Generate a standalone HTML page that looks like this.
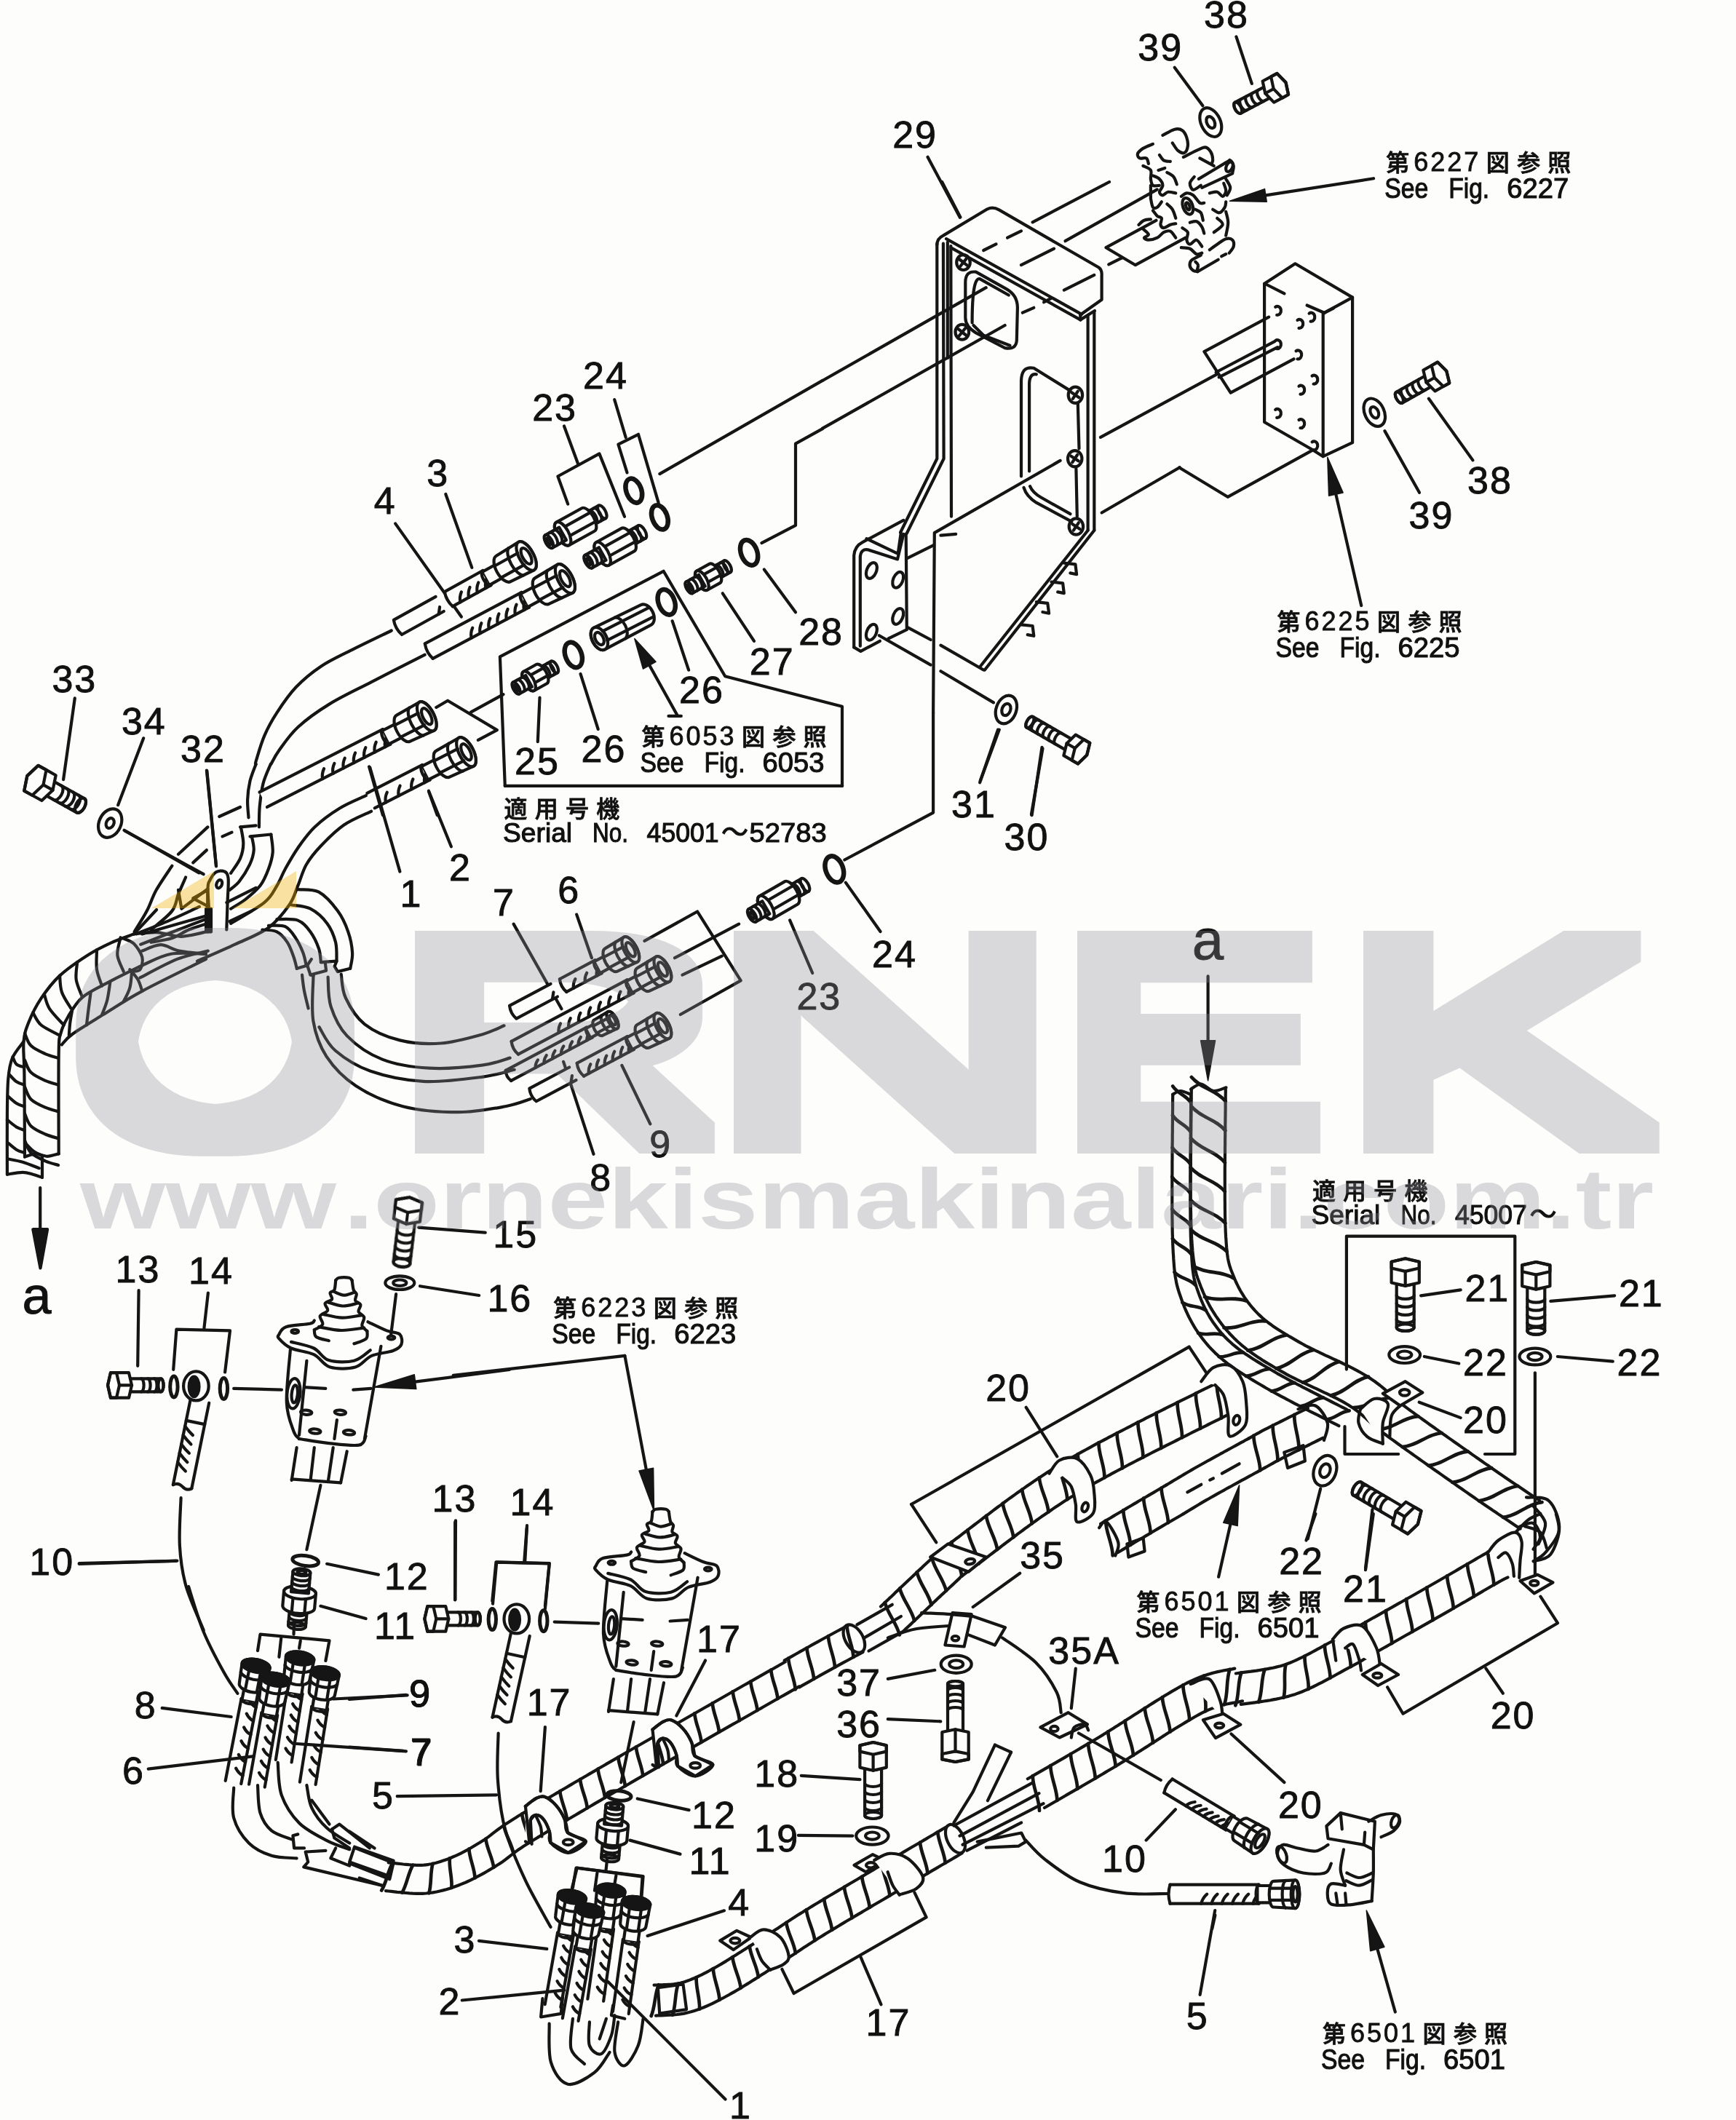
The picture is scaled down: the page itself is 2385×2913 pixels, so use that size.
<!DOCTYPE html>
<html><head><meta charset="utf-8"><title>Parts diagram</title>
<style>
html,body{margin:0;padding:0;background:#fdfdfb;}
svg{display:block}
.d path,.d ellipse,.d line,.d circle,.d rect{fill:none;stroke:#151515;stroke-width:4.2;stroke-linecap:round;stroke-linejoin:round}
.d .w{fill:#fdfdfb}
.d .k{fill:#151515}
text{font-family:"Liberation Sans",sans-serif}
.n{font-size:52px;fill:#111;letter-spacing:2px;stroke:#111;stroke-width:.9px}
.s{font-size:31px;fill:#111;font-family:"Liberation Sans","Noto Sans CJK JP",sans-serif;stroke:#111;stroke-width:1.1px}
.j{font-size:27px;fill:#111;font-family:"Liberation Sans","Noto Sans CJK JP",sans-serif;font-weight:500;stroke:#111;stroke-width:.8px}
.wm{font-weight:bold;fill:#8b8992;fill-opacity:.315}
</style></head><body>
<svg width="2385" height="2913" viewBox="0 0 2385 2913">
<rect width="2385" height="2913" fill="#fdfdfb"/>
<g opacity=".999">
<!-- 10_junction.py -->
<g class="d">
<path d="M283.9 1058.6 L296.9 1189.7"/>
<path d="M171.6 1141.6 L279.6 1201.2"/>
<path d="M285.4 1280.4 C285.4 1270.8 284.9 1234.6 285.4 1222.8 C285.8 1211.1 286.3 1213.9 288.2 1209.9 C290.2 1205.8 293.5 1200.4 296.9 1198.3 C300.2 1196.3 305.6 1196 308.4 1197.5 C311.2 1198.9 312.9 1200.3 313.6 1207 C314.3 1213.6 313.1 1225.5 312.7 1237.2 C312.3 1249 311.5 1270.8 311.3 1277.5" style="fill:#fdfdfb;"/>
<path d="M283.1 1248.7 L290 1248.7 L290 1280.4 L283.1 1280.4 Z" style="fill:#151515;"/>
<ellipse cx="301.2" cy="1214.7" rx="3.7" ry="5.8" transform="rotate(20 301.2 1214.7)"/>
<path d="M245 1222.8 L249.4 1248.7 L285.4 1221.4"/>
<path d="M265.2 1234.3 L285.4 1222.8 L286.8 1245.9 Z"/>
<path d="M330 1136.4 L351.6 1134.4"/>
<path d="M330.9 1136.4 C331.5 1140.2 334.5 1152.2 334.3 1159.4 C334.2 1166.6 332.9 1172.9 330 1179.6 C327.1 1186.3 319.2 1196.4 317.1 1199.8"/>
<path d="M343.5 1149.4 L372.4 1146.5"/>
<path d="M345.9 1149.4 C346.3 1152.5 349.2 1161.6 348.7 1168.1 C348.3 1174.6 346.3 1181 343 1188.2 C339.6 1195.4 333.1 1205.5 328.6 1211.3 C324 1217.1 317.8 1220.9 315.6 1222.8"/>
<path d="M372.4 1146.5 C372.7 1150.6 375.2 1163 374.7 1171 C374.1 1178.9 371.8 1186.3 368.9 1194 C366 1201.7 362.7 1210.1 357.4 1217.1 C352.1 1224 343.9 1230.5 337.2 1235.8 C330.5 1241.1 320.4 1246.6 317.1 1248.7"/>
<path d="M351.6 1050 C350.3 1053.8 345.5 1064.9 343.5 1073 C341.6 1081.2 340.4 1090.6 340.1 1099 C339.8 1107.4 341.3 1119.4 341.5 1123.4"/>
<path d="M371.8 1050 C370.1 1054.3 364.2 1066.3 361.7 1075.9 C359.2 1085.5 357.8 1097.5 356.8 1107.6 C355.8 1117.7 356.1 1131.6 355.9 1136.4"/>
<path d="M502.8 1093.2 C496.8 1096.1 478.6 1103.3 466.8 1110.5 C455.1 1117.7 441.9 1127.3 432.3 1136.4 C422.7 1145.5 415.9 1155.6 409.2 1165.2 C402.5 1174.8 396.7 1185.4 391.9 1194 C387.1 1202.6 385.2 1209.4 380.4 1217.1 C375.6 1224.7 373.7 1231.5 363.1 1240.1 C352.6 1248.7 324.7 1264.1 317.1 1268.9"/>
<path d="M510 1114.8 C503.8 1117.9 484.1 1125.6 472.6 1133.5 C461.1 1141.4 449.5 1153.2 440.9 1162.3 C432.3 1171.4 426 1179.1 420.7 1188.2 C415.5 1197.4 413.1 1207.9 409.2 1217.1 C405.4 1226.2 404.4 1233.4 397.7 1243 C391 1252.6 381.4 1265.5 368.9 1274.7 C356.4 1283.8 339.1 1290 322.8 1297.7 C306.5 1305.4 279.6 1316.9 271 1320.7"/>
<path d="M301.2 1122 L330 1109"/>
<path d="M305.5 1149.4 L318.5 1143.6"/>
<path d="M245 1173.8 L285.4 1136.4"/>
<path d="M265.2 1185.4 L283.9 1168.1"/>
<path d="M236.4 1189.7 C232.8 1195.2 220.6 1212.5 214.8 1222.8 C209 1233.1 206.9 1242 201.8 1251.6 C196.8 1261.2 187.4 1275.6 184.6 1280.4"/>
<path d="M255.1 1205.5 C253.4 1209.4 248.2 1220.9 245 1228.6 C241.9 1236.3 242.6 1243.5 236.4 1251.6 C230.2 1259.8 212.4 1273.2 207.6 1277.5"/>
<path d="M311.3 1240.1 L351.6 1219.9"/>
<path d="M315.6 1266 L345.9 1251.6"/>
<path d="M285.4 1268.9 C281 1270.3 267.6 1274.2 259.4 1277.5 C251.3 1280.9 245 1286.2 236.4 1289.1 C227.8 1291.9 212.4 1293.9 207.6 1294.8"/>
<path d="M273.8 1245.9 C267.6 1248.7 250.8 1256.9 236.4 1263.1 C222 1269.4 195.6 1279.9 187.4 1283.3"/>
<path d="M282.5 1263.1 C276.2 1265.5 259.9 1271.8 245 1277.5 C230.2 1283.3 201.8 1294.3 193.2 1297.7"/>
<path d="M409.2 1222.2 C414 1222.8 428.9 1220.8 438 1225.7 C447.1 1230.6 457.2 1242.5 463.9 1251.6 C470.7 1260.7 475 1270.8 478.3 1280.4 C481.7 1290 483.6 1300.8 484.1 1309.2 C484.6 1317.6 481.7 1327.2 481.2 1330.8"/>
<path d="M400.6 1243.5 C404.9 1244.4 418.3 1244.5 426.5 1248.7 C434.7 1253 443.8 1261.2 449.5 1268.9 C455.3 1276.6 458.9 1286.2 461.1 1294.8 C463.2 1303.5 462.3 1316.4 462.5 1320.7"/>
<path d="M380.4 1263.1 C385.2 1263.4 401.5 1261.7 409.2 1264.6 C416.9 1267.5 421.7 1273.9 426.5 1280.4 C431.3 1286.9 435.6 1296.5 438 1303.5 C440.4 1310.4 440.4 1319.1 440.9 1322.2"/>
<path d="M368.9 1271.8 C372.7 1272 385.7 1270.3 391.9 1273.2 C398.2 1276.1 402.3 1283.1 406.3 1289.1 C410.4 1295.1 414 1303 416.4 1309.2 C418.8 1315.5 420 1323.6 420.7 1326.5"/>
<path d="M360.3 1277.5 C363.6 1278 374.7 1277.5 380.4 1280.4 C386.2 1283.3 391 1289.1 394.8 1294.8 C398.7 1300.6 401.3 1309 403.5 1315 C405.6 1321 407.1 1328.2 407.8 1330.8"/>
<path d="M407.8 1330.8 L422.2 1326.5 L426.5 1339.5 L448.1 1333.7 L446.7 1322.2 L440.9 1322.2"/>
<path d="M422.2 1326.5 L427.9 1317.9"/>
<path d="M440.9 1322.2 L462.5 1320.7 L459.6 1327.9 L463.9 1335.1 L481.2 1330.8"/>
<path d="M426.5 1339.5 L430.8 1340.9"/>
<path d="M415 1339.5 C415.5 1343.1 416.4 1353.4 417.9 1361.1 C419.3 1368.7 422.7 1381.5 423.6 1385.5"/>
</g>
<!-- 11_bundle_left.py -->
<g class="d">
<path d="M184 1283.4 C178.8 1285.4 163.2 1290.6 152.8 1295.3 C142.5 1300 133.5 1304.2 121.7 1311.7 C109.9 1319.2 92.9 1330.6 82.1 1340.6 C71.2 1350.6 63.7 1361.1 56.6 1371.7 C49.5 1382.3 43.6 1394.3 39.6 1404.2 C35.6 1414.2 33.6 1419.1 32.5 1431.1 C31.5 1443.2 33.2 1450 33.4 1476.4 C33.6 1502.8 33.9 1570.8 34 1589.6"/>
<path d="M195.3 1326.4 C187.7 1330.2 163.7 1341.7 150 1349.1 C136.3 1356.4 122.6 1362.3 113.2 1370.3 C103.8 1378.3 98.3 1388.9 93.4 1397.2 C88.4 1405.4 85.6 1411.3 83.5 1419.8 C81.4 1428.3 81.1 1420.5 80.7 1448.1 C80.2 1475.7 80.7 1562.5 80.7 1585.4"/>
<path d="M283 1317.9 C268.4 1325.2 218.9 1349.1 195.3 1361.8 C171.7 1374.5 157.5 1384.4 141.5 1394.3 C125.5 1404.2 108.5 1414.4 99.1 1421.2 C89.6 1428.1 87.3 1433 84.9 1435.4"/>
<path d="M32.5 1431.1 C30 1434.9 20.5 1445.3 17 1453.8 C13.4 1462.3 12.5 1468.9 11.3 1482.1 C10.1 1495.3 10.1 1511.1 9.9 1533 C9.7 1555 9.9 1600.2 9.9 1613.7"/>
<path d="M34 1589.6 C35.4 1589.2 39.6 1587.5 42.5 1586.8 C45.3 1586.1 47.2 1585 50.9 1585.4 C54.7 1585.7 60.1 1588.8 65.1 1588.8 C70 1588.8 78.1 1585.9 80.7 1585.4"/>
<path d="M9.9 1613.7 C13.4 1613.2 25.2 1610.8 31.1 1610.8 C37 1610.8 40.8 1612.5 45.3 1613.7 C49.8 1614.9 55.9 1617.2 58 1617.9"/>
<path d="M58 1617.9 L58 1588.2"/>
<path d="M34 1419.8 C35.4 1422.6 37.7 1432.1 42.5 1436.8 C47.2 1441.5 56 1445.3 62.3 1448.1 C68.5 1450.9 77.1 1452.8 80.1 1453.8"/>
<path d="M34 1456.6 C35.4 1459.4 37.7 1468.9 42.5 1473.6 C47.2 1478.3 56 1482.1 62.3 1484.9 C68.5 1487.7 77.1 1489.6 80.1 1490.6"/>
<path d="M34 1493.4 C35.4 1496.2 37.7 1505.7 42.5 1510.4 C47.2 1515.1 56 1518.9 62.3 1521.7 C68.5 1524.5 77.1 1526.4 80.1 1527.4"/>
<path d="M34 1530.2 C35.4 1533 37.7 1542.5 42.5 1547.2 C47.2 1551.9 56 1555.7 62.3 1558.5 C68.5 1561.3 77.1 1563.2 80.1 1564.2"/>
<path d="M34 1567 C35.4 1569.8 37.7 1579.2 42.5 1584 C47.2 1588.7 56 1592.5 62.3 1595.3 C68.5 1598.1 77.1 1600 80.1 1600.9"/>
<path d="M17.5 1452.4 C18.4 1454 20 1459.9 22.6 1462.3 C25.3 1464.6 31.6 1465.8 33.4 1466.5"/>
<path d="M12.7 1476.4 C14.4 1478.1 19.2 1484 22.6 1486.3 C26.1 1488.7 31.6 1489.9 33.4 1490.6"/>
<path d="M10.8 1506.1 C12.7 1507.8 18.9 1513.7 22.6 1516 C26.4 1518.4 31.6 1519.6 33.4 1520.3"/>
<path d="M9.9 1538.7 C12 1540.3 18.7 1546.2 22.6 1548.6 C26.6 1550.9 31.6 1552.1 33.4 1552.8"/>
<path d="M10.2 1569.8 C12.3 1571.5 18.8 1577.4 22.6 1579.7 C26.5 1582.1 31.6 1583.3 33.4 1584"/>
<path d="M11.3 1592.5 C14.6 1593.2 24.1 1594.6 31.1 1596.7 C38.2 1598.8 50 1603.8 53.8 1605.2"/>
<path d="M34 1569.8 C35.8 1571.7 41.3 1578.1 45.3 1581.1 C49.3 1584.2 55.9 1587 58 1588.2"/>
<path d="M165.6 1288.2 C164.9 1292.2 160.6 1304.5 161.3 1312.3 C162 1320 168.4 1331.1 169.8 1334.9"/>
<path d="M133 1305.2 C133 1309.7 131.8 1323.8 133 1332.1 C134.2 1340.3 138.9 1350.9 140.1 1354.7"/>
<path d="M106.1 1322.2 C105.9 1326.2 103.5 1338.2 104.7 1346.2 C105.9 1354.2 111.8 1366.3 113.2 1370.3"/>
<path d="M82.1 1340.6 C82.5 1344.3 82.3 1355.7 84.9 1363.2 C87.5 1370.8 95.5 1382.1 97.6 1385.8"/>
<path d="M60.8 1366 C62 1369.3 63.4 1378.8 67.9 1385.8 C72.4 1392.9 84.4 1404.7 87.7 1408.5"/>
<path d="M45.3 1391.5 C47.2 1394.3 50.5 1403.3 56.6 1408.5 C62.7 1413.7 77.8 1420.3 82.1 1422.6"/>
<path d="M181.1 1334.9 C180.7 1338.7 180.2 1350.7 178.3 1357.5 C176.4 1364.4 171.2 1372.9 169.8 1375.9"/>
<path d="M151.4 1349.1 C150.7 1353.3 149.1 1367 147.2 1374.5 C145.3 1382.1 141.3 1391 140.1 1394.3"/>
<path d="M124.5 1364.6 C124.1 1368.2 122.6 1378.5 121.7 1385.8 C120.8 1393.2 119.3 1404.7 118.9 1408.5"/>
<path d="M99.1 1388.7 C98.6 1391.5 96.9 1400 96.2 1405.7 C95.5 1411.3 95 1419.8 94.8 1422.6"/>
<path d="M169.8 1289.6 C172.2 1290.8 179.7 1292.5 184 1296.7 C188.2 1300.9 193.9 1309.2 195.3 1315.1 C196.7 1321 194.8 1328.8 192.5 1332.1 C190.1 1335.4 183 1334.4 181.1 1334.9"/>
<path d="M178.3 1332.1 C180.2 1334.4 186.8 1341.3 189.6 1346.2 C192.5 1351.2 194.3 1359.2 195.3 1361.8"/>
<path d="M184 1283.4 C189.2 1283 204.2 1280.6 215.1 1281.1 C225.9 1281.7 237.3 1287 249.1 1286.8 C260.8 1286.6 279.7 1280.9 285.8 1279.7"/>
<path d="M195.3 1306.6 C199.5 1305.2 212.3 1298.1 220.8 1298.1 C229.2 1298.1 235.8 1304.5 246.2 1306.6 C256.6 1308.7 276.9 1310.1 283 1310.8"/>
<path d="M195.3 1326.4 C201.9 1323.8 220.3 1313.4 234.9 1310.8 C249.5 1308.3 275 1310.8 283 1310.8"/>
<path d="M192.5 1343.4 C200.9 1339.2 227.8 1324.1 243.4 1317.9 C259 1311.8 278.8 1308.5 285.8 1306.6"/>
<path d="M184 1283.4 L215.1 1250"/>
<path d="M195.3 1283.4 L283 1258.5"/>
<path d="M55.2 1632.1 L55.2 1691.5"/>
<path d="M45.3 1689.2 L65.1 1689.2 L55.5 1742.5 Z" style="fill:#151515;"/>
<text class="n" x="30.6" y="1805.3" style="font-size:72px">a</text>
</g>
<!-- 12_topleft.py -->
<g class="d">
<text class="n" x="71.4" y="950.6">33</text>
<text class="n" x="166.9" y="1009.4">34</text>
<text class="n" x="248" y="1046.9">32</text>
<path d="M102.8 959.4 L87.1 1071.1"/>
<path d="M197.2 1014.3 L162.1 1106.2"/>
<path d="M284.3 1059 L297.1 1190.4"/>
<g transform="translate(48.4 1072.3) rotate(29)"><path class="w" d="M15 -11 L71 -11 A6.1 11 0 0 1 71 11 L15 11 Z"/><ellipse cx="71" cy="0" rx="6.1" ry="11"/><path d="M62 -11 A6.1 11 0 0 1 62 11M53 -11 A6.1 11 0 0 1 53 11M44 -11 A6.1 11 0 0 1 44 11M35 -11 A6.1 11 0 0 1 35 11"/><ellipse class="w" cx="17" cy="0" rx="8.3" ry="15.2"/><path class="w" d="M-6.3 19.9 L6.3 19.9 L21.3 19.9 L27.6 0 L21.3 -19.9 L6.3 -19.9 L-6.3 -19.9 L-12.7 0 Z"/><path d="M12.7 0 L6.3 19.9 L-6.3 19.9 L-12.7 0 L-6.3 -19.9 L6.3 -19.9 Z"/><path d="M12.7 0 L27.6 0"/></g>
<ellipse class="w" cx="151.2" cy="1131.1" rx="15" ry="20.6" transform="rotate(25 151.2 1131.1)"/>
<ellipse cx="151.2" cy="1131.1" rx="5.2" ry="7.2" transform="rotate(25 151.2 1131.1)"/>
<path d="M170.6 1140.8 L273.4 1199.4"/>
</g>
<!-- 13_hoses1234.py -->
<g class="d">
<text class="n" x="586.3" y="667.5">3</text>
<text class="n" x="513.8" y="706.4">4</text>
<path d="M612.3 679 L648.3 779.9"/>
<path d="M543.1 719.4 L633.9 847.5"/>
<g transform="translate(723.1 764) rotate(-29)"><path class="w" d="M-122 -11.5 L-62 -11.5 L-62 11.5 L-122 11.5"/><path d="M-122 -11.5 Q-126 0 -122 11.5"/><path d="M-110 11.5 q2 -6.9 8 -11.5M-96.7 11.5 q2 -6.9 8 -11.5M-83.3 11.5 q2 -6.9 8 -11.5M-70 11.5 q2 -6.9 8 -11.5"/><path class="w" d="M-62 -10.3 L-32 -10.3 L-32 10.3 L-62 10.3"/><path d="M-62 -11.5 A5.2 11.5 0 0 0 -62 11.5"/><path class="w" d="M-136 -11.5 L-202 -11.5 Q-206 0 -202 11.5 L-136 11.5"/><path d="M-144 11.5 l6 -8"/></g>
<g transform="translate(723.1 764) rotate(-29)"><path class="w" d="M-36 -20.2 L0 -22 A9.9 22 0 0 1 0 22 L-36 20.2 A9.9 20.2 0 0 1 -36 -20.2 Z"/><ellipse class="w" cx="0" cy="0" rx="9.9" ry="22"/><ellipse cx="0" cy="0" rx="5.4" ry="12.1"/><path d="M-43.9 -9.2 L-8.4 -9.2 M-43.9 9.2 L-8.4 9.2"/><path d="M-16.2 -21.3 A9.9 22 0 0 0 -16.2 21.3"/></g>
<path d="M537.7 866.5 C528.3 871.1 497.6 885.7 481.5 893.9 C465.4 902.1 453.7 907.1 441.2 915.5 C428.7 923.9 416.7 933.7 406.6 944.3 C396.5 954.9 387.9 967.8 380.7 978.9 C373.5 989.9 368.2 999.5 363.4 1010.6 C358.6 1021.6 353.9 1038.5 351.9 1045.1 C349.9 1051.7 351.6 1049.2 351.6 1050"/>
<g transform="translate(776.4 795.1) rotate(-28)"><path class="w" d="M-212 -11.5 L-62 -11.5 L-62 11.5 L-212 11.5"/><path d="M-212 -11.5 Q-216 0 -212 11.5"/><path d="M-152 11.5 q2 -6.9 8 -11.5M-138.3 11.5 q2 -6.9 8 -11.5M-124.7 11.5 q2 -6.9 8 -11.5M-111 11.5 q2 -6.9 8 -11.5M-97.3 11.5 q2 -6.9 8 -11.5M-83.7 11.5 q2 -6.9 8 -11.5M-70 11.5 q2 -6.9 8 -11.5"/><path class="w" d="M-62 -10.3 L-32 -10.3 L-32 10.3 L-62 10.3"/><path d="M-62 -11.5 A5.2 11.5 0 0 0 -62 11.5"/></g>
<g transform="translate(776.4 795.1) rotate(-28)"><path class="w" d="M-36 -20.2 L0 -22 A9.9 22 0 0 1 0 22 L-36 20.2 A9.9 20.2 0 0 1 -36 -20.2 Z"/><ellipse class="w" cx="0" cy="0" rx="9.9" ry="22"/><ellipse cx="0" cy="0" rx="5.4" ry="12.1"/><path d="M-43.9 -9.2 L-8.4 -9.2 M-43.9 9.2 L-8.4 9.2"/><path d="M-16.2 -21.3 A9.9 22 0 0 0 -16.2 21.3"/></g>
<path d="M583.7 899.7 C571.5 905.9 532.1 925.8 510.3 937.1 C488.5 948.4 469.5 957 452.7 967.4 C435.9 977.7 421 988.5 409.5 999 C398 1009.6 389.8 1022.2 383.6 1030.7 C377.4 1039.2 374.2 1046.8 372.3 1050"/>
<g transform="translate(586.3 984.3) rotate(-27)"><path class="w" d="M-252 -11.5 L-62 -11.5 L-62 11.5 L-252 11.5"/><path d="M-166.5 11.5 q2 -6.9 8 -11.5M-150.4 11.5 q2 -6.9 8 -11.5M-134.3 11.5 q2 -6.9 8 -11.5M-118.2 11.5 q2 -6.9 8 -11.5M-102.2 11.5 q2 -6.9 8 -11.5M-86.1 11.5 q2 -6.9 8 -11.5M-70 11.5 q2 -6.9 8 -11.5"/><path class="w" d="M-62 -10.3 L-32 -10.3 L-32 10.3 L-62 10.3"/><path d="M-62 -11.5 A5.2 11.5 0 0 0 -62 11.5"/></g>
<g transform="translate(586.3 984.3) rotate(-27)"><path class="w" d="M-36 -20.2 L0 -22 A9.9 22 0 0 1 0 22 L-36 20.2 A9.9 20.2 0 0 1 -36 -20.2 Z"/><ellipse class="w" cx="0" cy="0" rx="9.9" ry="22"/><ellipse cx="0" cy="0" rx="5.4" ry="12.1"/><path d="M-43.9 -9.2 L-8.4 -9.2 M-43.9 9.2 L-8.4 9.2"/><path d="M-16.2 -21.3 A9.9 22 0 0 0 -16.2 21.3"/></g>
<g transform="translate(640.5 1033.3) rotate(-27)"><path class="w" d="M-147 -11.5 L-62 -11.5 L-62 11.5 L-147 11.5"/><path d="M-130 11.5 q2 -6.9 8 -11.5M-110 11.5 q2 -6.9 8 -11.5M-90 11.5 q2 -6.9 8 -11.5M-70 11.5 q2 -6.9 8 -11.5"/><path class="w" d="M-62 -10.3 L-32 -10.3 L-32 10.3 L-62 10.3"/><path d="M-62 -11.5 A5.2 11.5 0 0 0 -62 11.5"/></g>
<g transform="translate(640.5 1033.3) rotate(-27)"><path class="w" d="M-36 -20.2 L0 -22 A9.9 22 0 0 1 0 22 L-36 20.2 A9.9 20.2 0 0 1 -36 -20.2 Z"/><ellipse class="w" cx="0" cy="0" rx="9.9" ry="22"/><ellipse cx="0" cy="0" rx="5.4" ry="12.1"/><path d="M-43.9 -9.2 L-8.4 -9.2 M-43.9 9.2 L-8.4 9.2"/><path d="M-16.2 -21.3 A9.9 22 0 0 0 -16.2 21.3"/></g>
<path d="M507.1 1053.5 L525.9 1120"/>
<path d="M589.2 1088 L600.7 1120"/>
<path d="M599.3 972 L615.1 962.7 L682.8 1003.1 L656.9 1016.9"/>
<path d="M646.8 978.6 L691.5 954.1"/>
</g>
<!-- 14_fittings.py -->
<g class="d">
<text class="n" x="801" y="533.6">24</text>
<text class="n" x="731.2" y="577.8">23</text>
<path d="M844.2 549.1 L859.7 601"/>
<path d="M861.5 649.4 L849.4 610.6 L877 596.8 L904.7 690.8"/>
<path d="M775 585.4 L794.1 637.3"/>
<path d="M780.2 692.6 L766.4 654.5 L823.4 623.4 L858 709.8"/>
<ellipse cx="870.8" cy="674.2" rx="10.4" ry="17.3" transform="rotate(-20 870.8 674.2)" style="stroke-width:6.5"/>
<ellipse cx="906.4" cy="710.9" rx="10.4" ry="17.3" transform="rotate(-20 906.4 710.9)" style="stroke-width:6.5"/>
<g transform="translate(790.6 723.7) rotate(-29)"><path class="w" d="M20 -10 L42 -10 L42 10 L20 10 Z"/><ellipse class="w" cx="42" cy="0" rx="4.5" ry="10"/><path d="M27 -10 A4.5 10 0 0 1 27 10M34 -10 A4.5 10 0 0 1 34 10"/><path class="w" d="M-20 -18 L20 -18 A8.1 18 0 0 1 20 18 L-20 18 A8.1 18 0 0 1 -20 -18 Z"/><path d="M-12.7 -7.2 L27.3 -7.2 M-12.7 7.2 L27.3 7.2"/><ellipse class="w" cx="-20" cy="0" rx="8.1" ry="18"/><path class="w" d="M-42 -10 L-20 -10 L-20 10 L-42 10 Z"/><ellipse class="w" cx="-42" cy="0" rx="4.5" ry="10"/><path d="M-35 -10 A4.5 10 0 0 1 -35 10M-28 -10 A4.5 10 0 0 1 -28 10"/><ellipse cx="-42" cy="0" rx="2.2" ry="5"/></g>
<g transform="translate(845.2 751.3) rotate(-29)"><path class="w" d="M20 -10 L42 -10 L42 10 L20 10 Z"/><ellipse class="w" cx="42" cy="0" rx="4.5" ry="10"/><path d="M27 -10 A4.5 10 0 0 1 27 10M34 -10 A4.5 10 0 0 1 34 10"/><path class="w" d="M-20 -18 L20 -18 A8.1 18 0 0 1 20 18 L-20 18 A8.1 18 0 0 1 -20 -18 Z"/><path d="M-12.7 -7.2 L27.3 -7.2 M-12.7 7.2 L27.3 7.2"/><ellipse class="w" cx="-20" cy="0" rx="8.1" ry="18"/><path class="w" d="M-42 -10 L-20 -10 L-20 10 L-42 10 Z"/><ellipse class="w" cx="-42" cy="0" rx="4.5" ry="10"/><path d="M-35 -10 A4.5 10 0 0 1 -35 10M-28 -10 A4.5 10 0 0 1 -28 10"/><ellipse cx="-42" cy="0" rx="2.2" ry="5"/></g>
<path d="M906.4 651.1 L1130 522.9"/>
<path d="M1130 589.2 L1093 609.6 L1093 721.9 L1046.4 746.1"/>
<ellipse cx="1029.1" cy="759.3" rx="11.1" ry="18" transform="rotate(-20 1029.1 759.3)" style="stroke-width:6.5"/>
<g transform="translate(973.1 792.8) rotate(-29)"><path class="w" d="M10 -9 L30 -9 L30 9 L10 9 Z"/><ellipse class="w" cx="30" cy="0" rx="4" ry="9"/><path d="M17 -9 A4 9 0 0 1 17 9M24 -9 A4 9 0 0 1 24 9"/><path class="w" d="M-10 -15 L10 -15 A6.8 15 0 0 1 10 15 L-10 15 A6.8 15 0 0 1 -10 -15 Z"/><path d="M-3.9 -6 L16.1 -6 M-3.9 6 L16.1 6"/><ellipse class="w" cx="-10" cy="0" rx="6.8" ry="15"/><path class="w" d="M-30 -9 L-10 -9 L-10 9 L-30 9 Z"/><ellipse class="w" cx="-30" cy="0" rx="4" ry="9"/><path d="M-23 -9 A4 9 0 0 1 -23 9M-16 -9 A4 9 0 0 1 -16 9"/><ellipse cx="-30" cy="0" rx="2" ry="4.5"/></g>
<path d="M992.8 815.3 L1036 880.9"/>
<text class="n" x="1029.8" y="926.9">27</text>
<path d="M1049.8 782.4 L1093 841.2"/>
<text class="n" x="1097.2" y="886.1">28</text>
<path d="M693.8 1080 L686.9 902.4 L911.6 784.8 L996.2 929.3 L1157 970.8 L1157 1080"/>
<g transform="translate(823.4 877.5) rotate(153)"><path class="w" d="M-72 -15.4 L0 -16.7 A10 16.7 0 0 1 0 16.7 L-72 15.4 A10 15.4 0 0 1 -72 -15.4 Z"/><ellipse class="w" cx="0" cy="0" rx="10" ry="16.7"/><ellipse cx="0" cy="0" rx="5.5" ry="9.2"/><path d="M-80 -7 L-8.5 -7 M-80 7 L-8.5 7"/><path d="M-32.4 -16.2 A10 16.7 0 0 0 -32.4 16.2"/></g>
<ellipse cx="915.7" cy="827.4" rx="11.1" ry="18" transform="rotate(-20 915.7 827.4)" style="stroke-width:6.5"/>
<ellipse cx="787.8" cy="899.9" rx="11.1" ry="18" transform="rotate(-20 787.8 899.9)" style="stroke-width:6.5"/>
<g transform="translate(735.3 931) rotate(-29)"><path class="w" d="M10 -9 L30 -9 L30 9 L10 9 Z"/><ellipse class="w" cx="30" cy="0" rx="4" ry="9"/><path d="M17 -9 A4 9 0 0 1 17 9M24 -9 A4 9 0 0 1 24 9"/><path class="w" d="M-10 -15 L10 -15 A6.8 15 0 0 1 10 15 L-10 15 A6.8 15 0 0 1 -10 -15 Z"/><path d="M-3.9 -6 L16.1 -6 M-3.9 6 L16.1 6"/><ellipse class="w" cx="-10" cy="0" rx="6.8" ry="15"/><path class="w" d="M-30 -9 L-10 -9 L-10 9 L-30 9 Z"/><ellipse class="w" cx="-30" cy="0" rx="4" ry="9"/><path d="M-23 -9 A4 9 0 0 1 -23 9M-16 -9 A4 9 0 0 1 -16 9"/><ellipse cx="-30" cy="0" rx="2" ry="4.5"/></g>
<path d="M930.6 982.9 L892.3 914.2"/>
<path class="k" d="M901 909.3 L871.8 877.5 L883.5 919 Z" style="stroke-width:1.5"/>
<path d="M918.5 983.9 L935.8 983.9"/>
<path d="M923.7 853.3 L946.1 920.7"/>
<text class="n" x="933" y="965.6">26</text>
<path d="M797.5 925.9 L821.7 1001.9"/>
<text class="n" x="798.5" y="1046.8">26</text>
<path d="M741.5 958.7 L738.8 1019.2"/>
<text class="n" x="707" y="1064.1">25</text>
<text class="j" y="1024" style="font-size:32px"><tspan x="881.5">第</tspan><tspan x="919.5" style="font-size:36px" textLength="89" lengthAdjust="spacing">6053</tspan><tspan x="1019">図</tspan><tspan x="1061.5">参</tspan><tspan x="1103.5">照</tspan></text>
<text class="s" y="1061" style="font-size:38px"><tspan x="879.5" textLength="60" lengthAdjust="spacingAndGlyphs">See</tspan> <tspan x="967.5" textLength="56" lengthAdjust="spacingAndGlyphs">Fig.</tspan> <tspan x="1047.5" textLength="85" lengthAdjust="spacingAndGlyphs">6053</tspan></text>
</g>
<!-- 15_panel.py -->
<g class="d">
<path d="M1294.2 250 L1319.4 298.4"/>
<path d="M1287.3 336.4 Q1287.6 327.4 1295.9 323.6 L1356.4 287.3 Q1364 283.5 1372.6 288.4 L1509.5 367.5 Q1514.3 371 1513.6 378.6 L1513.6 411.8 L1484.3 432.5"/>
<path d="M1300 328.1 L1486 431.8"/>
<path d="M1307 340.6 L1484.3 439.4"/>
<path d="M1484.3 432.5 L1484.3 439.4"/>
<path d="M1484.3 439.4 L1504 427"/>
<path d="M1287.3 334.7 L1287.3 630.2 L1237.1 731.5"/>
<path d="M1295.9 334.7 L1296.6 630.2 L1245.8 732.8"/>
<path d="M1306.3 338.1 L1307 709.7"/>
<path d="M1301.8 332.9 L1301.8 491.9"/>
<path d="M1494.6 433.2 L1494.6 728.7"/>
<path d="M1503.3 428 L1503.3 728.7"/>
<path d="M1503.3 728.7 L1352.9 920.5"/>
<path d="M1494.6 728.7 L1347.1 915.3"/>
<path d="M1461.8 773.6 L1477.4 775.3 L1479.1 789.2 L1470.4 787.4"/>
<path d="M1444.5 799.5 L1460.1 801.3 L1461.8 815.1 L1453.2 813.4"/>
<path d="M1423.8 827.2 L1439.3 828.9 L1441.1 842.7 L1432.4 841"/>
<path d="M1403 858.3 L1418.6 860 L1420.3 873.8 L1411.7 872.1"/>
<path d="M1351.2 920.5 L1292.4 886.6"/>
<path d="M1278.6 879 L1247.5 862.4"/>
<path d="M1207.8 873.2 L1278.6 913.6"/>
<path d="M1292.4 922.2 L1365 965.4"/>
<path d="M1173.2 889.4 L1173.2 763.2 Q1174.2 750.5 1185.3 744.9 L1241.3 714.9"/>
<path d="M1181.8 887.7 L1181.8 765 Q1182.9 753.9 1192.2 755.3 L1233 768.4 L1241.3 733.9"/>
<path d="M1190.5 740.1 L1233.7 760.8 L1237.8 732.1"/>
<path d="M1173.2 889.4 L1182.5 894.9 L1208.8 880.8"/>
<path d="M1244.7 733.9 L1245.8 865.2 L1220.6 877.3"/>
<path d="M1245.8 767.4 L1282.1 749.4"/>
<ellipse cx="1197.4" cy="784" rx="6.6" ry="11.4" transform="rotate(22 1197.4 784)"/>
<ellipse cx="1197.4" cy="868.7" rx="6.6" ry="11.4" transform="rotate(22 1197.4 868.7)"/>
<ellipse cx="1233.7" cy="796.8" rx="6.6" ry="11.4" transform="rotate(22 1233.7 796.8)"/>
<ellipse cx="1233.7" cy="846.9" rx="6.6" ry="11.4" transform="rotate(22 1233.7 846.9)"/>
<path d="M1326.3 388.2 Q1326.3 371.7 1340.8 373.7 L1382.3 396.9 Q1397.9 405.5 1397.9 422.8 L1396.8 467.7 Q1396.1 480.9 1380.6 478.1 L1340.8 457.4 Q1326.3 448.7 1326.3 436.6 Z"/>
<path d="M1335.6 443.5 Q1335.6 380.6 1346 383.1 L1385.8 405.5"/>
<path d="M1337.4 447 L1351.2 460.8 L1387.5 474.7"/>
<ellipse cx="1323.5" cy="360.6" rx="9.3" ry="10.4"/>
<path d="M1318.4 356.5 L1328.7 364.7"/>
<path d="M1319.4 365.8 L1327.7 355.4"/>
<ellipse cx="1321.8" cy="456.3" rx="9.3" ry="10.4"/>
<path d="M1316.6 452.2 L1327 460.5"/>
<path d="M1317.7 461.5 L1326 451.2"/>
<path d="M1403 654.4 L1403 523 Q1403.7 502.3 1420.3 505.8 L1470.4 536.9"/>
<path d="M1414.1 647.5 L1414.1 526.5 Q1414.8 512.7 1423.8 514.4"/>
<path d="M1406.5 669.9 Q1410 682 1423.8 690.7 L1472.2 716.6"/>
<path d="M1415.1 668.2 Q1418.6 676.8 1430.7 683.8 L1470.4 706.2"/>
<path d="M1480.8 554.1 L1482.5 616.4"/>
<path d="M1478.4 644 L1479.8 709.7"/>
<ellipse cx="1477.4" cy="542.7" rx="9.7" ry="11.1"/>
<path d="M1472.2 539.3 L1482.5 546.2"/>
<path d="M1473.9 547.9 L1480.8 537.6"/>
<ellipse cx="1476.7" cy="630.2" rx="9.7" ry="11.1"/>
<path d="M1471.5 626.7 L1481.8 633.6"/>
<path d="M1473.2 635.4 L1480.1 625"/>
<ellipse cx="1478.4" cy="723.5" rx="9.7" ry="11.1"/>
<path d="M1473.2 720 L1483.6 727"/>
<path d="M1474.9 728.7 L1481.8 718.3"/>
<path d="M1130 523 L1354.7 395.2"/>
<path d="M1130 588.7 L1380.6 447"/>
<path d="M1456.6 632.9 L1283.8 732.1 L1282.1 980"/>
<path d="M1292.4 735.6 L1313.2 733.9"/>
<path d="M1418.6 305.3 L1524 250"/>
<path d="M1463.5 331.2 L1589.7 260.4"/>
<path d="M1351.2 344 L1368.5 335.4"/>
<path d="M1384 326.7 L1403 317.4"/>
<path d="M1403 364.1 L1448 341.6"/>
<path d="M1461.8 398.6 L1503.3 377.9"/>
<path d="M1404.8 429.7 L1420.3 422.8"/>
<path d="M1434.1 415.2 L1444.5 409.7"/>
<path d="M1511.9 600.8 L1673 513.7"/>
<path d="M1513.6 704.5 L1620.8 642.3"/>
</g>
<!-- 16_topright.py -->
<g class="d">
<text class="n" x="1654" y="38.3">38</text>
<text class="n" x="1563.3" y="82.7">39</text>
<path d="M1698.4 50.4 L1719.8 114.9"/>
<path d="M1613.7 92.7 L1652.4 145.2"/>
<g transform="translate(1758.1 117.7) rotate(152)"><path class="w" d="M13 -8.5 L65 -8.5 A4.2 8.5 0 0 1 65 8.5 L13 8.5 Z"/><ellipse cx="65" cy="0" rx="4.2" ry="8.5"/><path d="M56 -8.5 A4.2 8.5 0 0 1 56 8.5M47 -8.5 A4.2 8.5 0 0 1 47 8.5M38 -8.5 A4.2 8.5 0 0 1 38 8.5M29 -8.5 A4.2 8.5 0 0 1 29 8.5"/><ellipse class="w" cx="15" cy="0" rx="6.3" ry="12.5"/><path class="w" d="M-4.7 16.5 L4.8 16.5 L17.8 16.5 L22.5 0 L17.8 -16.5 L4.8 -16.5 L-4.8 -16.5 L-9.5 0 Z"/><path d="M9.5 0 L4.8 16.5 L-4.7 16.5 L-9.5 0 L-4.8 -16.5 L4.8 -16.5 Z"/><path d="M9.5 0 L22.5 0"/></g>
<ellipse class="w" cx="1663.3" cy="168.1" rx="13.3" ry="21" transform="rotate(-25 1663.3 168.1)"/>
<ellipse cx="1663.3" cy="168.1" rx="5.3" ry="8.4" transform="rotate(-25 1663.3 168.1)"/>
<path d="M1588.4 302.8 L1519.5 340.2 L1559.9 364.2 L1628.8 326.7"/>
<path d="M1523.2 363.4 L1541.2 354.4"/>
<path d="M1597.4 185.9 C1600.1 184.6 1609.3 178.8 1613.8 177.7 C1618.3 176.6 1621.6 177.3 1624.3 179.2 C1627.1 181.1 1629.1 185.3 1630.3 188.9 C1631.5 192.6 1632.3 197.4 1631.8 200.9 C1631.3 204.4 1629.6 208.9 1627.3 209.9 C1625.1 210.9 1621.1 209.2 1618.3 206.9 C1615.6 204.7 1612.1 198.2 1610.8 196.4"/>
<path d="M1625.8 215.9 C1628.8 214.4 1638.8 209.2 1643.8 206.9 C1648.8 204.7 1652.5 202.2 1655.8 202.4 C1659 202.7 1661.5 205.7 1663.2 208.4 C1665 211.2 1666 216.1 1666.2 218.9 C1666.5 221.6 1665 223.9 1664.7 224.9"/>
<path d="M1648.3 217.4 L1667.7 227.9"/>
<path d="M1646.8 245.9 C1653 242.1 1677 227.6 1684.2 223.4 C1691.5 219.1 1688.5 219.6 1690.2 220.4 C1692 221.1 1694.2 225 1694.7 227.9 C1695.2 230.8 1693.5 236 1693.2 237.6"/>
<path d="M1651.3 257.8 L1693.2 238.4"/>
<ellipse cx="1689" cy="229.1" rx="4.2" ry="7.2" transform="rotate(25 1689 229.1)"/>
<path d="M1583.9 197.9 C1581.6 198.9 1573.9 201.7 1570.4 203.9 C1566.9 206.2 1563.7 209.2 1562.9 211.4 C1562.2 213.7 1563.9 216.4 1565.9 217.4 C1567.9 218.4 1572.9 216.1 1574.9 217.4 C1576.9 218.6 1577.4 223.6 1577.9 224.9"/>
<path d="M1570.4 227.9 C1572.1 228.9 1579.1 230.9 1580.9 233.9 C1582.6 236.9 1580.4 242.4 1580.9 245.9 C1581.4 249.3 1581.9 253.3 1583.9 254.8 C1585.9 256.3 1591.4 254.8 1592.9 254.8"/>
<path d="M1592.9 212.9 C1593.9 214.2 1596.4 218.9 1598.8 220.4 C1601.3 221.9 1606.3 221.6 1607.8 221.9"/>
<path d="M1591.4 233.9 L1600.3 230.9"/>
<path d="M1603.3 236.9 C1604.8 237.9 1610.1 240.1 1612.3 242.9 C1614.6 245.6 1616.1 251.6 1616.8 253.3"/>
<path d="M1583.9 241.4 C1585.4 242.1 1590.6 243.6 1592.9 245.9 C1595.1 248.1 1597.4 251.8 1597.4 254.8 C1597.4 257.8 1592.9 261.6 1592.9 263.8 C1592.9 266.1 1595.4 268.3 1597.4 268.3 C1599.3 268.3 1601.8 264.3 1604.8 263.8 C1607.8 263.3 1613.6 265.1 1615.3 265.3"/>
<path d="M1580.9 254.8 L1580.9 272.8"/>
<path d="M1580.9 272.8 C1581.4 274.8 1582.4 282.8 1583.9 284.8 C1585.4 286.8 1587.9 286 1589.9 284.8 C1591.9 283.5 1594.9 278.6 1595.9 277.3"/>
<path d="M1603.3 280.3 C1604.6 281.5 1608.8 284.5 1610.8 287.8 C1612.8 291 1614.6 297.8 1615.3 299.8"/>
<path d="M1583.9 289.3 C1584.9 290.5 1587.9 295 1589.9 296.8 C1591.9 298.5 1595.1 297.8 1595.9 299.8 C1596.6 301.8 1593.9 306.5 1594.4 308.8 C1594.9 311 1596.6 313.2 1598.8 313.2 C1601.1 313.2 1605.1 309.8 1607.8 308.8 C1610.6 307.8 1614.1 307.5 1615.3 307.3"/>
<path d="M1564.4 308.8 C1565.6 307.8 1569.1 304 1571.9 302.8 C1574.6 301.5 1579.4 301.5 1580.9 301.3"/>
<path d="M1570.4 314.7 C1571.6 316 1577.6 320.2 1577.9 322.2 C1578.1 324.2 1571.9 325.5 1571.9 326.7 C1571.9 328 1574.9 329.7 1577.9 329.7 C1580.9 329.7 1586.4 328.5 1589.9 326.7 C1593.4 325 1595.9 320.7 1598.8 319.2 C1601.8 317.7 1605.1 316.5 1607.8 317.7 C1610.6 319 1614.1 325.2 1615.3 326.7"/>
<ellipse cx="1631.8" cy="283.3" rx="6.7" ry="11.7" transform="rotate(-20 1631.8 283.3)"/>
<ellipse cx="1631.8" cy="283.3" rx="2.5" ry="5.2" transform="rotate(-20 1631.8 283.3)"/>
<path d="M1622.8 269.8 C1624.1 269.1 1627.6 265.6 1630.3 265.3 C1633 265.1 1636.3 266.1 1639.3 268.3 C1642.3 270.6 1645.8 277.1 1648.3 278.8 C1650.8 280.5 1653.3 278.8 1654.3 278.8"/>
<path d="M1640.8 242.9 C1639.8 244.4 1635 248.8 1634.8 251.8 C1634.5 254.8 1636.8 260.3 1639.3 260.8 C1641.8 261.3 1648 255.8 1649.8 254.8"/>
<path d="M1661.8 265.3 C1663.5 265.1 1669.2 263.1 1672.2 263.8 C1675.2 264.6 1677.7 270.1 1679.7 269.8 C1681.7 269.6 1684 265.3 1684.2 262.3 C1684.5 259.3 1681.7 253.6 1681.2 251.8"/>
<path d="M1684.2 245.9 C1685.2 247.8 1690 254.1 1690.2 257.8 C1690.5 261.6 1686.5 266.6 1685.7 268.3"/>
<path d="M1666.2 287.8 C1667.7 288.5 1672.5 292.8 1675.2 292.3 C1678 291.8 1681.2 287.3 1682.7 284.8 C1684.2 282.3 1684 278.6 1684.2 277.3"/>
<path d="M1672.2 299.8 C1673.5 301.3 1680.5 305.5 1679.7 308.8 C1679 312 1669.7 317.5 1667.7 319.2"/>
<path d="M1684.2 290.8 C1684.7 293.3 1687.2 300.3 1687.2 305.8 C1687.2 311.3 1684.7 320.7 1684.2 323.7"/>
<path d="M1642.3 287.8 C1643.5 288.5 1648 289.8 1649.8 292.3 C1651.5 294.8 1652.3 301 1652.8 302.8"/>
<path d="M1634.8 305.8 C1636.3 305.5 1641 303.3 1643.8 304.3 C1646.5 305.3 1649.5 309 1651.3 311.8 C1653 314.5 1653.8 319.2 1654.3 320.7"/>
<path d="M1624.3 313.2 C1625.6 314.2 1630.8 316.5 1631.8 319.2 C1632.8 322 1629.8 327 1630.3 329.7 C1630.8 332.5 1632.5 335.7 1634.8 335.7 C1637 335.7 1641 329.2 1643.8 329.7 C1646.5 330.2 1650 337.2 1651.3 338.7"/>
<path d="M1622.8 340.2 C1624.8 340.5 1631.3 340.2 1634.8 341.7 C1638.3 343.2 1641 348.2 1643.8 349.2 C1646.5 350.2 1650 347.9 1651.3 347.7"/>
<path d="M1661.8 343.2 C1663.5 342 1668.5 338.2 1672.2 335.7 C1676 333.2 1680.7 329.2 1684.2 328.2 C1687.7 327.2 1691.5 328 1693.2 329.7 C1695 331.5 1695.4 335.7 1694.7 338.7 C1694 341.7 1689.7 346.2 1688.7 347.7"/>
<path d="M1649.8 350.7 C1648.8 351.2 1646 352.4 1643.8 353.7 C1641.5 354.9 1637.8 356.2 1636.3 358.2 C1634.8 360.2 1634.3 363.4 1634.8 365.7 C1635.3 367.9 1637.5 370.4 1639.3 371.7 C1641 372.9 1644.3 372.9 1645.3 373.2"/>
<path d="M1645.3 373.2 L1673.7 356.7"/>
<path d="M1678.2 352.2 L1684.2 349.2"/>
<path d="M1642.3 359.7 C1642.9 360.4 1645.7 362.2 1646 364.2 C1646.4 366.2 1644.8 370.4 1644.5 371.7"/>
<path d="M1887.1 245.2 L1738.9 268.4"/>
<path class="k" d="M1737.5 259.6 L1689.5 276.2 L1740.3 277.3 Z" style="stroke-width:1.5"/>
<text class="j" y="235.2" style="font-size:32px"><tspan x="1904.2">第</tspan><tspan x="1942.2" style="font-size:36px" textLength="89" lengthAdjust="spacing">6227</tspan><tspan x="2041.7">図</tspan><tspan x="2084.2">参</tspan><tspan x="2126.2">照</tspan></text>
<text class="s" y="272.2" style="font-size:38px"><tspan x="1902.2" textLength="60" lengthAdjust="spacingAndGlyphs">See</tspan> <tspan x="1990.2" textLength="56" lengthAdjust="spacingAndGlyphs">Fig.</tspan> <tspan x="2070.2" textLength="85" lengthAdjust="spacingAndGlyphs">6227</tspan></text>
</g>
<g class="d">
<path d="M1737.1 389.7 L1737.1 580 L1803.6 618.3 L1817.7 627.2 L1858.1 608.2 L1858.1 408.6 L1779.4 362.3 L1737.1 389.7"/>
<path d="M1817.7 430.8 L1817.7 627.2"/>
<path d="M1819.8 429.6 L1858.1 408.6"/>
<path d="M1739.1 390.5 L1764.5 403.4"/>
<path d="M1795.6 419.5 L1819.8 430"/>
<path d="M1819.8 429.6 L1831.9 423.5"/>
<path d="M1752.2 421.8 a5 6 0 1 1 2 11"/>
<path d="M1782.5 439.9 a5 6 0 1 1 2 11"/>
<path d="M1798.6 430.6 a5 6 0 1 1 2 11"/>
<path d="M1752.2 468.1 a5 6 0 1 1 2 11"/>
<path d="M1780.5 482.3 a5 6 0 1 1 2 11"/>
<path d="M1802.6 516.5 a5 6 0 1 1 2 11"/>
<path d="M1784.5 530.6 a5 6 0 1 1 2 11"/>
<path d="M1752.2 562.9 a5 6 0 1 1 2 11"/>
<path d="M1784.5 577 a5 6 0 1 1 2 11"/>
<path d="M1802.6 607.3 a5 6 0 1 1 2 11"/>
<path d="M1743.1 435.6 L1654.4 483.2 L1690.7 539.7 L1777.4 493.3"/>
<path d="M1670.6 511.5 L1751.2 469.1"/>
<path d="M1674.6 518.3 L1755.2 477.2"/>
<path d="M1620.2 642.5 L1686.7 682.8 L1803.6 618.3"/>
<ellipse class="w" cx="1888.3" cy="566.7" rx="13.3" ry="20.2" transform="rotate(-25 1888.3 566.7)"/>
<ellipse cx="1888.3" cy="566.7" rx="5.3" ry="8.1" transform="rotate(-25 1888.3 566.7)"/>
<g transform="translate(1979 514.3) rotate(150.6)"><path class="w" d="M13 -8.5 L65 -8.5 A4.2 8.5 0 0 1 65 8.5 L13 8.5 Z"/><ellipse cx="65" cy="0" rx="4.2" ry="8.5"/><path d="M56 -8.5 A4.2 8.5 0 0 1 56 8.5M47 -8.5 A4.2 8.5 0 0 1 47 8.5M38 -8.5 A4.2 8.5 0 0 1 38 8.5M29 -8.5 A4.2 8.5 0 0 1 29 8.5"/><ellipse class="w" cx="15" cy="0" rx="6.3" ry="12.5"/><path class="w" d="M-4.7 16.5 L4.8 16.5 L17.8 16.5 L22.5 0 L17.8 -16.5 L4.8 -16.5 L-4.8 -16.5 L-9.5 0 Z"/><path d="M9.5 0 L4.8 16.5 L-4.7 16.5 L-9.5 0 L-4.8 -16.5 L4.8 -16.5 Z"/><path d="M9.5 0 L22.5 0"/></g>
<path d="M1962.9 547.7 L2023.4 632.4"/>
<text class="n" x="2016.1" y="677.6">38</text>
<path d="M1902.4 592.1 L1950 676.8"/>
<text class="n" x="1935.5" y="726.4">39</text>
<path d="M1870.2 832 L1835.3 679.1"/>
<path class="k" d="M1845.1 676.9 L1823.8 628.4 L1825.6 681.3 Z" style="stroke-width:1.5"/>
<text class="j" y="865.6" style="font-size:32px"><tspan x="1754.6">第</tspan><tspan x="1792.6" style="font-size:36px" textLength="89" lengthAdjust="spacing">6225</tspan><tspan x="1892.1">図</tspan><tspan x="1934.6">参</tspan><tspan x="1976.6">照</tspan></text>
<text class="s" y="902.6" style="font-size:38px"><tspan x="1752.6" textLength="60" lengthAdjust="spacingAndGlyphs">See</tspan> <tspan x="1840.6" textLength="56" lengthAdjust="spacingAndGlyphs">Fig.</tspan> <tspan x="1920.6" textLength="85" lengthAdjust="spacingAndGlyphs">6225</tspan></text>
</g>
<!-- 17_mid.py -->
<g class="d">
<path d="M693.7 1079.8 L1157.2 1079.8"/>
<text class="j" x="692.6" y="1122.5" style="font-size:32px" textLength="158.6" lengthAdjust="spacing">適用号機</text>
<text class="s" y="1157.1" style="font-size:37px"><tspan x="691.1" textLength="95" lengthAdjust="spacingAndGlyphs">Serial</tspan> <tspan x="814.1" textLength="49" lengthAdjust="spacingAndGlyphs">No.</tspan> <tspan x="888.6" textLength="99" lengthAdjust="spacingAndGlyphs">45001</tspan><tspan x="991.1" textLength="37" lengthAdjust="spacingAndGlyphs">～</tspan><tspan x="1029.6" textLength="106" lengthAdjust="spacingAndGlyphs">52783</tspan></text>
<path d="M1282.1 979.3 L1282.1 1116.6 L1160.3 1181.5"/>
<ellipse cx="1146.3" cy="1194.4" rx="11.9" ry="18.7" transform="rotate(-20 1146.3 1194.4)" style="stroke-width:6.5"/>
<path d="M1161.8 1212.6 L1209.5 1280"/>
<text class="n" x="1198.1" y="1329.2">24</text>
<g transform="translate(1069.6 1236.9) rotate(-30)"><path class="w" d="M20 -10 L42 -10 L42 10 L20 10 Z"/><ellipse class="w" cx="42" cy="0" rx="4.5" ry="10"/><path d="M27 -10 A4.5 10 0 0 1 27 10M34 -10 A4.5 10 0 0 1 34 10"/><path class="w" d="M-20 -18 L20 -18 A8.1 18 0 0 1 20 18 L-20 18 A8.1 18 0 0 1 -20 -18 Z"/><path d="M-12.7 -7.2 L27.3 -7.2 M-12.7 7.2 L27.3 7.2"/><ellipse class="w" cx="-20" cy="0" rx="8.1" ry="18"/><path class="w" d="M-42 -10 L-20 -10 L-20 10 L-42 10 Z"/><ellipse class="w" cx="-42" cy="0" rx="4.5" ry="10"/><path d="M-35 -10 A4.5 10 0 0 1 -35 10M-28 -10 A4.5 10 0 0 1 -28 10"/><ellipse cx="-42" cy="0" rx="2.2" ry="5"/></g>
<path d="M1085.1 1264.4 L1116.2 1337"/>
<text class="n" x="1094.4" y="1387.3">23</text>
<text class="n" x="1307" y="1123.4">31</text>
<text class="n" x="1379.6" y="1167.5">30</text>
<path d="M1372.8 1002.6 L1346.9 1072.6"/>
<path d="M1432.5 1028.5 L1416.9 1119.2"/>
<path d="M885.5 1292.9 L958.1 1252.5 L1017.7 1347.4 L934.8 1394"/>
<path d="M927 1316.2 L1015.1 1269.6"/>
<path d="M937.4 1339.6 L991.8 1313.7"/>
<text class="n" x="766.3" y="1241.1">6</text>
<path d="M792.2 1256.6 L812.9 1316.2"/>
<text class="n" x="677.1" y="1258.2">7</text>
<path d="M705.6 1269.6 L771.5 1386.2"/>
<text class="n" x="810.3" y="1635.6">8</text>
<path d="M815.5 1585.8 L774.1 1458.8"/>
<text class="n" x="892.3" y="1590">9</text>
<path d="M893.3 1544.4 L854.4 1464"/>
<g transform="translate(866.3 1304.8) rotate(-28)"><path class="w" d="M-105 -10 L-50 -10 L-50 10 L-105 10"/><path d="M-105 -10 Q-109 0 -105 10"/><path d="M-94 10 q2 -6 8 -10M-76 10 q2 -6 8 -10M-58 10 q2 -6 8 -10"/><path class="w" d="M-50 -9 L-26 -9 L-26 9 L-50 9"/><path d="M-50 -10 A4.5 10 0 0 0 -50 10"/><path class="w" d="M-119 -10 L-183 -10 Q-187 0 -183 10 L-119 10"/><path d="M-127 10 l6 -8"/></g>
<g transform="translate(866.3 1304.8) rotate(-28)"><path class="w" d="M-30 -17.8 L0 -19.4 A8.7 19.4 0 0 1 0 19.4 L-30 17.8 A8.7 17.8 0 0 1 -30 -17.8 Z"/><ellipse class="w" cx="0" cy="0" rx="8.7" ry="19.4"/><ellipse cx="0" cy="0" rx="4.8" ry="10.6"/><path d="M-37 -8.1 L-7.4 -8.1 M-37 8.1 L-7.4 8.1"/><path d="M-13.5 -18.8 A8.7 19.4 0 0 0 -13.5 18.8"/></g>
<g transform="translate(841.5 1401.8) rotate(-28)"><path class="w" d="M-162 -8 L-36 -8 L-36 8 L-162 8"/><path d="M-162 -8 Q-166 0 -162 8"/><path d="M-124.2 8 q2 -4.8 8 -8M-110.8 8 q2 -4.8 8 -8M-97.5 8 q2 -4.8 8 -8M-84.1 8 q2 -4.8 8 -8M-70.7 8 q2 -4.8 8 -8M-57.4 8 q2 -4.8 8 -8M-44 8 q2 -4.8 8 -8"/><path class="w" d="M-36 -7.2 L-18 -7.2 L-18 7.2 L-36 7.2"/><path d="M-36 -8 A3.6 8 0 0 0 -36 8"/></g>
<g transform="translate(841.5 1401.8) rotate(-28)"><path class="w" d="M-22 -12.1 L0 -13.2 A5.9 13.2 0 0 1 0 13.2 L-22 12.1 A5.9 12.1 0 0 1 -22 -12.1 Z"/><ellipse class="w" cx="0" cy="0" rx="5.9" ry="13.2"/><ellipse cx="0" cy="0" rx="3.3" ry="7.3"/><path d="M-26.8 -5.5 L-5 -5.5 M-26.8 5.5 L-5 5.5"/><path d="M-9.9 -12.8 A5.9 13.2 0 0 0 -9.9 12.8"/></g>
<g transform="translate(910.4 1331.8) rotate(-28)"><path class="w" d="M-230 -10 L-50 -10 L-50 10 L-230 10"/><path d="M-230 -10 Q-234 0 -230 10"/><path d="M-167 10 q2 -6 8 -10M-151.4 10 q2 -6 8 -10M-135.9 10 q2 -6 8 -10M-120.3 10 q2 -6 8 -10M-104.7 10 q2 -6 8 -10M-89.1 10 q2 -6 8 -10M-73.6 10 q2 -6 8 -10M-58 10 q2 -6 8 -10"/><path class="w" d="M-50 -9 L-26 -9 L-26 9 L-50 9"/><path d="M-50 -10 A4.5 10 0 0 0 -50 10"/></g>
<g transform="translate(910.4 1331.8) rotate(-28)"><path class="w" d="M-30 -17.8 L0 -19.4 A8.7 19.4 0 0 1 0 19.4 L-30 17.8 A8.7 17.8 0 0 1 -30 -17.8 Z"/><ellipse class="w" cx="0" cy="0" rx="8.7" ry="19.4"/><ellipse cx="0" cy="0" rx="4.8" ry="10.6"/><path d="M-37 -8.1 L-7.4 -8.1 M-37 8.1 L-7.4 8.1"/><path d="M-13.5 -18.8 A8.7 19.4 0 0 0 -13.5 18.8"/></g>
<g transform="translate(910.4 1409.6) rotate(-28)"><path class="w" d="M-128 -10 L-50 -10 L-50 10 L-128 10"/><path d="M-128 -10 Q-132 0 -128 10"/><path d="M-120.2 10 q2 -6 8 -10M-107.8 10 q2 -6 8 -10M-95.3 10 q2 -6 8 -10M-82.9 10 q2 -6 8 -10M-70.4 10 q2 -6 8 -10M-58 10 q2 -6 8 -10"/><path class="w" d="M-50 -9 L-26 -9 L-26 9 L-50 9"/><path d="M-50 -10 A4.5 10 0 0 0 -50 10"/><path class="w" d="M-140 -10 L-202 -10 Q-206 0 -202 10 L-140 10"/><path d="M-148 10 l6 -8"/></g>
<g transform="translate(910.4 1409.6) rotate(-28)"><path class="w" d="M-30 -17.8 L0 -19.4 A8.7 19.4 0 0 1 0 19.4 L-30 17.8 A8.7 17.8 0 0 1 -30 -17.8 Z"/><ellipse class="w" cx="0" cy="0" rx="8.7" ry="19.4"/><ellipse cx="0" cy="0" rx="4.8" ry="10.6"/><path d="M-37 -8.1 L-7.4 -8.1 M-37 8.1 L-7.4 8.1"/><path d="M-13.5 -18.8 A8.7 19.4 0 0 0 -13.5 18.8"/></g>
</g>
<!-- 18_bolt30.py -->
<g class="d">
<ellipse class="w" cx="1382.4" cy="975" rx="13.8" ry="20" transform="rotate(20 1382.4 975)"/>
<ellipse cx="1382.4" cy="975" rx="5.8" ry="8.4" transform="rotate(20 1382.4 975)"/>
<g transform="translate(1485 1032.8) rotate(210)"><path class="w" d="M13 -8.5 L81 -8.5 A4.2 8.5 0 0 1 81 8.5 L13 8.5 Z"/><ellipse cx="81" cy="0" rx="4.2" ry="8.5"/><path d="M72 -8.5 A4.2 8.5 0 0 1 72 8.5M63 -8.5 A4.2 8.5 0 0 1 63 8.5M54 -8.5 A4.2 8.5 0 0 1 54 8.5M45 -8.5 A4.2 8.5 0 0 1 45 8.5M36 -8.5 A4.2 8.5 0 0 1 36 8.5"/><ellipse class="w" cx="15" cy="0" rx="6.3" ry="12.5"/><path class="w" d="M-4.7 16.5 L4.8 16.5 L17.8 16.5 L22.5 0 L17.8 -16.5 L4.8 -16.5 L-4.8 -16.5 L-9.5 0 Z"/><path d="M9.5 0 L4.8 16.5 L-4.7 16.5 L-9.5 0 L-4.8 -16.5 L4.8 -16.5 Z"/><path d="M9.5 0 L22.5 0"/></g>
<path d="M1371 1002.7 L1346.1 1075.3"/>
<path d="M1431.5 1026.9 L1417.6 1120.2"/>
<path d="M1659.6 1341.4 L1659.6 1429.8"/>
<path class="k" d="M1649.6 1429.8 L1659.6 1484.8 L1669.6 1429.8 Z" style="stroke-width:1.5"/>
<text class="n" x="1637.8" y="1318.2" style="font-size:78px">a</text>
</g>
<!-- 19_arcs.py -->
<g class="d">
<text class="n" x="549.4" y="1246">1</text>
<path d="M508.2 1054.4 L549.4 1197.6"/>
<text class="n" x="617.1" y="1209.7">2</text>
<path d="M588.9 1086.7 L619.9 1163.3"/>
<path d="M468.7 1338.7 C469.7 1344.1 469.4 1359.5 474.8 1371 C480.1 1382.4 488.5 1397.5 501 1407.3 C513.4 1417 531.9 1425.1 549.4 1429.4 C566.8 1433.8 587 1434.8 605.8 1433.5 C624.6 1432.1 647.8 1425.4 662.3 1421.4 C676.7 1417.3 687.5 1411.3 692.5 1409.3"/>
<path d="M450.6 1342.7 C451.2 1349.5 450.2 1369.6 454.6 1383.1 C459 1396.5 465 1411.3 476.8 1423.4 C488.5 1435.5 506.3 1448.3 525.2 1455.6 C544 1463 566.8 1466.4 589.7 1467.7 C612.5 1469.1 643.8 1466.1 662.3 1463.7 C680.7 1461.4 694.2 1455.3 700.6 1453.6"/>
<path d="M438.5 1411.3 C442.2 1416.7 448.9 1433.5 460.6 1443.5 C472.4 1453.6 488.9 1464.7 509 1471.8 C529.2 1478.8 556.1 1484.5 581.6 1485.9 C607.2 1487.2 641.4 1482.5 662.3 1479.8 C683.1 1477.2 699.2 1471.4 706.6 1469.8"/>
<path d="M430.4 1342.7 C430.4 1352.8 427.4 1385.1 430.4 1403.2 C433.4 1421.4 438.8 1436.8 448.5 1451.6 C458.3 1466.4 471.4 1480.5 488.9 1491.9 C506.3 1503.4 529.9 1514.1 553.4 1520.2 C576.9 1526.2 606.5 1528.2 630 1528.2 C653.5 1528.2 678.1 1523.2 694.5 1520.2 C711 1517.1 723.1 1511.8 728.8 1510.1"/>
</g>
<!-- 20_valve1.py -->
<g class="d">
<g transform="translate(561.4 1655.6) rotate(96.8)"><path class="w" d="M16 -11.5 L80 -11.5 A5.8 11.5 0 0 1 80 11.5 L16 11.5 Z"/><ellipse cx="80" cy="0" rx="5.8" ry="11.5"/><path d="M69 -11.5 A5.8 11.5 0 0 1 69 11.5M58 -11.5 A5.8 11.5 0 0 1 58 11.5M47 -11.5 A5.8 11.5 0 0 1 47 11.5M36 -11.5 A5.8 11.5 0 0 1 36 11.5"/><ellipse class="w" cx="18" cy="0" rx="6.9" ry="13.9"/><path class="w" d="M-5.2 18.2 L5.3 18.2 L21.2 18.2 L26.5 0 L21.2 -18.2 L5.3 -18.2 L-5.3 -18.2 L-10.5 0 Z"/><path d="M10.5 0 L5.3 18.2 L-5.2 18.2 L-10.5 0 L-5.3 -18.2 L5.3 -18.2 Z"/><path d="M10.5 0 L26.5 0"/></g>
<path d="M575.2 1686.7 L666.8 1693.6"/>
<ellipse class="w" cx="549.3" cy="1762.7" rx="20" ry="9.3"/>
<ellipse cx="549.3" cy="1762.7" rx="9" ry="4.2"/>
<path d="M577 1767.2 L658.2 1780"/>
<path d="M544.1 1778.2 L537.2 1833.5"/>
<path d="M190.6 1773.1 L189.2 1876.8"/>
<path d="M285.9 1776.5 L280.4 1824.9"/>
<path d="M238.2 1881.9 L242.4 1826.6 L316 1828.4 L309.1 1885.4"/>
<g transform="translate(156 1903.4) rotate(0)"><path class="w" d="M17 -9 L65 -9 A3.6 9 0 0 1 65 9 L17 9 Z"/><ellipse cx="65" cy="0" rx="3.6" ry="9"/><path d="M56 -9 A3.6 9 0 0 1 56 9M47 -9 A3.6 9 0 0 1 47 9M38 -9 A3.6 9 0 0 1 38 9"/><path class="w" d="M-4 17.3 L4 17.3 L21 17.3 L25 0 L21 -17.3 L4 -17.3 L-4 -17.3 L-8 0 Z"/><path d="M8 0 L4 17.3 L-4 17.3 L-8 0 L-4 -17.3 L4 -17.3 Z"/><path d="M8 0 L25 0"/></g>
<ellipse cx="238.9" cy="1905.4" rx="5.2" ry="14.5" style="stroke-width:5"/>
<ellipse cx="307.4" cy="1907.9" rx="5.2" ry="14.5" style="stroke-width:5"/>
<g transform="translate(274.5 1925.1) rotate(101.5)"><path class="w" d="M0 -13 L120 -13 M0 13 L120 13"/><path d="M30 -13 L30 13"/><path d="M38 13 q6 -6.5 10 -13M50.6 13 q6 -6.5 10 -13M63.2 13 q6 -6.5 10 -13M75.8 13 q6 -6.5 10 -13M88.4 13 q6 -6.5 10 -13"/><path d="M120 -13 q5 6.5 0 13 q-5 6.5 0 13"/></g>
<ellipse cx="269.4" cy="1904.4" rx="17.3" ry="20" style="fill:#fdfdfb;"/>
<ellipse cx="266.6" cy="1905.4" rx="6.9" ry="13.8" style="fill:#151515;"/>
<path d="M248.6 2058.2 C248.3 2069.1 245.7 2103.7 246.9 2123.9 C248 2144 250.1 2159.8 255.5 2179.2 C261 2198.5 275.7 2229.9 279.7 2240"/>
<path d="M321.2 1907.9 L386.9 1909.6"/>
<path d="M108.6 2148.8 L243.4 2144.6"/>
<path d="M461.2 1759.2 C460.9 1761.4 460.7 1769.5 459.4 1772.4 C458.2 1775.2 454.1 1774.4 453.5 1776.5 C453 1778.6 457.1 1782.7 456 1785.2 C454.8 1787.6 447.6 1788.4 446.6 1791 C445.7 1793.6 451.2 1797.8 450.1 1800.7 C448.9 1803.6 440.9 1805.1 439.7 1808.3 C438.6 1811.5 444.5 1816.5 443.2 1819.7 C441.9 1822.9 433.7 1826 431.8 1827.3"/>
<path d="M483.6 1759.2 C484 1761.4 484.7 1769.2 485.7 1772.4 C486.7 1775.5 489.4 1775.8 489.8 1778.2 C490.2 1780.7 487.2 1784.5 488.1 1786.9 C489 1789.3 494.6 1790.2 495.4 1792.8 C496.1 1795.3 491.8 1799.6 492.6 1802.4 C493.4 1805.3 499.4 1806.9 500.2 1810 C501 1813.2 496.7 1818.3 497.4 1821.4 C498.1 1824.6 503.2 1827.8 504.4 1829"/>
<path d="M461.2 1759.2 C461.9 1758.7 462.6 1756.4 465.6 1755.8 C468.7 1755.2 476.5 1755.2 479.5 1755.8 C482.5 1756.4 482.9 1758.7 483.6 1759.2"/>
<path d="M458.7 1774.8 C461 1775.6 467.7 1779.4 472.2 1779.6 C476.7 1779.9 483.4 1776.7 485.7 1776.2"/>
<path d="M451.1 1789.6 C454.4 1790.5 464.3 1794.3 470.8 1794.5 C477.4 1794.7 487.2 1791.6 490.5 1791"/>
<path d="M444.2 1805.9 C448.5 1806.7 461.5 1810.5 470.1 1810.7 C478.8 1811 491.7 1807.8 496.1 1807.3"/>
<path d="M438 1823.2 C443.2 1824 458.7 1827.8 469.1 1828 C479.5 1828.2 495 1825.1 500.2 1824.6"/>
<path d="M431.8 1827.3 C432.2 1828.9 431.2 1834.5 434.5 1837 C437.9 1839.5 448.9 1841.3 451.8 1842.2"/>
<path d="M504.4 1829 C504.1 1830.8 506 1836.5 503 1839.4 C500 1842.3 489.1 1845.2 486.4 1846.3"/>
<path d="M431.8 1814.5 C430.8 1815.2 432.4 1817.2 425.9 1818.7 C419.4 1820.1 400.2 1820.7 393.1 1823.2 C386 1825.6 385 1830.8 383.4 1833.5 C381.8 1836.2 380.6 1836.2 383.4 1839.4 C386.2 1842.6 392 1848.9 400 1852.5 C407.9 1856.2 422.2 1856.9 431.1 1861.2 C440 1865.5 444 1875.6 453.5 1878.5 C463.1 1881.3 478.6 1881.1 488.1 1878.5 C497.6 1875.9 501.9 1866.7 510.6 1862.9 C519.2 1859.2 533.2 1858.6 539.9 1856 C546.7 1853.4 549.8 1851.1 551.4 1847.4 C552.9 1843.6 552.6 1836.7 549.3 1833.5 C545.9 1830.4 538.6 1831.2 531.3 1828.4 C524 1825.5 509.7 1818.3 505.4 1816.3"/>
<path d="M400 1843.9 C405.2 1845.3 422.4 1848.3 431.1 1852.5 C439.7 1856.7 442.6 1866.3 451.8 1869.1 C461 1872 476.9 1872.1 486.4 1869.8 C495.9 1867.5 505.1 1857.7 508.8 1855.3"/>
<ellipse cx="405.2" cy="1829.4" rx="4.8" ry="2.4"/>
<ellipse cx="537.5" cy="1838" rx="4.8" ry="2.4"/>
<path d="M398.9 1854.3 C398.1 1866.4 393 1908.1 393.8 1926.8 C394.5 1945.6 400.6 1958.2 403.4 1966.6 C406.3 1974.9 409.8 1975.2 411 1977"/>
<path d="M523.4 1849.8 L500.9 1977"/>
<path d="M411 1977 C417.8 1978 438.1 1981.7 451.8 1983.2 C465.5 1984.6 484.8 1987.2 493.3 1985.6 C501.8 1984 501.1 1975.5 502.6 1973.5"/>
<ellipse cx="403.4" cy="1914.8" rx="9" ry="20.7" transform="rotate(5 403.4 1914.8)"/>
<ellipse cx="404.8" cy="1915.4" rx="4.1" ry="12.1" transform="rotate(5 404.8 1915.4)"/>
<path d="M421.4 1869.8 L411 1971.8"/>
<path d="M462.9 1951 L459.4 1977"/>
<path d="M418 1906.1 L447.3 1907.8"/>
<path d="M485.3 1909.6 L509.5 1907.8"/>
<ellipse cx="420.7" cy="1940.7" rx="7.6" ry="3.1" transform="rotate(5 420.7 1940.7)"/>
<ellipse cx="467.4" cy="1940.7" rx="7.6" ry="3.1" transform="rotate(5 467.4 1940.7)"/>
<ellipse cx="432.8" cy="1966.6" rx="7.6" ry="3.1" transform="rotate(5 432.8 1966.6)"/>
<ellipse cx="479.5" cy="1968.3" rx="7.6" ry="3.1" transform="rotate(5 479.5 1968.3)"/>
<path d="M407.6 1989.1 L400.7 2034"/>
<path d="M431.8 1989.1 L426.6 2034"/>
<path d="M457.7 1989.1 L450.8 2035.7"/>
<path d="M476.7 1994.2 L468.1 2037.4"/>
<path d="M400.7 2032.3 L468.1 2037.4"/>
<path d="M700 1881.9 L570.5 1898.7"/>
<path class="k" d="M569.3 1888.8 L513 1906.1 L571.8 1908.6 Z" style="stroke-width:1.5"/>
<path d="M440.4 2040.9 L421.4 2129.1"/>
<ellipse cx="419.7" cy="2144.6" rx="18" ry="6.9" transform="rotate(8 419.7 2144.6)" style="stroke-width:5"/>
<path d="M449.1 2148.8 L519.9 2163.6"/>
<text class="n" x="527.9" y="2183.7">12</text>
<g transform="translate(411.1 2198.2) rotate(95)"><path class="w" d="M10 -12 L36 -12 L36 12 L10 12 Z"/><ellipse class="w" cx="36" cy="0" rx="4.8" ry="12"/><path d="M17 -12 A4.8 12 0 0 1 17 12M24 -12 A4.8 12 0 0 1 24 12M31 -12 A4.8 12 0 0 1 31 12"/><path class="w" d="M-10 -22 L10 -22 A8.8 22 0 0 1 10 22 L-10 22 A8.8 22 0 0 1 -10 -22 Z"/><path d="M-2.1 -8.8 L17.9 -8.8 M-2.1 8.8 L17.9 8.8"/><ellipse class="w" cx="-10" cy="0" rx="8.8" ry="22"/><path class="w" d="M-38 -12 L-10 -12 L-10 12 L-38 12 Z"/><ellipse class="w" cx="-38" cy="0" rx="4.8" ry="12"/><path d="M-31 -12 A4.8 12 0 0 1 -31 12M-24 -12 A4.8 12 0 0 1 -24 12M-17 -12 A4.8 12 0 0 1 -17 12"/><ellipse cx="-38" cy="0" rx="2.4" ry="6"/></g>
<path d="M440.4 2206.8 L502.6 2224.1"/>
<text class="n" x="514.1" y="2251.8">11</text>
<text class="n" x="593.5" y="2076.5">13</text>
<path d="M626 2089.3 L625.3 2198.2"/>
</g>
<!-- 21_mid2.py -->
<g class="d">
<text class="n" x="677.3" y="1713.6">15</text>
<text class="n" x="669.4" y="1801.8">16</text>
<text class="j" y="1809.3" style="font-size:32px"><tspan x="760.2">第</tspan><tspan x="798.2" style="font-size:36px" textLength="89" lengthAdjust="spacing">6223</tspan><tspan x="897.7">図</tspan><tspan x="940.2">参</tspan><tspan x="982.2">照</tspan></text>
<text class="s" y="1846.3" style="font-size:38px"><tspan x="758.2" textLength="60" lengthAdjust="spacingAndGlyphs">See</tspan> <tspan x="846.2" textLength="56" lengthAdjust="spacingAndGlyphs">Fig.</tspan> <tspan x="926.2" textLength="85" lengthAdjust="spacingAndGlyphs">6223</tspan></text>
<path d="M622.7 1889.9 L858.4 1862.9"/>
<path d="M858.4 1862.9 L887.8 2019.2"/>
<path class="k" d="M878 2021 L898.5 2076.2 L897.6 2017.3 Z" style="stroke-width:1.5"/>
<text class="n" x="700.5" y="2081.7">14</text>
<path d="M724 2096.2 L721.2 2146.3"/>
<path d="M676.3 2199.9 L681.5 2146.3 L754.7 2148.1 L748.9 2206.8"/>
<path d="M896.4 2077.2 C896.1 2079.4 896 2087.4 894.7 2090.3 C893.4 2093.2 889.4 2092.3 888.8 2094.5 C888.3 2096.6 892.4 2100.7 891.3 2103.1 C890.1 2105.5 882.9 2106.4 881.9 2109 C880.9 2111.6 886.5 2115.8 885.4 2118.7 C884.2 2121.5 876.2 2123.1 875 2126.3 C873.9 2129.4 879.8 2134.5 878.5 2137.7 C877.1 2140.8 869 2144 867.1 2145.3"/>
<path d="M918.9 2077.2 C919.2 2079.4 919.9 2087.1 921 2090.3 C922 2093.5 924.7 2093.8 925.1 2096.2 C925.5 2098.6 922.5 2102.4 923.4 2104.8 C924.3 2107.3 929.9 2108.1 930.6 2110.7 C931.4 2113.3 927.1 2117.5 927.9 2120.4 C928.7 2123.3 934.7 2124.8 935.5 2128 C936.3 2131.2 932 2136.2 932.7 2139.4 C933.4 2142.6 938.5 2145.7 939.6 2147"/>
<path d="M896.4 2077.2 C897.2 2076.6 897.9 2074.3 900.9 2073.7 C904 2073.2 911.8 2073.2 914.8 2073.7 C917.7 2074.3 918.2 2076.6 918.9 2077.2"/>
<path d="M894 2092.7 C896.3 2093.5 903 2097.3 907.5 2097.6 C912 2097.8 918.7 2094.7 921 2094.1"/>
<path d="M886.4 2107.6 C889.7 2108.4 899.5 2112.2 906.1 2112.4 C912.7 2112.7 922.5 2109.6 925.8 2109"/>
<path d="M879.5 2123.8 C883.8 2124.6 896.8 2128.4 905.4 2128.7 C914.1 2128.9 927 2125.8 931.3 2125.2"/>
<path d="M873.3 2141.1 C878.5 2141.9 894 2145.7 904.4 2146 C914.8 2146.2 930.3 2143.1 935.5 2142.5"/>
<path d="M867.1 2145.3 C867.5 2146.9 866.5 2152.5 869.8 2154.9 C873.2 2157.4 884.2 2159.3 887.1 2160.1"/>
<path d="M939.6 2147 C939.4 2148.7 941.2 2154.5 938.3 2157.4 C935.3 2160.2 924.4 2163.1 921.7 2164.3"/>
<path d="M867.1 2132.5 C866.1 2133.2 867.6 2135.2 861.2 2136.6 C854.7 2138.1 835.4 2138.6 828.4 2141.1 C821.3 2143.6 820.3 2148.8 818.7 2151.5 C817.1 2154.2 815.9 2154.2 818.7 2157.4 C821.4 2160.5 827.3 2166.9 835.3 2170.5 C843.2 2174.1 857.4 2174.8 866.4 2179.1 C875.3 2183.5 879.3 2193.5 888.8 2196.4 C898.3 2199.3 913.9 2199 923.4 2196.4 C932.9 2193.8 937.2 2184.6 945.9 2180.9 C954.5 2177.1 968.4 2176.5 975.2 2174 C982 2171.4 985.1 2169.1 986.6 2165.3 C988.2 2161.6 987.9 2154.7 984.6 2151.5 C981.2 2148.3 973.9 2149.2 966.6 2146.3 C959.3 2143.4 945 2136.2 940.7 2134.2"/>
<path d="M835.3 2161.9 C840.4 2163.3 857.7 2166.3 866.4 2170.5 C875 2174.7 877.9 2184.2 887.1 2187.1 C896.3 2190 912.2 2190.1 921.7 2187.8 C931.2 2185.5 940.4 2175.7 944.1 2173.3"/>
<ellipse cx="840.4" cy="2147.3" rx="4.8" ry="2.4"/>
<ellipse cx="972.8" cy="2156" rx="4.8" ry="2.4"/>
<path d="M834.2 2172.2 C833.4 2184.3 828.3 2226.1 829 2244.8 C829.8 2263.5 835.8 2276.2 838.7 2284.5 C841.6 2292.9 845.1 2293.2 846.3 2294.9"/>
<path d="M958.6 2167.7 L936.2 2294.9"/>
<path d="M846.3 2294.9 C853.1 2295.9 873.4 2299.7 887.1 2301.1 C900.8 2302.6 920.1 2305.2 928.6 2303.6 C937 2301.9 936.4 2293.5 937.9 2291.5"/>
<ellipse cx="838.7" cy="2232.7" rx="9" ry="20.7" transform="rotate(5 838.7 2232.7)"/>
<ellipse cx="840.1" cy="2233.4" rx="4.1" ry="12.1" transform="rotate(5 840.1 2233.4)"/>
<path d="M856.7 2187.8 L846.3 2289.7"/>
<path d="M898.2 2269 L894.7 2294.9"/>
<path d="M853.2 2224.1 L882.6 2225.8"/>
<path d="M920.6 2227.5 L944.8 2225.8"/>
<ellipse cx="856" cy="2258.6" rx="7.6" ry="3.1" transform="rotate(5 856 2258.6)"/>
<ellipse cx="902.7" cy="2258.6" rx="7.6" ry="3.1" transform="rotate(5 902.7 2258.6)"/>
<ellipse cx="868.1" cy="2284.5" rx="7.6" ry="3.1" transform="rotate(5 868.1 2284.5)"/>
<ellipse cx="914.8" cy="2286.3" rx="7.6" ry="3.1" transform="rotate(5 914.8 2286.3)"/>
<path d="M842.9 2307 L836 2351.9"/>
<path d="M867.1 2307 L861.9 2351.9"/>
<path d="M893 2307 L886.1 2353.7"/>
<path d="M912 2312.2 L903.3 2355.4"/>
<path d="M836 2350.2 L903.3 2355.4"/>
</g>
<!-- 22_lower_left.py -->
<g class="d">
<path d="M625.2 2091.4 L625.2 2198.5"/>
<path d="M677 2203.7 L682.2 2146.7 L754.8 2148.4 L748.9 2210.6"/>
<path d="M723.7 2100 L720.2 2146.7"/>
<g transform="translate(591.3 2224.4) rotate(0)"><path class="w" d="M17 -9 L65 -9 A3.6 9 0 0 1 65 9 L17 9 Z"/><ellipse cx="65" cy="0" rx="3.6" ry="9"/><path d="M56 -9 A3.6 9 0 0 1 56 9M47 -9 A3.6 9 0 0 1 47 9M38 -9 A3.6 9 0 0 1 38 9"/><path class="w" d="M-4 17.3 L4 17.3 L21 17.3 L25 0 L21 -17.3 L4 -17.3 L-4 -17.3 L-8 0 Z"/><path d="M8 0 L4 17.3 L-4 17.3 L-8 0 L-4 -17.3 L4 -17.3 Z"/><path d="M8 0 L25 0"/></g>
<ellipse cx="676.3" cy="2225.1" rx="5.2" ry="14.5" style="stroke-width:5"/>
<ellipse cx="746.8" cy="2227.2" rx="5.2" ry="14.5" style="stroke-width:5"/>
<g transform="translate(715 2245.2) rotate(102.4)"><path class="w" d="M0 -13 L120 -13 M0 13 L120 13"/><path d="M30 -13 L30 13"/><path d="M38 13 q6 -6.5 10 -13M50.6 13 q6 -6.5 10 -13M63.2 13 q6 -6.5 10 -13M75.8 13 q6 -6.5 10 -13M88.4 13 q6 -6.5 10 -13"/><path d="M120 -13 q5 6.5 0 13 q-5 6.5 0 13"/></g>
<ellipse cx="709.8" cy="2224.4" rx="17.3" ry="20" style="fill:#fdfdfb;"/>
<ellipse cx="707.1" cy="2225.5" rx="6.9" ry="13.8" style="fill:#151515;"/>
<path d="M684.6 2381.7 C684.5 2392.3 682.3 2423.4 683.9 2445.6 C685.5 2467.8 687.9 2491.7 694.3 2514.7 C700.6 2537.8 711.6 2561.7 721.9 2583.9 C732.3 2606 750.7 2637.2 756.5 2647.8"/>
<path d="M761.7 2228.6 L822.2 2230.6"/>
<text class="n" x="562.3" y="2344.7">9</text>
<path d="M480 2335 L557.8 2328.8"/>
<text class="n" x="564.7" y="2425.9">7</text>
<path d="M480 2400.7 L554.3 2405.9"/>
<text class="n" x="511.1" y="2484.7">5</text>
<path d="M545.7 2468.1 L682.2 2466.4"/>
<text class="n" x="723.7" y="2356.8">17</text>
<path d="M748.9 2373 L742.7 2461.2"/>
<text class="n" x="957" y="2270.4">17</text>
<path d="M969.1 2281.5 L929.3 2357.5"/>
<path d="M530 2598.1 L533.9 2598.5 L537.7 2598.9 L541.6 2599.3 L545.7 2599.8 L549.8 2600.2 L554 2600.7 L558.2 2601 L562.5 2601.4 L566.9 2601.7 L571.4 2601.8 L576 2601.9 L580.7 2601.8 L585.6 2601.5 L590.5 2601 L595.1 2600.3 L599.7 2599.5 L604.2 2598.5 L608.7 2597.4 L613.1 2596.2 L617.4 2594.9 L621.7 2593.5 L625.8 2592 L629.9 2590.5 L633.9 2588.9 L637.9 2587.3 L642 2585.5 L646.1 2583.7 L650 2581.7 L653.9 2579.7 L657.7 2577.7 L661.5 2575.7 L665.2 2573.6 L668.8 2571.5 L672.4 2569.4 L676 2567.2 L679.5 2565.1 L683.2 2562.8 L686.9 2560.4 L690.7 2557.9 L694.4 2555.2 L697.9 2552.5 L701.2 2549.9 L704.2 2547.6 L707.1 2545.3 L710.1 2543.1 L713.1 2541 L716.2 2538.9 L719.4 2536.8 L722.6 2534.8 L725.9 2532.7 L729.2 2530.6 L732.6 2528.5 L736 2526.5 L739.4 2524.4 L742.8 2522.3 L746.2 2520.3 L749.6 2518.2 L753 2516.1 L756.5 2514.1 L759.9 2512 L763.4 2510 L766.8 2507.9 L770.3 2505.9 L773.7 2503.9 L777.1 2501.8 L780.6 2499.8 L784.1 2497.7 L787.5 2495.7 L791 2493.7 L794.5 2491.6 L797.9 2489.6 L801.4 2487.6 L804.9 2485.5 L808.3 2483.5 L811.8 2481.5 L815.3 2479.4 L818.7 2477.4 L822.2 2475.4 L825.7 2473.4 L829.2 2471.3 L832.6 2469.3 L836.1 2467.3 L839.6 2465.3 L843 2463.2 L846.5 2461.2 L850 2459.2 L853.5 2457.2 L856.9 2455.2 L860.4 2453.2 L863.9 2451.2 L867.4 2449.1 L870.9 2447.1 L874.3 2445.1 L877.8 2443.1 L881.3 2441.1 L884.8 2439.1 L888.3 2437.1 L891.7 2435.1 L895.2 2433.1 L898.7 2431.1 L902.2 2429.1 L905.7 2427.1 L909.2 2425.1 L912.7 2423.1 L916.2 2421.1 L919.7 2419.1 L923.1 2417.1 L926.6 2415.1 L930.1 2413.1 L933.6 2411.1 L937.1 2409.1 L940.6 2407.1 L944.1 2405.1 L947.6 2403.1 L951.1 2401.1 L954.6 2399.1 L958.1 2397.1 L961.6 2395.1 L965.1 2393.1 L968.6 2391.1 L972.1 2389.1 L975.5 2387.1 L979 2385.1 L982.5 2383.1 L986 2381.1 L989.5 2379.1 L993 2377.1 L996.5 2375.1 L1000 2373.1 L1003.5 2371.1 L1007 2369.2 L1010.5 2367.2 L1014 2365.2 L1017.5 2363.2 L1021 2361.2 L1024.5 2359.2 L1028 2357.2 L1031.5 2355.2 L1035 2353.2 L1038.5 2351.2 L1041.9 2349.2 L1045.4 2347.3 L1048.9 2345.3 L1052.4 2343.3 L1055.9 2341.3 L1059.4 2339.3 L1062.9 2337.3 L1066.4 2335.3 L1069.9 2333.3 L1073.4 2331.3 L1076.9 2329.4 L1080.4 2327.4 L1083.9 2325.4 L1087.4 2323.4 L1090.9 2321.4 L1094.4 2319.4 L1097.9 2317.4"/>
<path d="M533.7 2559.3 L537.8 2559.7 L542 2560.1 L546.1 2560.6 L550 2561 L553.9 2561.5 L557.7 2561.8 L561.5 2562.2 L565.2 2562.5 L568.9 2562.7 L572.5 2562.9 L575.9 2562.9 L579.3 2562.9 L582.4 2562.7 L585.5 2562.3 L588.8 2561.8 L592.2 2561.2 L595.5 2560.5 L598.9 2559.7 L602.2 2558.8 L605.6 2557.7 L609 2556.6 L612.4 2555.4 L615.9 2554.1 L619.4 2552.7 L622.8 2551.3 L626.1 2549.9 L629.4 2548.4 L632.6 2546.8 L635.9 2545.1 L639.2 2543.4 L642.6 2541.6 L645.9 2539.7 L649.2 2537.8 L652.5 2535.8 L655.8 2533.8 L659.2 2531.8 L662.4 2529.8 L665.5 2527.9 L668.3 2525.9 L671.1 2523.9 L674 2521.7 L677.1 2519.2 L680.4 2516.7 L683.9 2514 L687.4 2511.5 L690.9 2508.9 L694.5 2506.5 L698.1 2504.2 L701.6 2501.9 L705.1 2499.7 L708.7 2497.5 L712.1 2495.3 L715.6 2493.2 L719.1 2491.1 L722.6 2489 L726.1 2486.9 L729.5 2484.8 L733 2482.7 L736.5 2480.6 L739.9 2478.5 L743.4 2476.5 L746.9 2474.4 L750.4 2472.4 L753.8 2470.3 L757.3 2468.2 L760.8 2466.2 L764.3 2464.1 L767.8 2462.1 L771.2 2460 L774.7 2458 L778.2 2456 L781.7 2453.9 L785.1 2451.9 L788.6 2449.8 L792.1 2447.8 L795.6 2445.8 L799.1 2443.7 L802.5 2441.7 L806 2439.7 L809.5 2437.6 L813 2435.6 L816.5 2433.6 L820 2431.5 L823.4 2429.5 L826.9 2427.5 L830.4 2425.5 L833.9 2423.4 L837.4 2421.4 L840.9 2419.4 L844.4 2417.4 L847.9 2415.4 L851.4 2413.4 L854.8 2411.3 L858.3 2409.3 L861.8 2407.3 L865.3 2405.3 L868.8 2403.3 L872.3 2401.3 L875.8 2399.3 L879.3 2397.3 L882.8 2395.3 L886.3 2393.3 L889.8 2391.3 L893.3 2389.3 L896.8 2387.2 L900.3 2385.2 L903.8 2383.2 L907.3 2381.2 L910.8 2379.2 L914.3 2377.2 L917.7 2375.2 L921.2 2373.2 L924.7 2371.2 L928.2 2369.2 L931.7 2367.2 L935.2 2365.2 L938.7 2363.2 L942.2 2361.2 L945.7 2359.2 L949.2 2357.2 L952.7 2355.2 L956.2 2353.2 L959.7 2351.2 L963.2 2349.2 L966.7 2347.2 L970.2 2345.2 L973.7 2343.3 L977.2 2341.3 L980.7 2339.3 L984.2 2337.3 L987.7 2335.3 L991.2 2333.3 L994.7 2331.3 L998.2 2329.3 L1001.7 2327.3 L1005.2 2325.3 L1008.7 2323.3 L1012.2 2321.3 L1015.7 2319.3 L1019.2 2317.3 L1022.7 2315.3 L1026.2 2313.4 L1029.7 2311.4 L1033.2 2309.4 L1036.7 2307.4 L1040.2 2305.4 L1043.7 2303.4 L1047.2 2301.4 L1050.7 2299.4 L1054.2 2297.4 L1057.7 2295.4 L1061.2 2293.5 L1064.7 2291.5 L1068.2 2289.5 L1071.7 2287.5 L1075.2 2285.5 L1078.7 2283.5"/>
<path d="M524.2 2597.6 C531.1 2586.5 532.6 2570.9 539.5 2559.8M552.4 2600.6 C559.2 2589.4 560.5 2573.8 567.3 2562.7M589.3 2601.3 C593.2 2588.8 590.7 2573.4 594.6 2560.9M620.3 2594 C621.8 2581 616.4 2566.4 617.9 2553.4M652.5 2580.5 C652.2 2567.4 644.8 2553.7 644.4 2540.6M678.2 2565.9 C676.9 2552.9 668.6 2539.7 667.4 2526.7M705.4 2546.6 C703.3 2533.6 694.2 2521 692.1 2508.1M727.6 2531.6 C726.4 2518.6 718.3 2505.3 717.1 2492.3M754.9 2515 C753.9 2502 745.9 2488.6 745 2475.6M779 2500.7 C778.1 2487.7 770.2 2474.2 769.3 2461.2M806.7 2484.4 C805.9 2471.4 798 2457.9 797.1 2444.8M831 2470.2 C830.2 2457.2 822.4 2443.7 821.5 2430.6M858.8 2454.1 C858 2441 850.2 2427.5 849.4 2414.5M883.2 2440 C882.4 2427 874.7 2413.4 873.9 2400.4M911.1 2424 C910.4 2410.9 902.6 2397.4 901.9 2384.3M935.5 2410 C934.8 2396.9 927.1 2383.4 926.3 2370.3M963.5 2394 C962.8 2380.9 955 2367.4 954.3 2354.3M987.9 2380 C987.2 2367 979.5 2353.4 978.8 2340.4M1015.9 2364.1 C1015.2 2351 1007.5 2337.5 1006.8 2324.4M1040.4 2350.1 C1039.7 2337.1 1031.9 2323.5 1031.3 2310.5M1068.4 2334.2 C1067.7 2321.2 1059.9 2307.6 1059.3 2294.5" style="stroke-width:4.7"/>
<path d="M486.9 2538.9 L540.5 2559.7 L535.3 2582.1 L480 2560.4"/>
<path d="M480 2516.5 L514.6 2539.6"/>
<path d="M524.9 2590.8 L493.8 2580.4"/>
<path d="M721.9 2481.9 C724.2 2480.2 731.4 2473.7 735.8 2471.5 C740.1 2469.4 743.2 2467.3 747.9 2468.8 C752.5 2470.2 758.8 2475.1 763.4 2480.2 C768 2485.3 772.7 2492.9 775.5 2499.2 C778.3 2505.5 775.1 2513 780 2518.2 C784.9 2523.4 804.8 2525.7 804.9 2530.3 C805 2534.9 788.8 2545.6 780.7 2545.8 C772.6 2546.1 760.8 2536.9 756.5 2532 C752.2 2527.1 756.5 2521.9 754.8 2516.5 C753 2511 749.3 2502.9 746.1 2499.2 C743 2495.4 738.6 2493.7 735.8 2494 C732.9 2494.3 730.3 2494.9 728.8 2500.9 C727.4 2507 728.3 2525.4 727.1 2530.3 C726 2535.2 722.8 2530.3 721.9 2530.3" style="fill:#fdfdfb;"/>
<path d="M721.9 2481.9 C724.2 2480.2 731.4 2473.7 735.8 2471.5 C740.1 2469.4 743.2 2467.3 747.9 2468.8 C752.5 2470.2 758.8 2475.1 763.4 2480.2 C768 2485.3 772.7 2492.9 775.5 2499.2 C778.3 2505.5 779.2 2515 780 2518.2"/>
<path d="M780 2518.2 L804.9 2530.3 L780.7 2545.8 L756.5 2532"/>
<path d="M756.5 2532 C756.2 2529.4 756.5 2521.9 754.8 2516.5 C753 2511 749.3 2502.9 746.1 2499.2 C743 2495.4 738.6 2493.7 735.8 2494 C732.9 2494.3 730 2499.8 728.8 2500.9"/>
<path d="M721.9 2481.9 L727.1 2530.3"/>
<path d="M728.8 2500.9 L730.6 2533.8"/>
<path d="M735.8 2494 C736.9 2496.6 741.2 2504.7 742.7 2509.6 C744.1 2514.5 744.1 2521.1 744.4 2523.4"/>
<ellipse cx="780.7" cy="2531.3" rx="6.9" ry="3.8"/>
<path d="M896.5 2376.5 C898.8 2374.8 906 2368.3 910.3 2366.1 C914.6 2363.9 917.8 2361.9 922.4 2363.4 C927 2364.8 933.3 2369.7 937.9 2374.8 C942.6 2379.8 947.3 2387.4 950 2393.8 C952.8 2400.1 949.6 2407.6 954.5 2412.8 C959.4 2418 979.3 2420.3 979.4 2424.9 C979.5 2429.5 963.3 2440.1 955.2 2440.4 C947.2 2440.7 935.4 2431.5 931 2426.6 C926.7 2421.7 931 2416.5 929.3 2411.1 C927.6 2405.6 923.8 2397.5 920.7 2393.8 C917.5 2390 913.2 2388.3 910.3 2388.6 C907.4 2388.9 904.8 2389.5 903.4 2395.5 C901.9 2401.6 902.8 2420 901.7 2424.9 C900.5 2429.8 897.3 2424.9 896.5 2424.9" style="fill:#fdfdfb;"/>
<path d="M896.5 2376.5 C898.8 2374.8 906 2368.3 910.3 2366.1 C914.6 2363.9 917.8 2361.9 922.4 2363.4 C927 2364.8 933.3 2369.7 937.9 2374.8 C942.6 2379.8 947.3 2387.4 950 2393.8 C952.8 2400.1 953.8 2409.6 954.5 2412.8"/>
<path d="M954.5 2412.8 L979.4 2424.9 L955.2 2440.4 L931 2426.6"/>
<path d="M931 2426.6 C930.7 2424 931 2416.5 929.3 2411.1 C927.6 2405.6 923.8 2397.5 920.7 2393.8 C917.5 2390 913.2 2388.3 910.3 2388.6 C907.4 2388.9 904.5 2394.4 903.4 2395.5"/>
<path d="M896.5 2376.5 L901.7 2424.9"/>
<path d="M903.4 2395.5 L905.1 2428.3"/>
<path d="M910.3 2388.6 C911.5 2391.2 915.8 2399.2 917.2 2404.1 C918.7 2409 918.7 2415.7 918.9 2418"/>
<ellipse cx="955.2" cy="2425.9" rx="6.9" ry="3.8"/>
<ellipse cx="850.5" cy="2467.4" rx="16.6" ry="6.6" transform="rotate(5 850.5 2467.4)" style="stroke-width:5"/>
<path d="M875.7 2471.5 L946.6 2487.1"/>
<text class="n" x="950" y="2512.3">12</text>
<path d="M870.6 2366.1 L853.3 2449.1"/>
<g transform="translate(841.2 2517.5) rotate(95)"><path class="w" d="M10 -12 L36 -12 L36 12 L10 12 Z"/><ellipse class="w" cx="36" cy="0" rx="4.8" ry="12"/><path d="M17 -12 A4.8 12 0 0 1 17 12M24 -12 A4.8 12 0 0 1 24 12M31 -12 A4.8 12 0 0 1 31 12"/><path class="w" d="M-10 -21 L10 -21 A8.4 21 0 0 1 10 21 L-10 21 A8.4 21 0 0 1 -10 -21 Z"/><path d="M-2.4 -8.4 L17.6 -8.4 M-2.4 8.4 L17.6 8.4"/><ellipse class="w" cx="-10" cy="0" rx="8.4" ry="21"/><path class="w" d="M-36 -12 L-10 -12 L-10 12 L-36 12 Z"/><ellipse class="w" cx="-36" cy="0" rx="4.8" ry="12"/><path d="M-29 -12 A4.8 12 0 0 1 -29 12M-22 -12 A4.8 12 0 0 1 -22 12M-15 -12 A4.8 12 0 0 1 -15 12"/><ellipse cx="-36" cy="0" rx="2.4" ry="6"/></g>
<path d="M865.4 2528.6 L934.5 2547.6"/>
<text class="n" x="946.6" y="2574.5">11</text>
<path d="M785.9 2594.2 L792.8 2566.6 L882.6 2578.7 L880.9 2604.6"/>
<path d="M834.3 2552.8 L832.5 2570"/>
<path d="M820.4 2573.5 L817 2597.7"/>
<path d="M846.4 2577 L842.9 2597.7"/>
<g transform="translate(839.4 2597.7) rotate(-82)"><path class="w" d="M-152 -11 L-52 -11 L-52 11 L-152 11"/><path d="M-142 11 q2 -6.6 8 -11M-125.6 11 q2 -6.6 8 -11M-109.2 11 q2 -6.6 8 -11M-92.8 11 q2 -6.6 8 -11M-76.4 11 q2 -6.6 8 -11M-60 11 q2 -6.6 8 -11"/><path class="w" d="M-52 -9.9 L-26 -9.9 L-26 9.9 L-52 9.9"/><path d="M-52 -11 A5 11 0 0 0 -52 11"/></g>
<g transform="translate(839.4 2597.7) rotate(-82)"><path class="w" d="M-30 -17.8 L0 -19.4 A8.7 19.4 0 0 1 0 19.4 L-30 17.8 A8.7 17.8 0 0 1 -30 -17.8 Z"/><ellipse class="k" cx="0" cy="0" rx="8.7" ry="19.4"/><path d="M-37 -8.1 L-7.4 -8.1 M-37 8.1 L-7.4 8.1"/><path d="M-13.5 -18.8 A8.7 19.4 0 0 0 -13.5 18.8"/></g>
<g transform="translate(874 2615) rotate(-82)"><path class="w" d="M-152 -11 L-52 -11 L-52 11 L-152 11"/><path d="M-142 11 q2 -6.6 8 -11M-125.6 11 q2 -6.6 8 -11M-109.2 11 q2 -6.6 8 -11M-92.8 11 q2 -6.6 8 -11M-76.4 11 q2 -6.6 8 -11M-60 11 q2 -6.6 8 -11"/><path class="w" d="M-52 -9.9 L-26 -9.9 L-26 9.9 L-52 9.9"/><path d="M-52 -11 A5 11 0 0 0 -52 11"/></g>
<g transform="translate(874 2615) rotate(-82)"><path class="w" d="M-30 -17.8 L0 -19.4 A8.7 19.4 0 0 1 0 19.4 L-30 17.8 A8.7 17.8 0 0 1 -30 -17.8 Z"/><ellipse class="k" cx="0" cy="0" rx="8.7" ry="19.4"/><path d="M-37 -8.1 L-7.4 -8.1 M-37 8.1 L-7.4 8.1"/><path d="M-13.5 -18.8 A8.7 19.4 0 0 0 -13.5 18.8"/></g>
<g transform="translate(785.9 2606.3) rotate(-80)"><path class="w" d="M-152 -11 L-52 -11 L-52 11 L-152 11"/><path d="M-142 11 q2 -6.6 8 -11M-125.6 11 q2 -6.6 8 -11M-109.2 11 q2 -6.6 8 -11M-92.8 11 q2 -6.6 8 -11M-76.4 11 q2 -6.6 8 -11M-60 11 q2 -6.6 8 -11"/><path class="w" d="M-52 -9.9 L-26 -9.9 L-26 9.9 L-52 9.9"/><path d="M-52 -11 A5 11 0 0 0 -52 11"/></g>
<g transform="translate(785.9 2606.3) rotate(-80)"><path class="w" d="M-30 -17.8 L0 -19.4 A8.7 19.4 0 0 1 0 19.4 L-30 17.8 A8.7 17.8 0 0 1 -30 -17.8 Z"/><ellipse class="k" cx="0" cy="0" rx="8.7" ry="19.4"/><path d="M-37 -8.1 L-7.4 -8.1 M-37 8.1 L-7.4 8.1"/><path d="M-13.5 -18.8 A8.7 19.4 0 0 0 -13.5 18.8"/></g>
<g transform="translate(810.1 2625.3) rotate(-80)"><path class="w" d="M-152 -11 L-52 -11 L-52 11 L-152 11"/><path d="M-142 11 q2 -6.6 8 -11M-125.6 11 q2 -6.6 8 -11M-109.2 11 q2 -6.6 8 -11M-92.8 11 q2 -6.6 8 -11M-76.4 11 q2 -6.6 8 -11M-60 11 q2 -6.6 8 -11"/><path class="w" d="M-52 -9.9 L-26 -9.9 L-26 9.9 L-52 9.9"/><path d="M-52 -11 A5 11 0 0 0 -52 11"/></g>
<g transform="translate(810.1 2625.3) rotate(-80)"><path class="w" d="M-30 -17.8 L0 -19.4 A8.7 19.4 0 0 1 0 19.4 L-30 17.8 A8.7 17.8 0 0 1 -30 -17.8 Z"/><ellipse class="k" cx="0" cy="0" rx="8.7" ry="19.4"/><path d="M-37 -8.1 L-7.4 -8.1 M-37 8.1 L-7.4 8.1"/><path d="M-13.5 -18.8 A8.7 19.4 0 0 0 -13.5 18.8"/></g>
<text class="n" x="1000.2" y="2631.6">4</text>
<path d="M995 2625.3 L889.6 2659.9"/>
<text class="n" x="623.4" y="2683.4">3</text>
<path d="M658 2666.8 L751.3 2677.9"/>
</g>
<!-- 23_hoses6789v.py -->
<g class="d">
<path d="M259 2180 C262.4 2190.4 271.7 2222.6 279.7 2242.2 C287.8 2261.8 299.6 2283.4 307.4 2297.5 C315.1 2311.6 323.2 2322 326.4 2326.9"/>
<path d="M404.1 2230.1 L403.5 2245.7"/>
<path d="M354 2268.1 L357.5 2245.7 L452.5 2254.3 L447.4 2282"/>
<path d="M386.2 2250.9 L383.4 2276.8"/>
<path d="M412.8 2254.3 L411.1 2264.7"/>
<g transform="translate(412.1 2278.5) rotate(-81)"><path class="w" d="M-143 -11 L-48 -11 L-48 11 L-143 11"/><path d="M-133.5 11 q2 -6.6 8 -11M-118 11 q2 -6.6 8 -11M-102.5 11 q2 -6.6 8 -11M-87 11 q2 -6.6 8 -11M-71.5 11 q2 -6.6 8 -11M-56 11 q2 -6.6 8 -11"/><path class="w" d="M-48 -9.9 L-24 -9.9 L-24 9.9 L-48 9.9"/><path d="M-48 -11 A5 11 0 0 0 -48 11"/></g>
<g transform="translate(412.1 2278.5) rotate(-81)"><path class="w" d="M-28 -17.8 L0 -19.4 A8.7 19.4 0 0 1 0 19.4 L-28 17.8 A8.7 17.8 0 0 1 -28 -17.8 Z"/><ellipse class="k" cx="0" cy="0" rx="8.7" ry="19.4"/><path d="M-35 -8.1 L-7.4 -8.1 M-35 8.1 L-7.4 8.1"/><path d="M-12.6 -18.8 A8.7 19.4 0 0 0 -12.6 18.8"/></g>
<g transform="translate(446.7 2299.2) rotate(-81)"><path class="w" d="M-153 -11 L-48 -11 L-48 11 L-153 11"/><path d="M-142.5 11 q2 -6.6 8 -11M-125.2 11 q2 -6.6 8 -11M-107.9 11 q2 -6.6 8 -11M-90.6 11 q2 -6.6 8 -11M-73.3 11 q2 -6.6 8 -11M-56 11 q2 -6.6 8 -11"/><path class="w" d="M-48 -9.9 L-24 -9.9 L-24 9.9 L-48 9.9"/><path d="M-48 -11 A5 11 0 0 0 -48 11"/></g>
<g transform="translate(446.7 2299.2) rotate(-81)"><path class="w" d="M-28 -17.8 L0 -19.4 A8.7 19.4 0 0 1 0 19.4 L-28 17.8 A8.7 17.8 0 0 1 -28 -17.8 Z"/><ellipse class="k" cx="0" cy="0" rx="8.7" ry="19.4"/><path d="M-35 -8.1 L-7.4 -8.1 M-35 8.1 L-7.4 8.1"/><path d="M-12.6 -18.8 A8.7 19.4 0 0 0 -12.6 18.8"/></g>
<g transform="translate(351.6 2288.9) rotate(-79)"><path class="w" d="M-163 -11 L-48 -11 L-48 11 L-163 11"/><path d="M-151.5 11 q2 -6.6 8 -11M-132.4 11 q2 -6.6 8 -11M-113.3 11 q2 -6.6 8 -11M-94.2 11 q2 -6.6 8 -11M-75.1 11 q2 -6.6 8 -11M-56 11 q2 -6.6 8 -11"/><path class="w" d="M-48 -9.9 L-24 -9.9 L-24 9.9 L-48 9.9"/><path d="M-48 -11 A5 11 0 0 0 -48 11"/></g>
<g transform="translate(351.6 2288.9) rotate(-79)"><path class="w" d="M-28 -17.8 L0 -19.4 A8.7 19.4 0 0 1 0 19.4 L-28 17.8 A8.7 17.8 0 0 1 -28 -17.8 Z"/><ellipse class="k" cx="0" cy="0" rx="8.7" ry="19.4"/><path d="M-35 -8.1 L-7.4 -8.1 M-35 8.1 L-7.4 8.1"/><path d="M-12.6 -18.8 A8.7 19.4 0 0 0 -12.6 18.8"/></g>
<g transform="translate(378.6 2307.9) rotate(-80)"><path class="w" d="M-148 -11 L-48 -11 L-48 11 L-148 11"/><path d="M-138 11 q2 -6.6 8 -11M-121.6 11 q2 -6.6 8 -11M-105.2 11 q2 -6.6 8 -11M-88.8 11 q2 -6.6 8 -11M-72.4 11 q2 -6.6 8 -11M-56 11 q2 -6.6 8 -11"/><path class="w" d="M-48 -9.9 L-24 -9.9 L-24 9.9 L-48 9.9"/><path d="M-48 -11 A5 11 0 0 0 -48 11"/></g>
<g transform="translate(378.6 2307.9) rotate(-80)"><path class="w" d="M-28 -17.8 L0 -19.4 A8.7 19.4 0 0 1 0 19.4 L-28 17.8 A8.7 17.8 0 0 1 -28 -17.8 Z"/><ellipse class="k" cx="0" cy="0" rx="8.7" ry="19.4"/><path d="M-35 -8.1 L-7.4 -8.1 M-35 8.1 L-7.4 8.1"/><path d="M-12.6 -18.8 A8.7 19.4 0 0 0 -12.6 18.8"/></g>
<text class="n" x="184.7" y="2360.8">8</text>
<path d="M222.7 2346.9 L317.7 2359"/>
<text class="n" x="168.1" y="2450.6">6</text>
<path d="M203.7 2430.6 L347.1 2413.3"/>
<text class="n" x="562.1" y="2345.2">9</text>
<path d="M457.7 2334.5 L559.7 2329.3"/>
<text class="n" x="563.8" y="2424.7">7</text>
<path d="M407.6 2396 L557.9 2406.4"/>
<path d="M321.2 2456.5 C321.2 2463.4 317.7 2485.3 321.2 2498 C324.7 2510.6 333.3 2523.9 341.9 2532.5 C350.6 2541.2 362.1 2546.4 373 2549.8 C384 2553.3 401.8 2552.7 407.6 2553.3"/>
<path d="M354 2453 C354.6 2459.4 354.3 2480.7 357.5 2491.1 C360.7 2501.4 365.8 2509.2 373 2515.3 C380.2 2521.3 396.1 2525.3 400.7 2527.4"/>
<path d="M381.7 2421.9 C382.5 2429.4 382 2453 386.9 2466.9 C391.8 2480.7 400.7 2494.5 411.1 2504.9 C421.4 2515.3 437.6 2523 449.1 2529.1 C460.6 2535.1 475 2539.2 480.2 2541.2"/>
<path d="M421.4 2453 C422.6 2458.2 423.7 2474.4 428.3 2484.1 C432.9 2493.9 440.4 2503.7 449.1 2511.8 C457.7 2519.9 475 2529.1 480.2 2532.5"/>
<path d="M428.3 2473.8 L452.5 2506.6"/>
<path d="M409.3 2520.4 L402.4 2522.2 L404.1 2539.4 L418 2539.4"/>
<path d="M447.4 2542.9 L419.7 2544.6 L423.2 2558.5 L417.3 2565.4 L526.8 2591.3"/>
<path d="M456 2513.5 L466.4 2506.6 L507.8 2539.4"/>
<path d="M456 2513.5 L459.4 2525.6 L480.2 2539.4"/>
<path d="M487.1 2537.7 L480.2 2558.5 L533.8 2577.5 L540.7 2556.7 L487.1 2537.7"/>
<path d="M461.2 2539.4 L454.3 2553.3 L480.2 2563.6"/>
</g>
<g class="d">
<path d="M786.9 2594.1 L791.5 2566.5 L883.6 2578 L881.3 2607.9"/>
<path d="M754.6 2780.7 C755 2789.6 752.7 2819.9 756.9 2833.7 C761.1 2847.6 770 2861.4 780 2863.7 C789.9 2866 807.2 2854.9 816.8 2847.6 C826.4 2840.3 834.1 2824.5 837.6 2819.9"/>
<path d="M786.9 2773.8 C786.5 2780.7 781.9 2804.9 784.6 2815.3 C787.3 2825.7 799.9 2832.6 803 2836"/>
<path d="M809.9 2778.4 C809.9 2783.8 807.2 2803.4 809.9 2810.7 C812.6 2818 821 2824.5 826 2822.2 C831 2819.9 836.8 2805.7 839.9 2796.9 C842.9 2788 843.7 2773.8 844.5 2769.2"/>
<path d="M849.1 2778.4 C848.3 2785.4 842.9 2809.9 844.5 2819.9 C846 2829.9 852.9 2839.9 858.3 2838.3 C863.7 2836.8 872.5 2821.4 876.7 2810.7 C881 2799.9 882.5 2780 883.6 2773.8"/>
<path d="M823.7 2801.5 L832.9 2773.8"/>
<path d="M745.4 2746.2 L743.1 2771.5 L770.7 2766.9 L773 2743.9"/>
<path d="M842.2 2755.4 L839.9 2769.2 L858.3 2773.8"/>
<text class="n" x="602.5" y="2768.3">2</text>
<path d="M634.8 2748.5 L775.3 2734.7"/>
<text class="n" x="1002.1" y="2911.2">1</text>
<path d="M835.3 2723.1 L996.5 2884.4"/>
</g>
<!-- 24_center_bottom.py -->
<g class="d">
<path d="M1098.2 2318.3 L1101.9 2316.2 L1105.5 2314.2 L1109.1 2312.1 L1112.7 2310.1 L1116.4 2308 L1120 2306 L1123.6 2304 L1127.2 2301.9 L1130.8 2299.9 L1134.4 2297.9 L1138.1 2295.8 L1141.7 2293.8 L1145.3 2291.9 L1148.9 2289.9 L1152.5 2287.9 L1156.1 2285.9 L1159.8 2283.9 L1163.4 2282 L1167.1 2280 L1170.7 2278 L1174.4 2276 L1178 2274.1 L1181.7 2272.1 L1185.4 2270.1"/>
<path d="M1077.6 2281.7 L1081.2 2279.7 L1084.8 2277.6 L1088.4 2275.6 L1092.1 2273.5 L1095.7 2271.5 L1099.3 2269.4 L1103 2267.4 L1106.6 2265.3 L1110.3 2263.3 L1113.9 2261.2 L1117.6 2259.2 L1121.3 2257.1 L1125 2255.1 L1128.7 2253 L1132.4 2251 L1136.1 2249 L1139.7 2247 L1143.4 2245 L1147.1 2243 L1150.8 2241 L1154.4 2239.1 L1158.1 2237.1 L1161.8 2235.1 L1165.4 2233.1"/>
<path d="M1092.7 2321.4 C1092 2307.3 1083.8 2292.7 1083.1 2278.6M1118.1 2307 C1117.4 2293 1109.2 2278.3 1108.5 2264.3M1147 2290.9 C1146.5 2276.8 1138.4 2262.1 1137.9 2248M1172.5 2277 C1172.1 2263 1164.1 2248.2 1163.6 2234.1" style="stroke-width:4.7"/>
<ellipse cx="1173.4" cy="2251.6" rx="12.1" ry="21" transform="rotate(-30 1173.4 2251.6)"/>
<path d="M1177.4 2232.3 L1225.8 2204.8"/>
<path d="M1187.5 2250.4 L1237.9 2221"/>
<path d="M1193.5 2268.5 L1241.9 2241.1"/>
<path d="M1241.6 2240.9 L1244.5 2238.1 L1247.5 2235.3 L1250.4 2232.6 L1253.3 2229.8 L1256.2 2227 L1259.2 2224.3 L1262.1 2221.5 L1265 2218.7 L1267.9 2215.9 L1270.8 2213.2 L1273.7 2210.4 L1276.6 2207.7 L1279.6 2204.9 L1282.5 2202.1 L1285.4 2199.4 L1288.3 2196.6 L1291.2 2193.9 L1294.1 2191.1 L1297.1 2188.4 L1300 2185.7 L1302.9 2183 L1305.8 2180.3 L1308.7 2177.6 L1311.7 2174.8 L1314.8 2171.9 L1318.5 2168.4 L1320.2 2166.3 L1321.5 2165.5 L1324.5 2163.3 L1327.8 2160.9 L1331.1 2158.5 L1334.4 2156.1 L1337.7 2153.7 L1341 2151.2 L1344.3 2148.8 L1347.6 2146.3 L1350.9 2143.8 L1354.1 2141.4 L1357.3 2138.9 L1360.5 2136.4 L1363.7 2134 L1366.9 2131.5 L1370.1 2129.1 L1373.3 2126.7 L1376.5 2124.2 L1379.7 2121.8 L1382.8 2119.4 L1386 2117 L1389.2 2114.6 L1392.4 2112.2 L1395.6 2109.8 L1398.7 2107.4 L1401.9 2105.1 L1405.1 2102.7 L1408.3 2100.3 L1411.6 2098 L1414.7 2095.6 L1417.8 2093.4 L1421.1 2091.1 L1424.3 2088.7 L1427.6 2086.4 L1430.8 2084.1 L1433.9 2082 L1437.2 2079.7 L1440.5 2077.5 L1443.8 2075.2 L1447.1 2072.9 L1450.2 2070.8 L1453.4 2068.7 L1456.8 2066.5 L1460.1 2064.3 L1463.5 2062.1 L1466.7 2060.1 L1469.8 2058.1 L1473.2 2056 L1476.6 2053.9 L1480 2051.8 L1483.4 2049.7 L1486.5 2047.8 L1489.8 2046 L1493.3 2044 L1496.8 2041.9 L1500.3 2039.9 L1503.7 2038 L1506.9 2036.1 L1510.3 2034.3 L1513.9 2032.3 L1517.4 2030.4 L1520.9 2028.5 L1524.5 2026.6 L1527.9 2024.7 L1531.3 2022.9 L1534.8 2021 L1538.4 2019.1 L1541.9 2017.3 L1545.5 2015.4 L1549 2013.5 L1552.5 2011.7 L1556 2009.9 L1559.6 2008 L1563.1 2006.2 L1566.7 2004.3 L1570.3 2002.5 L1573.9 2000.7 L1577.4 1998.8 L1580.9 1997 L1584.5 1995.2 L1588 1993.4 L1591.6 1991.6 L1595.2 1989.8 L1598.8 1988 L1602.4 1986.1 L1606 1984.3 L1609.5 1982.6 L1613.1 1980.8 L1616.7 1979 L1620.3 1977.2 L1623.9 1975.4 L1627.5 1973.6 L1631.1 1971.8 L1634.6 1970 L1638.2 1968.2 L1641.8 1966.4 L1645.4 1964.6 L1649 1962.8 L1652.6 1961.1 L1656.2 1959.3 L1659.8 1957.5 L1663.4 1955.7 L1667 1953.9 L1670.6 1952.1 L1674.3 1950.3 L1677.9 1948.5 L1681.5 1946.7 L1685.1 1944.9 L1688.7 1943.1 L1692.3 1941.4 L1696 1939.5 L1699.6 1937.7 L1703.2 1935.8 L1706.8 1934 L1710.4 1932.2"/>
<path d="M1210 2207.5 L1212.9 2204.7 L1215.8 2202 L1218.7 2199.2 L1221.6 2196.4 L1224.6 2193.7 L1227.5 2190.9 L1230.4 2188.1 L1233.3 2185.4 L1236.2 2182.6 L1239.2 2179.8 L1242.1 2177 L1245 2174.3 L1247.9 2171.5 L1250.9 2168.7 L1253.8 2165.9 L1256.7 2163.2 L1259.7 2160.4 L1262.6 2157.6 L1265.6 2154.9 L1268.5 2152.1 L1271.5 2149.3 L1274.5 2146.5 L1277.5 2143.7 L1280.5 2141 L1283.2 2138.5 L1285.3 2136.5 L1289 2132.5 L1294.1 2128.5 L1297.6 2126 L1300.8 2123.6 L1304.1 2121.3 L1307.3 2119 L1310.4 2116.7 L1313.6 2114.3 L1316.8 2112 L1319.9 2109.6 L1323 2107.2 L1326.2 2104.8 L1329.4 2102.4 L1332.5 2099.9 L1335.7 2097.5 L1338.9 2095 L1342.1 2092.6 L1345.4 2090.1 L1348.6 2087.7 L1351.7 2085.2 L1355 2082.8 L1358.3 2080.3 L1361.5 2077.8 L1364.7 2075.4 L1367.9 2073 L1371.2 2070.5 L1374.6 2068.1 L1377.8 2065.7 L1381.1 2063.3 L1384.3 2060.9 L1387.6 2058.4 L1391.1 2056 L1394.4 2053.6 L1397.6 2051.3 L1400.9 2049 L1404.3 2046.6 L1407.8 2044.1 L1411.1 2041.8 L1414.5 2039.5 L1417.8 2037.3 L1421.1 2034.9 L1424.7 2032.5 L1428.2 2030.2 L1431.6 2028 L1435 2025.8 L1438.3 2023.6 L1441.9 2021.3 L1445.6 2019 L1449.1 2016.9 L1452.5 2014.7 L1455.9 2012.6 L1459.4 2010.5 L1463.2 2008.2 L1466.9 2006.1 L1470.4 2004.1 L1473.8 2002.1 L1477.3 2000.1 L1480.9 1998 L1484.6 1995.9 L1488.3 1993.9 L1491.8 1992 L1495.3 1990.1 L1498.9 1988.1 L1502.4 1986.2 L1506 1984.2 L1509.7 1982.2 L1513.3 1980.3 L1516.9 1978.5 L1520.5 1976.6 L1524 1974.7 L1527.6 1972.8 L1531.2 1970.9 L1534.9 1969 L1538.5 1967.1 L1542.1 1965.3 L1545.6 1963.5 L1549.2 1961.6 L1552.8 1959.8 L1556.4 1957.9 L1560 1956 L1563.7 1954.2 L1567.3 1952.4 L1570.9 1950.6 L1574.4 1948.7 L1578 1946.9 L1581.6 1945.1 L1585.3 1943.3 L1588.9 1941.4 L1592.5 1939.6 L1596.1 1937.8 L1599.7 1936 L1603.3 1934.2 L1606.9 1932.4 L1610.5 1930.6 L1614.1 1928.8 L1617.8 1927 L1621.4 1925.2 L1625 1923.4 L1628.6 1921.6 L1632.2 1919.9 L1635.8 1918.1 L1639.4 1916.3 L1643 1914.5 L1646.6 1912.7 L1650.2 1910.9 L1653.8 1909.1 L1657.4 1907.3 L1661 1905.6 L1664.6 1903.8 L1668.2 1902 L1671.8 1900.2 L1675.3 1898.4 L1678.8 1896.6 L1682.4 1894.8 L1686 1893 L1689.6 1891.2"/>
<path d="M1235.8 2246.4 C1232.1 2230.9 1219.5 2217.5 1215.8 2202M1256.2 2227 C1252.6 2211.5 1239.9 2198.1 1236.2 2182.6M1279.5 2204.9 C1275.9 2189.4 1263.3 2176 1259.7 2160.4M1299.9 2185.7 C1296.4 2170.1 1283.9 2156.6 1280.4 2141.1M1321.3 2165.6 C1319.7 2149.7 1308.9 2134.8 1307.4 2118.9M1344.5 2148.7 C1342.5 2132.8 1331.4 2118.2 1329.4 2102.3M1370.1 2129.1 C1368.1 2113.3 1356.9 2098.6 1354.9 2082.8M1392.3 2112.2 C1390.5 2096.3 1379.5 2081.6 1377.7 2065.7M1417.8 2093.4 C1416.3 2077.5 1405.6 2062.5 1404.2 2046.6M1440.4 2077.5 C1439.3 2061.5 1428.9 2046.3 1427.8 2030.4M1466.3 2060.2 C1465.9 2044.3 1456.3 2028.6 1455.9 2012.6M1489.8 2046 C1489.9 2030 1480.7 2014 1480.8 1998.1M1517.4 2030.4 C1517.9 2014.4 1509 1998.3 1509.5 1982.3M1541.9 2017.3 C1542.6 2001.3 1534 1985 1534.7 1969.1M1570.3 2002.5 C1571.1 1986.6 1562.7 1970.2 1563.5 1954.2M1595.2 1989.8 C1596.2 1973.8 1587.9 1957.4 1588.8 1941.5M1623.9 1975.4 C1624.9 1959.4 1616.7 1943 1617.7 1927M1649 1962.8 C1650.1 1946.9 1641.9 1930.4 1643 1914.5M1677.9 1948.5 C1678.9 1932.6 1670.7 1916.1 1671.8 1900.2" style="stroke-width:4.7"/>
<path d="M1441.5 2024.6 C1443.9 2021.6 1449.3 2009.8 1455.6 2006.5 C1462 2003.1 1472.8 2001.1 1479.8 2004.4 C1486.9 2007.8 1494.1 2018.9 1498 2026.6 C1501.9 2034.3 1502.6 2042.1 1503.2 2050.8 C1503.9 2059.5 1505.9 2072.3 1502 2079 C1498.1 2085.8 1483.9 2093.1 1479.8 2091.1 C1475.8 2089.1 1479.2 2075 1477.8 2066.9 C1476.5 2058.9 1474.8 2048.8 1471.8 2042.7 C1468.8 2036.7 1461.7 2032.7 1459.7 2030.6" style="fill:#fdfdfb;"/>
<ellipse cx="1490.7" cy="2071" rx="4" ry="6.5" transform="rotate(20 1490.7 2071)"/>
<path d="M1252 2066.9 L1286.3 2119.4"/>
<path d="M1278.2 2139.5 L1302.4 2121.4 L1354.8 2139.5 L1330.6 2159.7 Z" style="fill:#fdfdfb;"/>
<ellipse cx="1332.7" cy="2145.6" rx="6.5" ry="3.6" transform="rotate(-10 1332.7 2145.6)"/>
<path d="M1510.1 2099.2 C1511.8 2097.8 1515.8 2087.8 1520.2 2091.1 C1524.5 2094.5 1534.3 2111.6 1536.3 2119.4 C1538.3 2127.1 1532.9 2134.5 1532.3 2137.5"/>
<path d="M1548.4 2121.4 L1570.6 2113.3 L1572.6 2131.5 L1550.4 2139.5 L1548.4 2121.4"/>
<text class="n" x="1401.2" y="2154.8">35</text>
<path d="M1401.2 2161.7 L1336.7 2208.1"/>
<path d="M1219.8 2250.4 C1226.1 2248.4 1242.9 2241.1 1258.1 2238.3 C1273.2 2235.5 1301.7 2234.3 1310.5 2233.5"/>
<path d="M1377 2250.4 C1384.7 2256.1 1411 2272.2 1423.4 2284.7 C1435.8 2297.1 1445.9 2313.6 1451.6 2325 C1457.3 2336.4 1456.7 2348.5 1457.7 2353.2"/>
<path d="M1334.7 2220.2 L1381 2236.3 L1366.9 2260.5 L1330.6 2246.4"/>
<path d="M1308.5 2216.1 L1334.7 2218.1 L1324.6 2262.5 L1298.4 2260.5 Z" style="fill:#fdfdfb;"/>
<ellipse cx="1312.5" cy="2251.2" rx="4.8" ry="3.2"/>
<path d="M1266.1 2216.1 C1272.8 2216.5 1295 2217.3 1306.5 2218.1 C1317.9 2219 1330 2220.5 1334.7 2221"/>
<ellipse class="w" cx="1313.7" cy="2286.7" rx="21" ry="12.1"/>
<ellipse cx="1313.7" cy="2286.7" rx="9.4" ry="5.4"/>
<path d="M1219.8 2306.9 L1284.3 2294.8"/>
<text class="n" x="1149.2" y="2330.2">37</text>
<g transform="translate(1312.5 2413.7) rotate(-90)"><path class="w" d="M30 -10.5 L100 -10.5 A3.7 10.5 0 0 1 100 10.5 L30 10.5 Z"/><ellipse cx="100" cy="0" rx="3.7" ry="10.5"/><path d="M91 -10.5 A3.7 10.5 0 0 1 91 10.5M82 -10.5 A3.7 10.5 0 0 1 82 10.5M73 -10.5 A3.7 10.5 0 0 1 73 10.5M64 -10.5 A3.7 10.5 0 0 1 64 10.5"/><path class="w" d="M-3.7 18.2 L3.7 18.2 L33.7 18.2 L37.4 0 L33.7 -18.2 L3.7 -18.2 L-3.7 -18.2 L-7.3 0 Z"/><path d="M7.3 0 L3.7 18.2 L-3.7 18.2 L-7.3 0 L-3.7 -18.2 L3.7 -18.2 Z"/><path d="M7.3 0 L37.4 0"/></g>
<path d="M1219.8 2362.1 L1292.3 2365.3"/>
<text class="n" x="1149.2" y="2386.7">36</text>
<g transform="translate(1199.6 2402.4) rotate(90)"><path class="w" d="M22 -11.5 L92 -11.5 A4.6 11.5 0 0 1 92 11.5 L22 11.5 Z"/><ellipse cx="92" cy="0" rx="4.6" ry="11.5"/><path d="M81 -11.5 A4.6 11.5 0 0 1 81 11.5M70 -11.5 A4.6 11.5 0 0 1 70 11.5M59 -11.5 A4.6 11.5 0 0 1 59 11.5M48 -11.5 A4.6 11.5 0 0 1 48 11.5"/><ellipse class="w" cx="24" cy="0" rx="5.5" ry="13.9"/><path class="w" d="M-4.2 18.2 L4.2 18.2 L26.2 18.2 L30.4 0 L26.2 -18.2 L4.2 -18.2 L-4.2 -18.2 L-8.4 0 Z"/><path d="M8.4 0 L4.2 18.2 L-4.2 18.2 L-8.4 0 L-4.2 -18.2 L4.2 -18.2 Z"/><path d="M8.4 0 L30.4 0"/></g>
<path d="M1100.8 2439.9 L1181.5 2445.2"/>
<text class="n" x="1036.3" y="2455.2">18</text>
<ellipse class="w" cx="1198.4" cy="2522.6" rx="22.2" ry="12.1"/>
<ellipse cx="1198.4" cy="2522.6" rx="9.3" ry="5.1"/>
<path d="M1096.8 2521.8 L1171.4 2522.6"/>
<text class="n" x="1036.3" y="2544">19</text>
<text class="n" x="1440.3" y="2285.9">35A</text>
<path d="M1477.8 2292.7 L1471.8 2347.2"/>
<path d="M1429.4 2373.4 L1467.7 2353.2 L1494 2369.4 L1455.6 2387.5 Z" style="fill:#fdfdfb;"/>
<ellipse cx="1448.4" cy="2375.4" rx="5.2" ry="3.6"/>
<path d="M1471.8 2387.5 C1472.4 2385.1 1472.8 2376.4 1475.8 2373.4 C1478.8 2370.4 1486.7 2368.7 1489.9 2369.4 C1493.1 2370 1494.3 2376.1 1495.2 2377.4"/>
<path d="M1481.9 2381.5 L1594.8 2446"/>
<ellipse cx="1312.5" cy="2526.6" rx="11.3" ry="21" transform="rotate(-25 1312.5 2526.6)"/>
<path d="M1310.5 2508.5 L1419.4 2449.2"/>
<path d="M1318.5 2522.6 L1427.4 2464.1"/>
<path d="M1322.6 2534.7 L1433.5 2478.2"/>
<path d="M1328.6 2542.7 L1403.2 2504.4"/>
<path d="M1434.9 2484 L1438.4 2482 L1441.9 2480 L1445.3 2478 L1448.8 2476 L1452.3 2474 L1455.8 2472 L1459.2 2470 L1462.7 2468 L1466.2 2465.9 L1469.7 2463.9 L1473.2 2461.9 L1476.7 2459.9 L1480.2 2457.9 L1483.7 2455.9 L1487.2 2453.8 L1490.7 2451.8 L1494.1 2449.8 L1497.6 2447.7 L1501.1 2445.7 L1504.6 2443.6 L1508.1 2441.6 L1511.6 2439.5 L1515.1 2437.5 L1518.5 2435.4 L1522 2433.3 L1525.5 2431.3 L1529 2429.2 L1532.5 2427 L1536.1 2424.9 L1539.5 2422.8 L1543 2420.6 L1546.5 2418.4 L1550 2416.3 L1553.4 2414.1 L1556.8 2411.9 L1560.3 2409.8 L1563.7 2407.6 L1567.1 2405.4 L1570.5 2403.2 L1573.9 2401.1 L1577.3 2398.9 L1580.6 2396.7 L1584 2394.6 L1587.4 2392.4 L1590.8 2390.2 L1594.2 2388.1 L1597.5 2385.9 L1600.9 2383.8 L1604.3 2381.6 L1607.6 2379.5 L1610.9 2377.5 L1614.3 2375.3 L1617.7 2373.2 L1621 2371.2 L1624.4 2369.2 L1627.8 2367.1 L1631.1 2365.1 L1634.4 2363.2 L1637.8 2361.2 L1641.1 2359.3 L1644.3 2357.5 L1647.7 2355.6 L1650.9 2353.9 L1654 2352.4 L1657.3 2350.8 L1660.4 2349.4 L1663.6 2348.1 L1666.8 2346.9 L1670 2345.7 L1673.2 2344.6 L1676.4 2343.7 L1679.8 2342.8 L1683.1 2342 L1686.5 2341.3 L1690 2340.6 L1693.7 2339.9 L1697.8 2339.2 L1702.5 2338.4 L1707 2337.3"/>
<path d="M1411.8 2444.2 L1415.3 2442.2 L1418.8 2440.2 L1422.3 2438.1 L1425.8 2436.1 L1429.3 2434.1 L1432.8 2432.1 L1436.3 2430.1 L1439.8 2428.1 L1443.2 2426.1 L1446.7 2424.1 L1450.2 2422.1 L1453.6 2420.1 L1457.1 2418.1 L1460.6 2416.1 L1464 2414.1 L1467.5 2412 L1471 2410 L1474.4 2408 L1477.9 2406 L1481.3 2404 L1484.8 2401.9 L1488.2 2399.9 L1491.6 2397.9 L1495.1 2395.8 L1498.5 2393.8 L1501.9 2391.8 L1505.4 2389.7 L1508.7 2387.7 L1512 2385.7 L1515.5 2383.6 L1518.8 2381.5 L1522.1 2379.5 L1525.5 2377.3 L1528.9 2375.2 L1532.2 2373.1 L1535.6 2371 L1538.9 2368.8 L1542.3 2366.7 L1545.7 2364.5 L1549.1 2362.3 L1552.4 2360.2 L1555.8 2358 L1559.2 2355.8 L1562.6 2353.7 L1566 2351.5 L1569.4 2349.3 L1572.8 2347.1 L1576.3 2345 L1579.6 2342.8 L1583.1 2340.6 L1586.6 2338.4 L1590 2336.3 L1593.4 2334.2 L1597 2332 L1600.5 2329.8 L1604 2327.7 L1607.5 2325.6 L1611.2 2323.4 L1614.8 2321.4 L1618.4 2319.3 L1622.2 2317.1 L1625.9 2315.1 L1629.8 2313 L1633.9 2311 L1637.9 2309.1 L1642.1 2307.2 L1646.3 2305.5 L1650.6 2303.8 L1655 2302.2 L1659.4 2300.8 L1663.9 2299.4 L1668.3 2298.2 L1672.8 2297.1 L1677.3 2296.2 L1681.6 2295.3 L1685.9 2294.6 L1689.7 2293.9 L1692.9 2293.4 L1696.3 2292.6"/>
<path d="M1428 2488 C1428 2472.1 1418.8 2456.2 1418.8 2440.2M1452.3 2474 C1452.4 2458 1443.2 2442.1 1443.3 2426.1M1480.2 2457.9 C1480.2 2441.9 1471 2426 1471 2410M1504.7 2443.6 C1504.6 2427.6 1495.2 2411.8 1495.1 2395.8M1532.6 2427 C1532.3 2411 1522.7 2395.3 1522.3 2379.4M1556.9 2411.9 C1556.3 2396 1546.4 2380.4 1545.7 2364.5M1584 2394.6 C1583.4 2378.6 1573.4 2363.1 1572.8 2347.1M1607.5 2379.6 C1607 2363.6 1597.3 2348 1596.9 2332M1634.1 2363.2 C1634.3 2347.3 1625.2 2331.3 1625.4 2315.3M1656.1 2351.1 C1658.4 2335.3 1651.5 2318.3 1653.8 2302.5M1682.1 2342 C1687.5 2327 1684.1 2308.9 1689.5 2293.9" style="stroke-width:4.7"/>
<path d="M1366.9 2397.6 L1336.7 2462.1 L1310.5 2504.4"/>
<path d="M1389.1 2407.7 L1356.9 2474.2"/>
<path d="M1366.9 2397.6 L1389.1 2407.7"/>
<path d="M1342.7 2530.6 L1403.2 2518.5 L1409.3 2530.6 L1399.2 2536.7 L1354.8 2538.7"/>
<path d="M1409.3 2528.6 C1413.6 2533 1423.1 2545.2 1435.5 2554.8 C1447.9 2564.4 1465.7 2578.6 1483.9 2586.3 C1502 2594 1524.2 2598.6 1544.4 2601.2 C1564.5 2603.8 1594.8 2601.9 1604.8 2602"/>
<text class="n" x="1514.1" y="2572.2">10</text>
<path d="M1614.9 2486.3 L1574.6 2528.6"/>
<text class="j" y="2213.4" style="font-size:32px"><tspan x="1561.5">第</tspan><tspan x="1599.5" style="font-size:36px" textLength="89" lengthAdjust="spacing">6501</tspan><tspan x="1699">図</tspan><tspan x="1741.5">参</tspan><tspan x="1783.5">照</tspan></text>
<text class="s" y="2250.4" style="font-size:38px"><tspan x="1559.5" textLength="60" lengthAdjust="spacingAndGlyphs">See</tspan> <tspan x="1647.5" textLength="56" lengthAdjust="spacingAndGlyphs">Fig.</tspan> <tspan x="1727.5" textLength="85" lengthAdjust="spacingAndGlyphs">6501</tspan></text>
<path d="M1665.3 2650 L1669.4 2631.5"/>
</g>
<!-- 25_right.py -->
<g class="d">
<path d="M1611.2 1503.7 L1611.2 1507.7 L1611.1 1511.7 L1611.1 1515.8 L1611.1 1519.7 L1611.1 1523.8 L1611 1527.8 L1611 1531.8 L1611 1535.8 L1610.9 1539.8 L1610.9 1543.9 L1610.8 1547.9 L1610.8 1551.9 L1610.8 1555.9 L1610.7 1559.9 L1610.7 1564 L1610.7 1568 L1610.6 1572 L1610.6 1576 L1610.6 1580.1 L1610.5 1584.1 L1610.5 1588.1 L1610.5 1592.1 L1610.4 1596.2 L1610.4 1600.2 L1610.4 1604.2 L1610.4 1608.3 L1610.4 1612.3 L1610.3 1616.3 L1610.3 1620.3 L1610.3 1624.4 L1610.3 1628.4 L1610.3 1632.4 L1610.3 1636.5 L1610.3 1640.5 L1610.3 1644.5 L1610.3 1648.5 L1610.3 1652.6 L1610.3 1656.6 L1610.3 1660.7 L1610.4 1664.7 L1610.4 1668.7 L1610.4 1672.8 L1610.5 1676.9 L1610.5 1680.9 L1610.6 1684.9 L1610.6 1688.9 L1610.7 1693.1 L1610.8 1697.2 L1611 1701.2 L1611.1 1705.2 L1611.2 1709.3 L1611.4 1713.5 L1611.6 1717.5 L1611.8 1721.6 L1612.1 1725.6 L1612.3 1729.7 L1612.6 1733.8 L1612.9 1737.9 L1613.2 1742.1 L1613.7 1746.3 L1614.2 1750.6 L1614.8 1754.9 L1615.6 1759.2 L1616.4 1763.6 L1617.5 1767.9 L1618.7 1772.1 L1620 1776.3 L1621.4 1780.3 L1622.8 1784.2 L1624.2 1788.2 L1625.7 1792.1 L1627.2 1796 L1628.9 1800 L1630.7 1803.9 L1632.5 1807.8 L1634.4 1811.6 L1636.5 1815.4 L1638.6 1819.2 L1640.7 1822.9 L1643 1826.6 L1645.4 1830.2 L1647.9 1833.7 L1650.4 1837.2 L1653 1840.7 L1655.7 1844 L1658.5 1847.3 L1661.3 1850.6 L1664.3 1853.8 L1667.3 1856.8 L1670.4 1859.9 L1673.6 1862.8 L1676.8 1865.7 L1680.1 1868.5 L1683.5 1871.2 L1686.9 1873.8 L1690.3 1876.3 L1693.7 1878.8 L1697.2 1881.2 L1700.6 1883.5 L1704.1 1885.8 L1707.6 1888 L1711.1 1890.2 L1714.5 1892.3 L1718 1894.5 L1721.5 1896.6 L1725 1898.7 L1728.4 1900.8 L1731.9 1902.8 L1735.5 1904.9 L1739 1907 L1742.6 1909 L1746.2 1911.1 L1749.7 1913 L1753.3 1915 L1756.9 1916.9 L1760.5 1918.8 L1764.1 1920.7 L1767.7 1922.6 L1771.3 1924.5 L1774.8 1926.4 L1778.4 1928.3 L1782 1930.1 L1785.6 1932 L1789.2 1933.8 L1792.8 1935.6 L1796.4 1937.5 L1800 1939.3 L1803.6 1941.1 L1807.2 1942.9 L1810.8 1944.7 L1814.4 1946.5 L1818 1948.4 L1821.6 1950.2 L1825.2 1952 L1828.8 1953.8 L1832.3 1955.6 L1835.9 1957.4 L1839.4 1959.2"/>
<path d="M1636.2 1503.8 L1636.2 1507.8 L1636.1 1511.9 L1636.1 1515.9 L1636.1 1519.9 L1636.1 1524 L1636 1528 L1636 1532 L1636 1536 L1635.9 1540.1 L1635.9 1544.1 L1635.8 1548.1 L1635.8 1552.1 L1635.8 1556.1 L1635.7 1560.2 L1635.7 1564.2 L1635.7 1568.2 L1635.6 1572.2 L1635.6 1576.2 L1635.6 1580.3 L1635.5 1584.3 L1635.5 1588.3 L1635.5 1592.3 L1635.4 1596.3 L1635.4 1600.3 L1635.4 1604.4 L1635.4 1608.4 L1635.4 1612.4 L1635.3 1616.4 L1635.3 1620.4 L1635.3 1624.4 L1635.3 1628.4 L1635.3 1632.4 L1635.3 1636.5 L1635.3 1640.5 L1635.3 1644.5 L1635.3 1648.5 L1635.3 1652.5 L1635.3 1656.5 L1635.3 1660.5 L1635.4 1664.5 L1635.4 1668.6 L1635.4 1672.5 L1635.5 1676.5 L1635.5 1680.5 L1635.6 1684.5 L1635.6 1688.5 L1635.7 1692.5 L1635.8 1696.4 L1635.9 1700.4 L1636.1 1704.4 L1636.2 1708.3 L1636.4 1712.2 L1636.6 1716.3 L1636.8 1720.2 L1637 1724.1 L1637.3 1728.1 L1637.5 1732 L1637.8 1735.9 L1638.1 1739.8 L1638.5 1743.6 L1639 1747.3 L1639.5 1750.9 L1640.1 1754.6 L1640.8 1758.1 L1641.7 1761.5 L1642.7 1765 L1643.8 1768.6 L1645 1772.1 L1646.3 1775.8 L1647.6 1779.4 L1649 1783 L1650.4 1786.6 L1651.9 1790 L1653.4 1793.5 L1655 1796.8 L1656.7 1800.2 L1658.4 1803.5 L1660.3 1806.7 L1662.1 1810 L1664.1 1813.1 L1666.1 1816.2 L1668.3 1819.3 L1670.5 1822.3 L1672.7 1825.2 L1675 1828.2 L1677.4 1831 L1679.9 1833.8 L1682.4 1836.6 L1685 1839.2 L1687.6 1841.8 L1690.4 1844.3 L1693.1 1846.8 L1696 1849.2 L1698.9 1851.5 L1701.9 1853.8 L1705 1856.1 L1708.1 1858.3 L1711.2 1860.5 L1714.4 1862.6 L1717.7 1864.8 L1721 1866.9 L1724.3 1869 L1727.7 1871.1 L1731 1873.1 L1734.4 1875.2 L1737.9 1877.2 L1741.3 1879.3 L1744.7 1881.3 L1748.1 1883.3 L1751.5 1885.3 L1754.9 1887.3 L1758.3 1889.2 L1761.8 1891.1 L1765.3 1893 L1768.7 1894.9 L1772.3 1896.8 L1775.8 1898.7 L1779.3 1900.5 L1782.8 1902.4 L1786.4 1904.2 L1789.9 1906.1 L1793.5 1907.9 L1797 1909.7 L1800.6 1911.5 L1804.2 1913.4 L1807.7 1915.2 L1811.3 1917 L1814.9 1918.8 L1818.5 1920.6 L1822.1 1922.4 L1825.6 1924.2 L1829.2 1926 L1832.8 1927.8 L1836.4 1929.6 L1840 1931.5 L1843.6 1933.3 L1847.3 1935.1 L1850.9 1937"/>
<path d="M1611.2 1492.5 C1618.7 1503.7 1628.7 1503.8 1636.1 1515.1M1611 1532.6 C1618.4 1543.9 1628.4 1544 1635.8 1555.3M1610.6 1576.9 C1618 1588.2 1628 1588.2 1635.4 1599.5M1610.3 1617.2 C1617.8 1628.4 1627.8 1628.4 1635.3 1639.7M1610.3 1661.5 C1617.9 1672.7 1627.9 1672.6 1635.5 1683.8M1610.9 1702.2 C1618.9 1713.1 1628.9 1712.6 1636.9 1723.5M1613.5 1748.1 C1622.9 1757.8 1632.8 1756 1642.2 1765.7M1624.4 1789.7 C1635.8 1797 1645 1793 1656.4 1800.3M1646.1 1831.8 C1658.9 1836 1666.8 1829.9 1679.6 1834.1M1674.6 1864.2 C1688.1 1865.3 1694.3 1857.4 1707.8 1858.5M1711.9 1890.8 C1725.4 1890.2 1730.6 1881.6 1744.1 1881M1747 1911.6 C1760.5 1910.3 1765.2 1901.5 1778.7 1900.2M1786.4 1932.4 C1799.8 1930.8 1804.3 1921.9 1817.8 1920.3M1822.3 1950.5 C1835.7 1948.9 1840.2 1940 1853.7 1938.4" style="stroke-width:4.7"/>
<path d="M1636.8 1496.5 L1636.8 1500.5 L1636.7 1504.5 L1636.7 1508.5 L1636.7 1512.4 L1636.6 1516.4 L1636.6 1520.4 L1636.6 1524.4 L1636.5 1528.4 L1636.5 1532.4 L1636.4 1536.4 L1636.4 1540.4 L1636.3 1544.4 L1636.3 1548.4 L1636.3 1552.4 L1636.2 1556.4 L1636.2 1560.4 L1636.1 1564.5 L1636.1 1568.5 L1636.1 1572.5 L1636 1576.5 L1636 1580.5 L1636 1584.5 L1635.9 1588.5 L1635.9 1592.6 L1635.9 1596.6 L1635.9 1600.6 L1635.8 1604.6 L1635.8 1608.6 L1635.8 1612.6 L1635.8 1616.7 L1635.8 1620.7 L1635.8 1624.7 L1635.8 1628.7 L1635.8 1632.7 L1635.8 1636.8 L1635.8 1640.9 L1635.8 1644.9 L1635.8 1648.9 L1635.9 1652.9 L1635.9 1657 L1635.9 1661.1 L1636 1665.2 L1636.1 1669.2 L1636.1 1673.2 L1636.2 1677.3 L1636.3 1681.6 L1636.5 1685.6 L1636.6 1689.6 L1636.8 1693.8 L1637 1698.1 L1637.2 1702.2 L1637.5 1706.3 L1637.7 1710.5 L1638.1 1714.6 L1638.4 1718.9 L1638.8 1723.1 L1639.3 1727.5 L1639.9 1732 L1640.6 1736.5 L1641.5 1741.3 L1642.5 1746 L1643.7 1750.8 L1645.2 1755.6 L1646.8 1760.1 L1648.4 1764.2 L1649.9 1768.2 L1651.5 1772.1 L1653.1 1776 L1654.9 1780.1 L1656.8 1784.2 L1658.8 1788.3 L1660.9 1792.4 L1663.1 1796.4 L1665.4 1800.4 L1667.8 1804.2 L1670.3 1808.1 L1672.9 1811.8 L1675.5 1815.5 L1678.3 1819.2 L1681 1822.7 L1683.9 1826.3 L1686.9 1829.6 L1689.9 1833 L1693.1 1836.3 L1696.3 1839.6 L1699.6 1842.8 L1703 1845.8 L1706.5 1848.9 L1710 1851.7 L1713.6 1854.6 L1717.2 1857.2 L1720.8 1859.8 L1724.4 1862.3 L1728 1864.7 L1731.7 1867.1 L1735.2 1869.4 L1738.8 1871.6 L1742.4 1873.7 L1746 1875.9 L1749.5 1878 L1753 1880 L1756.5 1882.1 L1760.1 1884.1 L1763.8 1886.2 L1767.5 1888.3 L1771.3 1890.4 L1775.2 1892.3 L1778.9 1894.2 L1782.7 1896.1 L1786.4 1897.9 L1790.1 1899.7 L1793.9 1901.4 L1797.5 1903.2 L1801.2 1904.9 L1804.9 1906.6 L1808.5 1908.2 L1812.1 1909.9 L1815.7 1911.6 L1819.2 1913.3 L1822.8 1914.9 L1826.3 1916.6 L1829.7 1918.3 L1833.2 1920 L1836.6 1921.7 L1839.8 1923.4 L1843.2 1925.2 L1846.3 1926.9 L1849.4 1928.7 L1852.4 1930.5 L1855.4 1932.4 L1858.3 1934.3 L1861.1 1936.2 L1863.9 1938.3 L1866.5 1940.3 L1869.2 1942.5 L1872 1944.9 L1874.8 1947.3 L1877.7 1949.9 L1880.7 1952.6 L1883.9 1955.4 L1887.1 1958.1 L1890.4 1960.9 L1893.7 1963.6 L1897 1966.3 L1900.4 1969 L1903.8 1971.5 L1907.1 1974.1 L1910.5 1976.6 L1913.8 1978.9 L1917.1 1981.3 L1920.4 1983.7 L1923.6 1986 L1926.9 1988.4 L1930.2 1990.8 L1933.4 1993.1 L1936.7 1995.4 L1940 1997.8 L1943.3 2000.1 L1946.5 2002.4 L1949.8 2004.8 L1953.1 2007.1 L1956.4 2009.4 L1959.7 2011.7 L1962.9 2014 L1966.2 2016.4 L1969.5 2018.7 L1972.8 2021 L1976.1 2023.3 L1979.4 2025.6 L1982.6 2027.9 L1985.9 2030.2 L1989.2 2032.5 L1992.5 2034.8 L1995.8 2037.1 L1999 2039.4 L2002.3 2041.7 L2005.6 2044 L2008.9 2046.3 L2012.2 2048.6 L2015.5 2050.9 L2018.8 2053.2 L2022.1 2055.5 L2025.4 2057.8 L2028.7 2060.1 L2032 2062.4 L2035.4 2064.7 L2038.7 2067 L2042 2069.3 L2045.3 2071.5 L2048.7 2073.8 L2052 2076.1 L2055.4 2078.3 L2058.7 2080.6 L2062 2082.8 L2065.4 2085.1 L2068.7 2087.3 L2072.1 2089.5 L2075.4 2091.8 L2078.7 2094 L2082 2096.2 L2085.3 2098.4 L2088.6 2100.6 L2114.9 2061.7 L2111.6 2059.4 L2108.2 2057.2 L2104.9 2054.9 L2101.5 2052.7 L2098.2 2050.5 L2094.9 2048.3 L2091.6 2046 L2088.3 2043.8 L2085 2041.6 L2081.7 2039.4 L2078.4 2037.2 L2075.1 2034.9 L2071.8 2032.7 L2068.5 2030.4 L2065.3 2028.2 L2062 2026 L2058.7 2023.7 L2055.5 2021.5 L2052.2 2019.2 L2048.9 2016.9 L2045.7 2014.6 L2042.4 2012.4 L2039.1 2010.1 L2035.8 2007.8 L2032.6 2005.5 L2029.3 2003.2 L2026 2000.9 L2022.7 1998.6 L2019.5 1996.3 L2016.2 1994 L2012.9 1991.7 L2009.6 1989.4 L2006.4 1987.1 L2003.1 1984.8 L1999.8 1982.5 L1996.6 1980.2 L1993.3 1977.9 L1990 1975.6 L1986.8 1973.3 L1983.5 1971 L1980.3 1968.7 L1977 1966.4 L1973.8 1964.1 L1970.5 1961.8 L1967.3 1959.5 L1964 1957.2 L1960.8 1954.9 L1957.5 1952.5 L1954.3 1950.2 L1951.1 1947.9 L1947.8 1945.6 L1944.6 1943.3 L1941.5 1940.9 L1938.2 1938.6 L1935.2 1936.4 L1932.2 1934.1 L1929.1 1931.8 L1926.2 1929.5 L1923.3 1927.2 L1920.5 1924.8 L1917.6 1922.4 L1914.8 1919.9 L1911.9 1917.4 L1908.9 1914.8 L1905.9 1912.1 L1902.6 1909.2 L1899.3 1906.4 L1895.8 1903.5 L1892.1 1900.7 L1888.5 1898 L1884.7 1895.4 L1880.9 1892.9 L1877.1 1890.5 L1873.2 1888.2 L1869.4 1886 L1865.5 1883.8 L1861.8 1881.8 L1858 1879.8 L1854.1 1877.9 L1850.5 1876.1 L1846.7 1874.3 L1843 1872.5 L1839.3 1870.8 L1835.6 1869 L1831.9 1867.3 L1828.3 1865.6 L1824.6 1863.9 L1821 1862.3 L1817.5 1860.6 L1813.8 1858.9 L1810.3 1857.2 L1806.9 1855.6 L1803.3 1853.9 L1800 1852.2 L1796.5 1850.5 L1793.3 1848.8 L1790.1 1847 L1786.7 1845.2 L1783.5 1843.4 L1780.1 1841.4 L1776.7 1839.4 L1773.3 1837.4 L1770 1835.5 L1766.7 1833.5 L1763.4 1831.5 L1760.2 1829.5 L1757 1827.5 L1753.9 1825.5 L1750.8 1823.4 L1747.9 1821.4 L1745 1819.3 L1742.1 1817.2 L1739.5 1815.1 L1736.7 1812.9 L1734.2 1810.7 L1731.7 1808.4 L1729.2 1806.1 L1726.8 1803.6 L1724.4 1801.1 L1722.1 1798.5 L1719.8 1795.9 L1717.6 1793.2 L1715.4 1790.4 L1713.4 1787.7 L1711.4 1784.9 L1709.4 1782.1 L1707.6 1779.2 L1705.7 1776.2 L1704 1773.3 L1702.4 1770.2 L1700.8 1767.2 L1699.3 1764.1 L1697.8 1761 L1696.4 1757.7 L1695 1754.2 L1693.6 1750.7 L1692.2 1747.3 L1690.9 1743.9 L1689.8 1740.8 L1689 1738 L1688.2 1735 L1687.5 1731.9 L1686.9 1728.8 L1686.4 1725.4 L1685.9 1721.9 L1685.6 1718.4 L1685.2 1714.7 L1684.9 1711 L1684.6 1707.1 L1684.4 1703.3 L1684.1 1699.4 L1683.9 1695.5 L1683.7 1691.8 L1683.6 1688 L1683.4 1684 L1683.3 1680 L1683.2 1676.3 L1683.1 1672.4 L1683 1668.4 L1683 1664.4 L1682.9 1660.5 L1682.9 1656.6 L1682.9 1652.6 L1682.8 1648.6 L1682.8 1644.6 L1682.8 1640.6 L1682.8 1636.7 L1682.8 1632.8 L1682.8 1628.8 L1682.8 1624.8 L1682.8 1620.8 L1682.8 1616.8 L1682.8 1612.8 L1682.8 1608.9 L1682.8 1604.9 L1682.9 1600.9 L1682.9 1596.9 L1682.9 1592.9 L1682.9 1588.9 L1683 1584.9 L1683 1580.9 L1683 1576.9 L1683.1 1572.9 L1683.1 1568.9 L1683.1 1564.9 L1683.2 1560.9 L1683.2 1556.9 L1683.3 1552.9 L1683.3 1548.9 L1683.3 1544.9 L1683.4 1540.9 L1683.4 1536.9 L1683.5 1532.9 L1683.5 1528.9 L1683.6 1524.9 L1683.6 1520.9 L1683.6 1516.9 L1683.7 1512.9 L1683.7 1508.8 L1683.7 1504.8 L1683.8 1500.8 L1683.8 1496.8 Z" style="fill:#fdfdfb;stroke:none"/>
<path d="M1636.8 1496.5 L1636.8 1500.5 L1636.7 1504.5 L1636.7 1508.5 L1636.7 1512.4 L1636.6 1516.4 L1636.6 1520.4 L1636.6 1524.4 L1636.5 1528.4 L1636.5 1532.4 L1636.4 1536.4 L1636.4 1540.4 L1636.3 1544.4 L1636.3 1548.4 L1636.3 1552.4 L1636.2 1556.4 L1636.2 1560.4 L1636.1 1564.5 L1636.1 1568.5 L1636.1 1572.5 L1636 1576.5 L1636 1580.5 L1636 1584.5 L1635.9 1588.5 L1635.9 1592.6 L1635.9 1596.6 L1635.9 1600.6 L1635.8 1604.6 L1635.8 1608.6 L1635.8 1612.6 L1635.8 1616.7 L1635.8 1620.7 L1635.8 1624.7 L1635.8 1628.7 L1635.8 1632.7 L1635.8 1636.8 L1635.8 1640.9 L1635.8 1644.9 L1635.8 1648.9 L1635.9 1652.9 L1635.9 1657 L1635.9 1661.1 L1636 1665.2 L1636.1 1669.2 L1636.1 1673.2 L1636.2 1677.3 L1636.3 1681.6 L1636.5 1685.6 L1636.6 1689.6 L1636.8 1693.8 L1637 1698.1 L1637.2 1702.2 L1637.5 1706.3 L1637.7 1710.5 L1638.1 1714.6 L1638.4 1718.9 L1638.8 1723.1 L1639.3 1727.5 L1639.9 1732 L1640.6 1736.5 L1641.5 1741.3 L1642.5 1746 L1643.7 1750.8 L1645.2 1755.6 L1646.8 1760.1 L1648.4 1764.2 L1649.9 1768.2 L1651.5 1772.1 L1653.1 1776 L1654.9 1780.1 L1656.8 1784.2 L1658.8 1788.3 L1660.9 1792.4 L1663.1 1796.4 L1665.4 1800.4 L1667.8 1804.2 L1670.3 1808.1 L1672.9 1811.8 L1675.5 1815.5 L1678.3 1819.2 L1681 1822.7 L1683.9 1826.3 L1686.9 1829.6 L1689.9 1833 L1693.1 1836.3 L1696.3 1839.6 L1699.6 1842.8 L1703 1845.8 L1706.5 1848.9 L1710 1851.7 L1713.6 1854.6 L1717.2 1857.2 L1720.8 1859.8 L1724.4 1862.3 L1728 1864.7 L1731.7 1867.1 L1735.2 1869.4 L1738.8 1871.6 L1742.4 1873.7 L1746 1875.9 L1749.5 1878 L1753 1880 L1756.5 1882.1 L1760.1 1884.1 L1763.8 1886.2 L1767.5 1888.3 L1771.3 1890.4 L1775.2 1892.3 L1778.9 1894.2 L1782.7 1896.1 L1786.4 1897.9 L1790.1 1899.7 L1793.9 1901.4 L1797.5 1903.2 L1801.2 1904.9 L1804.9 1906.6 L1808.5 1908.2 L1812.1 1909.9 L1815.7 1911.6 L1819.2 1913.3 L1822.8 1914.9 L1826.3 1916.6 L1829.7 1918.3 L1833.2 1920 L1836.6 1921.7 L1839.8 1923.4 L1843.2 1925.2 L1846.3 1926.9 L1849.4 1928.7 L1852.4 1930.5 L1855.4 1932.4 L1858.3 1934.3 L1861.1 1936.2 L1863.9 1938.3 L1866.5 1940.3 L1869.2 1942.5 L1872 1944.9 L1874.8 1947.3 L1877.7 1949.9 L1880.7 1952.6 L1883.9 1955.4 L1887.1 1958.1 L1890.4 1960.9 L1893.7 1963.6 L1897 1966.3 L1900.4 1969 L1903.8 1971.5 L1907.1 1974.1 L1910.5 1976.6 L1913.8 1978.9 L1917.1 1981.3 L1920.4 1983.7 L1923.6 1986 L1926.9 1988.4 L1930.2 1990.8 L1933.4 1993.1 L1936.7 1995.4 L1940 1997.8 L1943.3 2000.1 L1946.5 2002.4 L1949.8 2004.8 L1953.1 2007.1 L1956.4 2009.4 L1959.7 2011.7 L1962.9 2014 L1966.2 2016.4 L1969.5 2018.7 L1972.8 2021 L1976.1 2023.3 L1979.4 2025.6 L1982.6 2027.9 L1985.9 2030.2 L1989.2 2032.5 L1992.5 2034.8 L1995.8 2037.1 L1999 2039.4 L2002.3 2041.7 L2005.6 2044 L2008.9 2046.3 L2012.2 2048.6 L2015.5 2050.9 L2018.8 2053.2 L2022.1 2055.5 L2025.4 2057.8 L2028.7 2060.1 L2032 2062.4 L2035.4 2064.7 L2038.7 2067 L2042 2069.3 L2045.3 2071.5 L2048.7 2073.8 L2052 2076.1 L2055.4 2078.3 L2058.7 2080.6 L2062 2082.8 L2065.4 2085.1 L2068.7 2087.3 L2072.1 2089.5 L2075.4 2091.8 L2078.7 2094 L2082 2096.2 L2085.3 2098.4 L2088.6 2100.6"/>
<path d="M1683.8 1496.8 L1683.8 1500.8 L1683.7 1504.8 L1683.7 1508.8 L1683.7 1512.9 L1683.6 1516.9 L1683.6 1520.9 L1683.6 1524.9 L1683.5 1528.9 L1683.5 1532.9 L1683.4 1536.9 L1683.4 1540.9 L1683.3 1544.9 L1683.3 1548.9 L1683.3 1552.9 L1683.2 1556.9 L1683.2 1560.9 L1683.1 1564.9 L1683.1 1568.9 L1683.1 1572.9 L1683 1576.9 L1683 1580.9 L1683 1584.9 L1682.9 1588.9 L1682.9 1592.9 L1682.9 1596.9 L1682.9 1600.9 L1682.8 1604.9 L1682.8 1608.9 L1682.8 1612.8 L1682.8 1616.8 L1682.8 1620.8 L1682.8 1624.8 L1682.8 1628.8 L1682.8 1632.8 L1682.8 1636.7 L1682.8 1640.6 L1682.8 1644.6 L1682.8 1648.6 L1682.9 1652.6 L1682.9 1656.6 L1682.9 1660.5 L1683 1664.4 L1683 1668.4 L1683.1 1672.4 L1683.2 1676.3 L1683.3 1680 L1683.4 1684 L1683.6 1688 L1683.7 1691.8 L1683.9 1695.5 L1684.1 1699.4 L1684.4 1703.3 L1684.6 1707.1 L1684.9 1711 L1685.2 1714.7 L1685.6 1718.4 L1685.9 1721.9 L1686.4 1725.4 L1686.9 1728.8 L1687.5 1731.9 L1688.2 1735 L1689 1738 L1689.8 1740.8 L1690.9 1743.9 L1692.2 1747.3 L1693.6 1750.7 L1695 1754.2 L1696.4 1757.7 L1697.8 1761 L1699.3 1764.1 L1700.8 1767.2 L1702.4 1770.2 L1704 1773.3 L1705.7 1776.2 L1707.6 1779.2 L1709.4 1782.1 L1711.4 1784.9 L1713.4 1787.7 L1715.4 1790.4 L1717.6 1793.2 L1719.8 1795.9 L1722.1 1798.5 L1724.4 1801.1 L1726.8 1803.6 L1729.2 1806.1 L1731.7 1808.4 L1734.2 1810.7 L1736.7 1812.9 L1739.5 1815.1 L1742.1 1817.2 L1745 1819.3 L1747.9 1821.4 L1750.8 1823.4 L1753.9 1825.5 L1757 1827.5 L1760.2 1829.5 L1763.4 1831.5 L1766.7 1833.5 L1770 1835.5 L1773.3 1837.4 L1776.7 1839.4 L1780.1 1841.4 L1783.5 1843.4 L1786.7 1845.2 L1790.1 1847 L1793.3 1848.8 L1796.5 1850.5 L1800 1852.2 L1803.3 1853.9 L1806.9 1855.6 L1810.3 1857.2 L1813.8 1858.9 L1817.5 1860.6 L1821 1862.3 L1824.6 1863.9 L1828.3 1865.6 L1831.9 1867.3 L1835.6 1869 L1839.3 1870.8 L1843 1872.5 L1846.7 1874.3 L1850.5 1876.1 L1854.1 1877.9 L1858 1879.8 L1861.8 1881.8 L1865.5 1883.8 L1869.4 1886 L1873.2 1888.2 L1877.1 1890.5 L1880.9 1892.9 L1884.7 1895.4 L1888.5 1898 L1892.1 1900.7 L1895.8 1903.5 L1899.3 1906.4 L1902.6 1909.2 L1905.9 1912.1 L1908.9 1914.8 L1911.9 1917.4 L1914.8 1919.9 L1917.6 1922.4 L1920.5 1924.8 L1923.3 1927.2 L1926.2 1929.5 L1929.1 1931.8 L1932.2 1934.1 L1935.2 1936.4 L1938.2 1938.6 L1941.5 1940.9 L1944.6 1943.3 L1947.8 1945.6 L1951.1 1947.9 L1954.3 1950.2 L1957.5 1952.5 L1960.8 1954.9 L1964 1957.2 L1967.3 1959.5 L1970.5 1961.8 L1973.8 1964.1 L1977 1966.4 L1980.3 1968.7 L1983.5 1971 L1986.8 1973.3 L1990 1975.6 L1993.3 1977.9 L1996.6 1980.2 L1999.8 1982.5 L2003.1 1984.8 L2006.4 1987.1 L2009.6 1989.4 L2012.9 1991.7 L2016.2 1994 L2019.5 1996.3 L2022.7 1998.6 L2026 2000.9 L2029.3 2003.2 L2032.6 2005.5 L2035.8 2007.8 L2039.1 2010.1 L2042.4 2012.4 L2045.7 2014.6 L2048.9 2016.9 L2052.2 2019.2 L2055.5 2021.5 L2058.7 2023.7 L2062 2026 L2065.3 2028.2 L2068.5 2030.4 L2071.8 2032.7 L2075.1 2034.9 L2078.4 2037.2 L2081.7 2039.4 L2085 2041.6 L2088.3 2043.8 L2091.6 2046 L2094.9 2048.3 L2098.2 2050.5 L2101.5 2052.7 L2104.9 2054.9 L2108.2 2057.2 L2111.6 2059.4 L2114.9 2061.7"/>
<path d="M1636.9 1480.1 C1650.9 1496.6 1669.7 1496.7 1683.7 1513.2M1636.6 1520 C1650.5 1536.6 1669.3 1536.8 1683.3 1553.4M1636.1 1564.1 C1650.1 1580.6 1668.9 1580.8 1682.9 1597.4M1635.8 1604.3 C1649.9 1620.7 1668.7 1620.8 1682.8 1637.2M1635.7 1648.7 C1650.1 1664.9 1668.9 1664.6 1683.3 1680.8M1636.4 1689.9 C1651.5 1705.4 1670.3 1704.2 1685.4 1719.7M1640 1740 C1658.6 1751.2 1676.5 1745.2 1695 1756.4M1655 1782 C1675.4 1789.4 1691.8 1780.2 1712.1 1787.6M1681.6 1824.5 C1703.2 1826.5 1716.7 1813.4 1738.3 1815.4M1714.3 1855.7 C1735.8 1853 1746.1 1837.3 1767.6 1834.5M1753.1 1880.4 C1774.3 1875.9 1783.3 1859.4 1804.5 1855M1789.9 1899.6 C1810.8 1893.8 1818.7 1876.7 1839.6 1870.9M1828.7 1917.4 C1849.9 1912.8 1858.8 1896.2 1880 1891.6M1859.5 1934.1 C1881.2 1934.2 1893.5 1919.9 1915.1 1920M1893.9 1964.3 C1915.5 1962.8 1926.8 1947.7 1948.4 1946.2M1926.6 1988.2 C1948.2 1986.3 1959.1 1971 1980.7 1969M1962.6 2013.8 C1984.2 2011.7 1995 1996.4 2016.6 1994.3M1995.4 2036.9 C2017 2034.7 2027.8 2019.3 2049.3 2017.2M2031.8 2062.3 C2053.3 2059.9 2063.9 2044.3 2085.4 2042M2065.1 2084.9 C2086.6 2082.3 2097 2066.7 2118.5 2064.1" style="stroke-width:4.7"/>
<path d="M1611.3 1503.8 C1613.1 1503 1617.7 1499 1621.8 1499 C1625.9 1499 1633.7 1503 1636 1503.8"/>
<path d="M1636 1496.6 C1638.4 1495.4 1645.1 1489.1 1650.3 1489.5 C1655.4 1489.9 1661.2 1498.2 1666.9 1499 C1672.6 1499.8 1681.6 1495 1684.5 1494.3"/>
<path d="M2097 2057.4 C2102.2 2058.2 2120.4 2055.4 2127.9 2062.2 C2135.4 2068.9 2141.8 2085.5 2142.2 2097.8 C2142.6 2110.1 2136.2 2127.9 2130.3 2135.8 C2124.3 2143.7 2110.5 2143.7 2106.5 2145.3"/>
<path d="M2087.5 2097.8 C2090.7 2097 2101.8 2090.7 2106.5 2093 C2111.3 2095.4 2116 2106.1 2116 2112.1 C2116 2118 2108.1 2125.9 2106.5 2128.7"/>
<path d="M2106.5 2069.3 C2109.3 2073.2 2122 2084.3 2123.1 2093 C2124.3 2101.8 2115.2 2116.8 2113.6 2121.6"/>
<text class="j" x="1802.9" y="1647.8" style="font-size:32px" textLength="158.6" lengthAdjust="spacing">適用号機</text>
<text class="s" y="1682.4" style="font-size:37px"><tspan x="1801.4" textLength="95" lengthAdjust="spacingAndGlyphs">Serial</tspan> <tspan x="1924.4" textLength="49" lengthAdjust="spacingAndGlyphs">No.</tspan> <tspan x="1998.9" textLength="99" lengthAdjust="spacingAndGlyphs">45007</tspan><tspan x="2101.4" textLength="37" lengthAdjust="spacingAndGlyphs">～</tspan></text>
<path d="M1849.9 1881.6 L1849.9 1698.6 L2081.3 1698.6 L2081.3 1998 L2040 1998"/>
<path d="M1847.5 1960 L1847.5 1998 L1921.2 1998"/>
<g transform="translate(1930.7 1738.1) rotate(90)"><path class="w" d="M20 -12 L86 -12 A4.8 12 0 0 1 86 12 L20 12 Z"/><ellipse cx="86" cy="0" rx="4.8" ry="12"/><path d="M75 -12 A4.8 12 0 0 1 75 12M64 -12 A4.8 12 0 0 1 64 12M53 -12 A4.8 12 0 0 1 53 12M42 -12 A4.8 12 0 0 1 42 12"/><ellipse class="w" cx="22" cy="0" rx="5.8" ry="14.5"/><path class="w" d="M-4.4 19.1 L4.4 19.1 L24.4 19.1 L28.8 0 L24.4 -19.1 L4.4 -19.1 L-4.4 -19.1 L-8.8 0 Z"/><path d="M8.8 0 L4.4 19.1 L-4.4 19.1 L-8.8 0 L-4.4 -19.1 L4.4 -19.1 Z"/><path d="M8.8 0 L28.8 0"/></g>
<path d="M1952.1 1780.3 L2006.7 1772.3"/>
<text class="n" x="2012.4" y="1787.9">21</text>
<ellipse class="w" cx="1929.7" cy="1861.6" rx="21.4" ry="11.4"/>
<ellipse cx="1929.7" cy="1861.6" rx="9.6" ry="5.1"/>
<path d="M1956.8 1864 L2004.3 1873.5"/>
<text class="n" x="2010" y="1890.1">22</text>
<g transform="translate(2110.3 1742.8) rotate(90)"><path class="w" d="M20 -12 L86 -12 A4.8 12 0 0 1 86 12 L20 12 Z"/><ellipse cx="86" cy="0" rx="4.8" ry="12"/><path d="M75 -12 A4.8 12 0 0 1 75 12M64 -12 A4.8 12 0 0 1 64 12M53 -12 A4.8 12 0 0 1 53 12M42 -12 A4.8 12 0 0 1 42 12"/><ellipse class="w" cx="22" cy="0" rx="5.8" ry="14.5"/><path class="w" d="M-4.4 19.1 L4.4 19.1 L24.4 19.1 L28.8 0 L24.4 -19.1 L4.4 -19.1 L-4.4 -19.1 L-8.8 0 Z"/><path d="M8.8 0 L4.4 19.1 L-4.4 19.1 L-8.8 0 L-4.4 -19.1 L4.4 -19.1 Z"/><path d="M8.8 0 L28.8 0"/></g>
<path d="M2130.3 1787.9 L2218.2 1780.3"/>
<text class="n" x="2223.9" y="1795.1">21</text>
<ellipse class="w" cx="2108.9" cy="1864" rx="21.4" ry="11.4"/>
<ellipse cx="2108.9" cy="1864" rx="9.6" ry="5.1"/>
<path d="M2139.8 1864 L2215.8 1870.6"/>
<text class="n" x="2221.5" y="1890.1">22</text>
<path d="M2108.9 1886.3 L2108.9 2164.3"/>
<path d="M1868.9 1936.2 C1872.1 1933.8 1881.6 1923.2 1887.9 1922 C1894.2 1920.8 1904.9 1923.5 1906.9 1929.1 C1908.9 1934.6 1901 1946.1 1899.8 1955.2 C1898.6 1964.3 1899.8 1979 1899.8 1983.7" style="fill:#fdfdfb;"/>
<path d="M1868.9 1936.2 C1868.5 1939.4 1864.9 1948.9 1866.5 1955.2 C1868.1 1961.6 1872.9 1969.5 1878.4 1974.2 C1883.9 1979 1896.2 1982.2 1899.8 1983.7"/>
<path d="M1899.8 1914.8 L1930.7 1898.2 L1954.4 1913.4 L1923.6 1931.5 Z" style="fill:#fdfdfb;"/>
<ellipse cx="1929.7" cy="1913.4" rx="6.7" ry="4.3"/>
<path d="M1923.6 1931.5 C1921.6 1933.8 1914 1938.6 1911.7 1945.7 C1909.3 1952.9 1909.7 1969.5 1909.3 1974.2"/>
<path d="M1949.7 1926.7 L2006.7 1948.1"/>
<text class="n" x="2010" y="1968.5">20</text>
<path d="M1650.3 1898.2 C1653.1 1895 1660.2 1882.8 1666.9 1879.2 C1673.7 1875.6 1684 1873.6 1690.7 1876.8 C1697.4 1880 1703.8 1889.9 1707.3 1898.2 C1710.9 1906.5 1711.4 1916.8 1712.1 1926.7 C1712.7 1936.6 1714.9 1949.8 1711.1 1957.6 C1707.3 1965.4 1693.2 1975.3 1689.3 1973.3 C1685.3 1971.3 1688.7 1955.1 1687.4 1945.7 C1686 1936.4 1684.2 1924.3 1681.2 1917.2 C1678.2 1910.1 1671.3 1905.3 1669.3 1903" style="fill:#fdfdfb;"/>
<ellipse cx="1698.8" cy="1951.4" rx="4.3" ry="6.7" transform="rotate(15 1698.8 1951.4)"/>
<path d="M1633.7 1850.7 L1657.4 1886.3"/>
<path d="M1535.6 2133.3 L1539.1 2131.2 L1542.6 2129.1 L1546 2127.1 L1549.5 2125 L1553 2122.9 L1556.4 2120.9 L1559.9 2118.8 L1563.3 2116.8 L1566.8 2114.7 L1570.3 2112.7 L1573.7 2110.6 L1577.2 2108.6 L1580.6 2106.5 L1584.1 2104.5 L1587.5 2102.5 L1591 2100.4 L1594.5 2098.4 L1597.9 2096.4 L1601.4 2094.3 L1604.9 2092.3 L1608.4 2090.3 L1611.8 2088.2 L1615.3 2086.2 L1618.8 2084.2 L1622.3 2082.2 L1625.8 2080.1"/>
<path d="M1512.1 2093.7 L1515.6 2091.7 L1519 2089.6 L1522.5 2087.5 L1526 2085.5 L1529.4 2083.4 L1532.9 2081.3 L1536.4 2079.3 L1539.9 2077.2 L1543.3 2075.2 L1546.8 2073.1 L1550.3 2071 L1553.8 2069 L1557.3 2066.9 L1560.8 2064.9 L1564.2 2062.8 L1567.7 2060.8 L1571.2 2058.7 L1574.7 2056.7 L1578.2 2054.6 L1581.7 2052.6 L1585.2 2050.6 L1588.7 2048.5 L1592.1 2046.5 L1595.6 2044.5 L1599.1 2042.4 L1602.6 2040.4"/>
<path d="M1528.7 2137.4 C1528.6 2121.4 1519.2 2105.6 1519 2089.6M1553 2122.9 C1552.8 2107 1543.4 2091.1 1543.3 2075.2M1580.6 2106.5 C1580.6 2090.6 1571.2 2074.7 1571.2 2058.7M1604.9 2092.3 C1604.9 2076.3 1595.6 2060.4 1595.6 2044.5" style="stroke-width:4.7"/>
<path d="M1626 2080 L1629.5 2077.9 L1633 2075.7 L1636.5 2073.6 L1639.9 2071.6 L1643.3 2069.5 L1646.7 2067.5 L1650.1 2065.4 L1653.5 2063.4 L1657 2061.4 L1660.4 2059.5 L1663.8 2057.5 L1667.2 2055.6 L1670.7 2053.6 L1674.2 2051.7 L1677.7 2049.7 L1681.2 2047.8 L1684.7 2045.8 L1688.2 2043.9 L1691.8 2042 L1695.3 2040 L1698.8 2038.1 L1702.4 2036.1 L1705.9 2034.2 L1709.4 2032.3 L1713 2030.3 L1716.5 2028.4 L1720.1 2026.5 L1723.6 2024.5 L1727.2 2022.6 L1730.7 2020.6 L1734.3 2018.7 L1737.9 2016.7"/>
<path d="M1602.3 2040.5 L1605.7 2038.5 L1609.2 2036.4 L1612.6 2034.3 L1616.1 2032.2 L1619.6 2030.1 L1623.2 2028 L1626.7 2025.9 L1630.3 2023.8 L1633.8 2021.7 L1637.4 2019.6 L1641 2017.5 L1644.6 2015.5 L1648.2 2013.5 L1651.8 2011.5 L1655.4 2009.5 L1658.9 2007.5 L1662.5 2005.6 L1666 2003.6 L1669.6 2001.6 L1673.2 1999.7 L1676.7 1997.7 L1680.3 1995.8 L1683.8 1993.8 L1687.4 1991.9 L1690.9 1990 L1694.5 1988 L1698 1986.1 L1701.6 1984.1 L1705.1 1982.2 L1708.7 1980.3 L1712.2 1978.3 L1715.8 1976.4"/>
<path d="M1738.2 2016.5 L1741.8 2014.5 L1745.3 2012.5 L1748.7 2010.6 L1752.1 2008.7 L1755.5 2006.9 L1759 2005.1 L1762.5 2003.2 L1766.1 2001.4 L1769.7 1999.6 L1773.3 1997.8 L1777 1995.9 L1780.6 1994.1 L1784.3 1992.3 L1788 1990.4 L1791.6 1988.6 L1795.3 1986.8 L1799 1985 L1802.6 1983.1 L1806.3 1981.3 L1810 1979.5 L1813.7 1977.7 L1817.4 1975.8"/>
<path d="M1715.4 1976.6 L1718.9 1974.6 L1722.5 1972.5 L1726.3 1970.4 L1730.1 1968.3 L1733.9 1966.2 L1737.8 1964.2 L1741.5 1962.3 L1745.3 1960.4 L1749 1958.5 L1752.7 1956.7 L1756.4 1954.8 L1760.1 1953 L1763.8 1951.1 L1767.4 1949.3 L1771.1 1947.4 L1774.8 1945.6 L1778.5 1943.8 L1782.2 1941.9 L1785.9 1940.1 L1789.5 1938.3 L1793.2 1936.5 L1796.9 1934.6"/>
<path d="M1731.2 2020.5 C1731.4 2004.6 1722.2 1988.6 1722.4 1972.6M1755.3 2006.9 C1756.2 1991 1747.8 1974.6 1748.7 1958.6M1784.4 1992.2 C1785.5 1976.3 1777.3 1959.8 1778.3 1943.9" style="stroke-width:4.7"/>
<path d="M1631.3 2050.3 L1650.3 2039.8"/>
<path d="M1662.2 2033.6 L1666.9 2031.3"/>
<path d="M1678.8 2024.6 L1702.6 2011.3"/>
<path d="M1783.4 1936.2 C1787.3 1935.4 1800.4 1928.3 1807.1 1931.5 C1813.9 1934.6 1821.8 1947.3 1823.8 1955.2 C1825.7 1963.2 1819.8 1975 1819 1979"/>
<path d="M1764.3 1995.6 L1790.5 1986.1 L1792.9 2007.5 L1769.1 2017 L1764.3 1995.6"/>
<path d="M1674.1 2166.7 L1690.4 2094.4"/>
<path class="k" d="M1700.2 2096.6 L1702.6 2040.8 L1680.7 2092.2 Z" style="stroke-width:1.5"/>
<ellipse class="w" cx="1820.4" cy="2020.8" rx="15.2" ry="21.4" transform="rotate(20 1820.4 2020.8)"/>
<ellipse cx="1820.4" cy="2020.8" rx="6.8" ry="9.6" transform="rotate(20 1820.4 2020.8)"/>
<path d="M1814.2 2045.5 L1796.7 2114.4"/>
<text class="n" x="1757.2" y="2163.4">22</text>
<g transform="translate(1938.8 2089.2) rotate(210.5)"><path class="w" d="M14 -10.5 L86 -10.5 A5.2 10.5 0 0 1 86 10.5 L14 10.5 Z"/><ellipse cx="86" cy="0" rx="5.2" ry="10.5"/><path d="M77 -10.5 A5.2 10.5 0 0 1 77 10.5M68 -10.5 A5.2 10.5 0 0 1 68 10.5M59 -10.5 A5.2 10.5 0 0 1 59 10.5M50 -10.5 A5.2 10.5 0 0 1 50 10.5M41 -10.5 A5.2 10.5 0 0 1 41 10.5"/><ellipse class="w" cx="16" cy="0" rx="6.9" ry="13.9"/><path class="w" d="M-5.2 18.2 L5.3 18.2 L19.2 18.2 L24.5 0 L19.2 -18.2 L5.3 -18.2 L-5.3 -18.2 L-10.5 0 Z"/><path d="M10.5 0 L5.3 18.2 L-5.2 18.2 L-10.5 0 L-5.3 -18.2 L5.3 -18.2 Z"/><path d="M10.5 0 L24.5 0"/></g>
<path d="M1885.5 2074 L1876 2154.8"/>
<text class="n" x="1845.1" y="2201.4">21</text>
</g>
<!-- 26_bottomright.py -->
<g class="d">
<path d="M1704.8 2342 L1708.5 2341.4 L1712.3 2340.9 L1716.2 2340.3 L1720.2 2339.8 L1724.2 2339.3 L1728.3 2338.7 L1732.5 2338.1 L1736.6 2337.5 L1740.8 2336.9 L1745 2336.2 L1749.2 2335.4 L1753.5 2334.6 L1757.7 2333.7 L1762 2332.8 L1766.4 2331.7 L1770.8 2330.6 L1775.2 2329.3 L1779.7 2327.9 L1784.1 2326.3 L1788.3 2324.7 L1792.5 2322.9 L1796.5 2321.2 L1800.5 2319.3 L1804.4 2317.5 L1808.2 2315.6 L1812 2313.7 L1815.8 2311.8 L1819.5 2309.9 L1823.2 2307.9 L1826.8 2305.9 L1830.5 2304 L1834.1 2302 L1837.6 2300 L1841.2 2298.1 L1844.7 2296.1 L1848.2 2294.2 L1851.6 2292.3 L1855.1 2290.5 L1858.6 2288.6 L1862.3 2286.7 L1866.3 2284.5 L1870.3 2282.1 L1873.7 2280 L1877 2278.1 L1880.3 2276.1 L1883.7 2274.2 L1887.2 2272.2 L1890.7 2270.2 L1894.2 2268.2 L1897.7 2266.2 L1901.2 2264.2 L1904.7 2262.3 L1908.2 2260.3 L1911.8 2258.3 L1915.3 2256.3 L1918.8 2254.3 L1922.3 2252.3 L1925.8 2250.3 L1929.3 2248.3 L1932.8 2246.3 L1936.4 2244.3 L1939.9 2242.3 L1943.4 2240.4 L1946.9 2238.4 L1950.4 2236.4 L1953.9 2234.4 L1957.5 2232.4 L1961 2230.4 L1964.5 2228.4 L1968 2226.4 L1971.5 2224.4 L1975 2222.4 L1978.6 2220.4 L1982.1 2218.4 L1985.6 2216.4 L1989.1 2214.4 L1992.6 2212.4 L1996.2 2210.3 L1999.7 2208.3 L2003.2 2206.3 L2006.7 2204.2 L2010.3 2202.2 L2013.8 2200.2 L2017.3 2198.1 L2020.8 2196.1 L2024.3 2194 L2027.8 2192 L2031.3 2189.9 L2034.8 2187.9 L2038.2 2185.8 L2041.7 2183.8 L2045.2 2181.8 L2048.6 2179.7 L2052.1 2177.7 L2055.5 2175.8 L2058.9 2173.9 L2062.2 2172 L2065.3 2170.3 L2068.2 2168.9 L2071.5 2167.4"/>
<path d="M1697.9 2299.5 L1702.2 2298.8 L1706.5 2298.2 L1710.5 2297.7 L1714.6 2297.2 L1718.5 2296.7 L1722.4 2296.1 L1726.3 2295.6 L1730.1 2295 L1734 2294.4 L1737.7 2293.8 L1741.5 2293.1 L1745.1 2292.4 L1748.8 2291.7 L1752.4 2290.9 L1755.9 2290 L1759.3 2289.2 L1762.6 2288.2 L1765.8 2287.2 L1769 2286 L1772.3 2284.8 L1775.6 2283.4 L1779 2281.9 L1782.3 2280.3 L1785.8 2278.7 L1789.2 2277.1 L1792.6 2275.3 L1796 2273.6 L1799.5 2271.8 L1802.9 2270 L1806.4 2268.1 L1809.9 2266.2 L1813.4 2264.3 L1816.9 2262.4 L1820.4 2260.4 L1823.9 2258.5 L1827.6 2256.5 L1831.2 2254.5 L1834.9 2252.5 L1838.5 2250.6 L1842 2248.8 L1845 2247.1 L1848 2245.3 L1851.5 2243.2 L1855.1 2241 L1858.8 2238.9 L1862.4 2236.9 L1865.9 2234.8 L1869.5 2232.8 L1873 2230.8 L1876.5 2228.8 L1880 2226.8 L1883.5 2224.8 L1887 2222.8 L1890.6 2220.9 L1894.1 2218.9 L1897.6 2216.9 L1901.1 2214.9 L1904.6 2212.9 L1908.1 2210.9 L1911.7 2208.9 L1915.2 2206.9 L1918.7 2204.9 L1922.2 2202.9 L1925.7 2201 L1929.2 2199 L1932.7 2197 L1936.2 2195 L1939.8 2193 L1943.3 2191 L1946.8 2189 L1950.3 2187 L1953.8 2185 L1957.3 2183 L1960.8 2181 L1964.3 2179 L1967.8 2177 L1971.3 2175 L1974.8 2173 L1978.3 2171 L1981.7 2169 L1985.2 2167 L1988.7 2165 L1992.1 2163 L1995.6 2161 L1999.1 2159 L2002.6 2156.9 L2006 2154.9 L2009.5 2152.8 L2013 2150.8 L2016.5 2148.8 L2020 2146.7 L2023.5 2144.7 L2027 2142.6 L2030.5 2140.5 L2034.1 2138.5 L2037.8 2136.4 L2041.5 2134.3 L2045.5 2132.1 L2049.9 2130 L2054 2128.2"/>
<path d="M1697.4 2343.2 C1702.7 2329.2 1700 2312.3 1705.4 2298.3M1729.2 2338.7 C1734.7 2324.8 1732.1 2307.8 1737.6 2293.9M1763.5 2332.6 C1767.3 2318.2 1762.7 2301.6 1766.5 2287.2M1797.6 2320.8 C1798.8 2305.9 1791.4 2290.4 1792.6 2275.5M1827.5 2305.6 C1827.9 2290.7 1819.6 2275.6 1820 2260.7M1855.7 2290.2 C1856.2 2275.3 1848.1 2260.2 1848.6 2245.2M1884.1 2273.9 C1884.3 2259 1875.8 2244 1876 2229.1M1912.2 2258 C1912.4 2243.1 1904 2228.1 1904.1 2213.2M1940.4 2242.1 C1940.5 2227.1 1932.1 2212.2 1932.3 2197.2M1968.5 2226.1 C1968.7 2211.2 1960.2 2196.2 1960.3 2181.3M1996.7 2210 C1996.8 2195.1 1988.2 2180.2 1988.2 2165.3M2024.8 2193.7 C2024.7 2178.8 2016 2164 2016 2149M2052.3 2177.6 C2052.5 2162.6 2044.1 2147.6 2044.3 2132.7" style="stroke-width:4.7"/>
<path d="M2082 2105.7 C2084.9 2102.9 2093.5 2092.9 2099.2 2088.6 C2104.9 2084.3 2113.5 2081.4 2116.4 2080"/>
<path d="M2137.8 2080 C2138.4 2084.3 2143.7 2096.8 2141.2 2105.7 C2138.7 2114.7 2128.4 2127.2 2122.8 2133.6 C2117.2 2140.1 2110.3 2142.6 2107.8 2144.4"/>
<path d="M2094.9 2097.2 C2098.5 2098.6 2111.3 2100.7 2116.4 2105.7 C2121.4 2110.8 2123.5 2123.6 2124.9 2127.2"/>
<path d="M2044.3 2133.2 C2046.6 2130.4 2052.3 2121.1 2058.4 2116.5 C2064.6 2111.9 2075.8 2105.4 2081.2 2105.7 C2086.5 2106.1 2089.4 2112.2 2090.6 2118.6 C2091.8 2125.1 2089 2136.1 2088.5 2144.4 C2087.9 2152.6 2087.4 2164 2087.2 2168" style="fill:#fdfdfb;"/>
<path d="M2058.4 2140.1 C2060.2 2139 2065.9 2132.2 2069.1 2133.6 C2072.4 2135.1 2075.9 2143.3 2077.7 2148.7 C2079.5 2154 2079.5 2163 2079.9 2165.8"/>
<path d="M2088.5 2172.3 L2112.1 2163.7 L2133.5 2174.4 L2107.8 2189.4 Z" style="fill:#fdfdfb;"/>
<ellipse cx="2107.8" cy="2175.3" rx="5.6" ry="3.4"/>
<path d="M2116.4 2193.7 L2140 2230.2 L1927.5 2354.7 L1906.1 2318.2"/>
<path d="M2041.3 2292.4 L2064.9 2326.8"/>
<text class="n" x="2047.7" y="2375.3">20</text>
<path d="M1831 2252.5 C1833.5 2250 1839.2 2240.5 1846 2237.5 C1852.8 2234.5 1864.2 2230 1871.7 2234.5 C1879.2 2239 1887 2255.1 1891.1 2264.5 C1895.1 2274 1895.3 2286.7 1896.2 2291.1" style="fill:#fdfdfb;"/>
<path d="M1848.1 2264.5 C1849.9 2263.7 1855.6 2256.7 1858.9 2259.4 C1862.1 2262.1 1865.6 2274.8 1867.4 2280.8 C1869.3 2286.8 1869.6 2293 1870 2295.4"/>
<path d="M1831 2252.5 L1835.3 2281.7"/>
<path d="M1871.7 2301 L1897.5 2286 L1921.1 2301 L1893.2 2316 Z" style="fill:#fdfdfb;"/>
<ellipse cx="1892.3" cy="2302.3" rx="6" ry="3.4"/>
<path d="M1635.7 2313.9 C1640 2312.8 1654.7 2303.5 1661.5 2307.4 C1668.3 2311.4 1673.5 2328.8 1676.5 2337.5 C1679.5 2346.2 1679 2356.1 1679.5 2359.8" style="fill:#fdfdfb;"/>
<path d="M1652.9 2363.2 L1680.8 2354.7 L1704.4 2369.7 L1670 2388.1 Z" style="fill:#fdfdfb;"/>
<ellipse cx="1675.2" cy="2371" rx="6" ry="3.4"/>
<path d="M1691.5 2382.5 L1764.5 2449.1"/>
<text class="n" x="1755.9" y="2497.6">20</text>
<path d="M1807.4 2080 L1794.5 2116.5"/>
<path d="M1886.8 2080 L1876 2157.2"/>
<g transform="translate(1731 2529.7) rotate(31)"><path class="w" d="M-147 -11 L-48 -11 L-48 11 L-147 11"/><path d="M-147 -11 Q-151 0 -147 11"/><path d="M-112.3 11 q2 -6.6 8 -11M-103 11 q2 -6.6 8 -11M-93.6 11 q2 -6.6 8 -11M-84.2 11 q2 -6.6 8 -11M-74.8 11 q2 -6.6 8 -11M-65.4 11 q2 -6.6 8 -11M-56 11 q2 -6.6 8 -11"/><path class="w" d="M-48 -9.9 L-26 -9.9 L-26 9.9 L-48 9.9"/><path d="M-48 -11 A5 11 0 0 0 -48 11"/></g>
<g transform="translate(1731 2529.7) rotate(31)"><path class="w" d="M-30 -17.8 L0 -19.4 A8.7 19.4 0 0 1 0 19.4 L-30 17.8 A8.7 17.8 0 0 1 -30 -17.8 Z"/><ellipse class="w" cx="0" cy="0" rx="8.7" ry="19.4"/><ellipse cx="0" cy="0" rx="4.8" ry="10.6"/><path d="M-37 -8.1 L-7.4 -8.1 M-37 8.1 L-7.4 8.1"/><path d="M-13.5 -18.8 A8.7 19.4 0 0 0 -13.5 18.8"/></g>
<g transform="translate(1779.5 2602.7) rotate(0)"><path class="w" d="M-172 -13 L-50 -13 L-50 13 L-172 13"/><path d="M-172 -13 Q-176 0 -172 13"/><path d="M-129.3 13 q2 -7.8 8 -13M-115 13 q2 -7.8 8 -13M-100.8 13 q2 -7.8 8 -13M-86.5 13 q2 -7.8 8 -13M-72.3 13 q2 -7.8 8 -13M-58 13 q2 -7.8 8 -13"/><path class="w" d="M-50 -11.7 L-26 -11.7 L-26 11.7 L-50 11.7"/><path d="M-50 -13 A3.9 13 0 0 0 -50 13"/></g>
<g transform="translate(1779.5 2602.7) rotate(0)"><path class="w" d="M-30 -17.8 L0 -19.4 A5.8 19.4 0 0 1 0 19.4 L-30 17.8 A5.8 17.8 0 0 1 -30 -17.8 Z"/><ellipse class="w" cx="0" cy="0" rx="5.8" ry="19.4"/><ellipse cx="0" cy="0" rx="3.2" ry="10.6"/><path d="M-34.6 -8.1 L-4.9 -8.1 M-34.6 8.1 L-4.9 8.1"/><path d="M-13.5 -18.8 A5.8 19.4 0 0 0 -13.5 18.8"/></g>
<path d="M1669.2 2625 L1648.6 2740.9"/>
<path d="M1822.4 2509.1 L1841.7 2491.1 L1888.9 2502.7 L1886.8 2541.3 L1873.9 2534.9 L1824.5 2526.3 Z"/>
<path d="M1841.7 2491.1 L1843.8 2513.4"/>
<path d="M1873.9 2534.9 L1875.2 2517.7"/>
<path d="M1880.3 2502.7 C1883.2 2501.3 1891.4 2495.8 1897.5 2494.1 C1903.6 2492.5 1912.5 2491.4 1916.8 2492.8 C1921.1 2494.3 1923.6 2498.9 1923.2 2502.7 C1922.9 2506.5 1918.9 2512 1914.7 2515.6 C1910.4 2519.2 1900.3 2522.7 1897.5 2524.2"/>
<ellipse cx="1916.8" cy="2502.7" rx="5.1" ry="9.4" transform="rotate(20 1916.8 2502.7)"/>
<path d="M1824.5 2534.9 C1821.7 2536.3 1814.5 2542.8 1807.4 2543.5 C1800.2 2544.2 1789.1 2540.6 1781.6 2539.2 C1774.1 2537.8 1766.7 2533.5 1762.3 2534.9 C1757.9 2536.3 1754.7 2543.1 1755 2547.8 C1755.4 2552.4 1758.6 2558.5 1764.5 2562.8 C1770.3 2567.1 1780.9 2571.7 1790.2 2573.5 C1799.5 2575.3 1813.8 2575.7 1820.2 2573.5 C1826.7 2571.4 1827.4 2562.8 1828.8 2560.6"/>
<ellipse cx="1761" cy="2548.6" rx="6" ry="12" transform="rotate(-20 1761 2548.6)"/>
<path d="M1846 2541.3 C1845.3 2546 1841.3 2561 1841.7 2569.2 C1842.1 2577.5 1847.1 2587.1 1848.1 2590.7"/>
<path d="M1886.8 2541.3 C1886.8 2546.7 1887.1 2561.7 1886.8 2573.5 C1886.4 2585.3 1885 2605.7 1884.6 2612.1"/>
<path d="M1848.1 2590.7 C1844.9 2590.3 1832.9 2586.8 1828.8 2588.5 C1824.7 2590.3 1823.7 2596.8 1823.7 2601.4 C1823.7 2606.1 1823.7 2613.8 1828.8 2616.4 C1834 2619.1 1845.3 2618 1854.6 2617.3 C1863.9 2616.6 1879.6 2613 1884.6 2612.1"/>
<path d="M1850.3 2573.5 C1853.1 2574.6 1861.6 2580 1867.4 2580 C1873.3 2580 1882.5 2574.6 1885.5 2573.5"/>
<path d="M1849.4 2584.2 C1852.4 2585.3 1861.4 2590.9 1867.4 2590.7 C1873.5 2590.5 1882.5 2584.2 1885.5 2583"/>
<path d="M1835.3 2601.4 L1837.4 2615.6"/>
<path d="M1848.1 2601.4 L1849.4 2616.4"/>
<path d="M1916.8 2764.5 L1892.3 2677.9"/>
<path class="k" d="M1901.9 2675.2 L1877.3 2625 L1882.7 2680.7 Z" style="stroke-width:1.5"/>
<text class="j" y="2806" style="font-size:32px"><tspan x="1817">第</tspan><tspan x="1855" style="font-size:36px" textLength="89" lengthAdjust="spacing">6501</tspan><tspan x="1954.5">図</tspan><tspan x="1997">参</tspan><tspan x="2039">照</tspan></text>
<text class="s" y="2843" style="font-size:38px"><tspan x="1815" textLength="60" lengthAdjust="spacingAndGlyphs">See</tspan> <tspan x="1903" textLength="56" lengthAdjust="spacingAndGlyphs">Fig.</tspan> <tspan x="1983" textLength="85" lengthAdjust="spacingAndGlyphs">6501</tspan></text>
</g>
<!-- 27_labels.py -->
<g class="d">
<text class="n" x="1226.2" y="203">29</text>
<path d="M1274.5 215.8 L1318.8 298.7"/>
</g>
<g class="d">
<text class="n" x="40.3" y="2164.1">10</text>
<path d="M108.9 2148 L241.9 2144.8"/>
</g>
<g class="d">
<text class="n" x="158.5" y="1762.3">13</text>
<text class="n" x="259" y="1763.7">14</text>
</g>
<g class="d">
<path d="M901 2769.6 L904.7 2769.4 L908.5 2769.3 L912.6 2769.2 L916.8 2769 L921.2 2768.7 L925.6 2768.4 L930.2 2768 L935 2767.4 L939.8 2766.6 L944.6 2765.5 L949.4 2764.3 L953.9 2762.9 L958.2 2761.5 L962.6 2759.9 L966.8 2758.2 L970.9 2756.5 L975 2754.7 L978.9 2752.8 L982.8 2750.9 L986.7 2748.9 L990.4 2747 L994.1 2745 L997.8 2743 L1001.5 2741 L1005.1 2738.9 L1008.8 2736.8 L1012.4 2734.7 L1016 2732.6 L1019.5 2730.4 L1023 2728.3 L1026.5 2726.1 L1030 2724 L1033.4 2721.8 L1036.9 2719.6 L1040.3 2717.4 L1043.7 2715.3 L1047.1 2713.1 L1050.5 2710.9 L1053.9 2708.8 L1057.3 2706.6 L1060.7 2704.4 L1064.1 2702.3 L1067.4 2700.1 L1070.8 2698 L1074.2 2695.8 L1077.6 2693.7 L1081.1 2691.4 L1084.6 2689.2 L1088 2687 L1091.5 2684.7 L1094.8 2682.4 L1098.2 2680.2 L1101.5 2678 L1104.8 2675.8 L1108.1 2673.7 L1111.4 2671.5 L1114.7 2669.4 L1118 2667.3 L1121.4 2665.2 L1124.7 2663.1 L1128.1 2661 L1131.5 2658.9 L1134.8 2656.8 L1138.2 2654.8 L1141.6 2652.7 L1145 2650.6 L1148.4 2648.6 L1151.9 2646.5 L1155.3 2644.4 L1158.7 2642.4 L1162.1 2640.3 L1165.6 2638.3 L1169.1 2636.2 L1172.5 2634.2 L1176 2632.1 L1179.4 2630.1 L1182.9 2628.1 L1186.3 2626 L1189.8 2624 L1193.2 2621.9 L1196.7 2619.9 L1200.1 2617.8 L1203.6 2615.8 L1207.1 2613.7 L1210.5 2611.7 L1214 2609.7 L1217.5 2607.6 L1220.9 2605.6 L1224.4 2603.5 L1227.8 2601.5 L1231.3 2599.5 L1234.8 2597.4 L1238.2 2595.4 L1241.7 2593.4 L1245.2 2591.3 L1248.6 2589.3 L1252.1 2587.2 L1255.6 2585.2 L1259 2583.2 L1262.5 2581.1 L1266 2579.1 L1269.4 2577.1 L1272.9 2575 L1276.4 2573 L1279.8 2570.9 L1283.3 2568.9 L1286.8 2566.9 L1290.3 2564.8 L1293.7 2562.8 L1297.2 2560.8 L1300.7 2558.7 L1304.1 2556.7 L1307.6 2554.7 L1311.1 2552.6 L1314.5 2550.6 L1318 2548.5 L1321.5 2546.5"/>
<path d="M898.6 2727.7 L902.8 2727.5 L907.1 2727.3 L911.1 2727.2 L914.8 2727 L918.5 2726.8 L922.1 2726.6 L925.5 2726.3 L928.8 2725.8 L931.9 2725.3 L934.9 2724.7 L937.9 2723.9 L941.1 2722.9 L944.4 2721.8 L947.6 2720.6 L950.9 2719.3 L954.2 2718 L957.5 2716.5 L960.8 2714.9 L964.1 2713.3 L967.4 2711.6 L970.9 2709.8 L974.3 2708 L977.6 2706.2 L981 2704.3 L984.3 2702.5 L987.7 2700.5 L991 2698.6 L994.3 2696.6 L997.7 2694.6 L1001 2692.5 L1004.4 2690.4 L1007.7 2688.3 L1011.1 2686.2 L1014.4 2684.1 L1017.8 2682 L1021.2 2679.8 L1024.5 2677.7 L1027.9 2675.5 L1031.3 2673.4 L1034.7 2671.2 L1038.1 2669 L1041.5 2666.9 L1044.9 2664.7 L1048.3 2662.5 L1051.7 2660.4 L1055.1 2658.2 L1058.4 2656.1 L1061.7 2654 L1065 2651.8 L1068.3 2649.7 L1071.6 2647.5 L1074.9 2645.2 L1078.3 2643 L1081.7 2640.7 L1085.2 2638.5 L1088.6 2636.3 L1092.1 2634 L1095.5 2631.8 L1099 2629.6 L1102.5 2627.5 L1105.9 2625.3 L1109.4 2623.2 L1112.9 2621 L1116.4 2618.9 L1119.8 2616.8 L1123.3 2614.7 L1126.8 2612.6 L1130.3 2610.5 L1133.7 2608.4 L1137.2 2606.3 L1140.7 2604.3 L1144.1 2602.2 L1147.6 2600.1 L1151 2598.1 L1154.5 2596 L1158 2594 L1161.5 2591.9 L1164.9 2589.9 L1168.4 2587.8 L1171.9 2585.8 L1175.3 2583.7 L1178.8 2581.7 L1182.3 2579.6 L1185.7 2577.6 L1189.2 2575.5 L1192.7 2573.5 L1196.1 2571.4 L1199.6 2569.4 L1203.1 2567.3 L1206.5 2565.3 L1210 2563.3 L1213.5 2561.2 L1216.9 2559.2 L1220.4 2557.1 L1223.9 2555.1 L1227.4 2553.1 L1230.8 2551 L1234.3 2549 L1237.8 2547 L1241.2 2544.9 L1244.7 2542.9 L1248.2 2540.8 L1251.6 2538.8 L1255.1 2536.8 L1258.6 2534.7 L1262.1 2532.7 L1265.5 2530.7 L1269 2528.6 L1272.5 2526.6 L1275.9 2524.5 L1279.4 2522.5 L1282.9 2520.5 L1286.3 2518.4 L1289.8 2516.4 L1293.2 2514.4 L1296.7 2512.3 L1300.2 2510.3"/>
<path d="M894.7 2770 C900.2 2757.1 899.3 2740.3 904.9 2727.3M924 2768.7 C928.8 2755.5 926.9 2738.8 931.8 2725.6M961 2760.6 C962 2746.5 955.7 2731 956.7 2717M988.5 2748 C988.1 2733.9 980.2 2719.1 979.8 2705M1017.7 2731.6 C1016.4 2717.5 1007.6 2703.2 1006.4 2689.2M1041.8 2716.5 C1040.4 2702.5 1031.3 2688.3 1029.8 2674.3M1068.9 2699.2 C1067.5 2685.2 1058.5 2671 1057 2657M1092.9 2683.7 C1091.2 2669.7 1081.9 2655.7 1080.2 2641.8M1119.4 2666.4 C1118 2652.4 1109.1 2638.1 1107.8 2624.1M1143 2651.8 C1141.9 2637.8 1133.3 2623.4 1132.2 2609.3M1170.5 2635.4 C1169.5 2621.3 1160.9 2606.9 1159.9 2592.8M1194.7 2621 C1193.7 2607 1185.2 2592.5 1184.2 2578.5M1222.4 2604.7 C1221.5 2590.6 1212.9 2576.2 1212 2562.1M1246.7 2590.4 C1245.7 2576.4 1237.2 2561.9 1236.3 2547.8M1274.4 2574.1 C1273.5 2560.1 1265 2545.6 1264 2531.5M1298.7 2559.9 C1297.7 2545.8 1289.2 2531.3 1288.3 2517.3" style="stroke-width:4.7"/>
<path d="M903.9 2731.2 L938.5 2726.5 L943.1 2761.1 L906.2 2766.6 Z"/>
<path d="M989.2 2666.6 L1012.2 2652.8 L1032 2662 L1007.6 2679.1 Z" style="fill:#fdfdfb;"/>
<ellipse cx="1009.9" cy="2666.6" rx="6.5" ry="3.7"/>
<path d="M1173.5 2562.9 L1198.8 2548.2 L1215 2556 L1189.6 2572.2 Z" style="fill:#fdfdfb;"/>
<ellipse cx="1196.5" cy="2562.9" rx="6.5" ry="3.7"/>
<path d="M1030.6 2662 C1033.7 2660.3 1042.2 2651.4 1049.1 2651.4 C1056 2651.4 1066.4 2656 1072.1 2662 C1077.9 2668 1082.9 2681.2 1083.6 2687.4 C1084.4 2693.5 1081 2695.7 1076.7 2698.9 C1072.5 2702.1 1061.4 2705.4 1058.3 2706.7" style="fill:#fdfdfb;"/>
<path d="M1039.9 2678.2 C1041 2680.8 1043.7 2689.5 1046.8 2694.3 C1049.8 2699 1056.4 2704.7 1058.3 2706.7"/>
<path d="M1201.2 2556 C1204.6 2554.5 1214.2 2547.2 1221.9 2546.8 C1229.6 2546.4 1239.6 2548.4 1247.2 2553.7 C1254.9 2559.1 1266.1 2572.2 1268 2579.1 C1269.9 2586 1264.1 2591.1 1258.8 2595.2 C1253.4 2599.3 1239.6 2602.1 1235.7 2603.5" style="fill:#fdfdfb;"/>
<path d="M1219.6 2572.2 C1220.7 2575.2 1223.8 2585.4 1226.5 2590.6 C1229.2 2595.8 1234.2 2601.4 1235.7 2603.5"/>
<path d="M1074.4 2705.8 L1090.6 2739 L1272.6 2634.4 L1256.5 2600.7"/>
<path d="M1182.7 2689.7 L1210.4 2754.2"/>
<text class="n" x="1189.6" y="2797.1">17</text>
<text class="n" x="1629.7" y="2787.8">5</text>
</g>
<g class="d">
<path d="M1252 2067 L1633.7 1850.7"/>
</g>
<g class="d">
<text class="n" x="1354.2" y="1925.2">20</text>
<path d="M1409.7 1933.8 L1452.3 2001.3"/>
</g>
<!-- zz_wm.py -->
<g class="wm">
<path d="M208 1248 L294 1197 L294 1248 Z M320 1248 L407 1197 L407 1248 Z" style="fill:#f2b100;fill-opacity:.36"/>
<filter id="vth" filterUnits="userSpaceOnUse" x="0" y="1200" width="2385" height="460"><feMorphology operator="dilate" radius="18 21"/></filter>
<text y="1564.0" style="font-weight:normal;font-size:383.7px" filter="url(#vth)"><tspan x="98.1" textLength="395.2" lengthAdjust="spacingAndGlyphs">O</tspan><tspan x="536.0" textLength="457.9" lengthAdjust="spacingAndGlyphs">R</tspan><tspan x="970.3" textLength="490.9" lengthAdjust="spacingAndGlyphs">N</tspan><tspan x="1452.9" textLength="366.7" lengthAdjust="spacingAndGlyphs">E</tspan><tspan x="1837.9" textLength="431.9" lengthAdjust="spacingAndGlyphs">K</tspan></text>
<text y="1688" font-size="117"><tspan x="110" textLength="352" lengthAdjust="spacingAndGlyphs">www</tspan><tspan x="472" textLength="1800" lengthAdjust="spacingAndGlyphs">.ornekismakinalari.com.tr</tspan></text>
</g>
</g></svg></body></html>
